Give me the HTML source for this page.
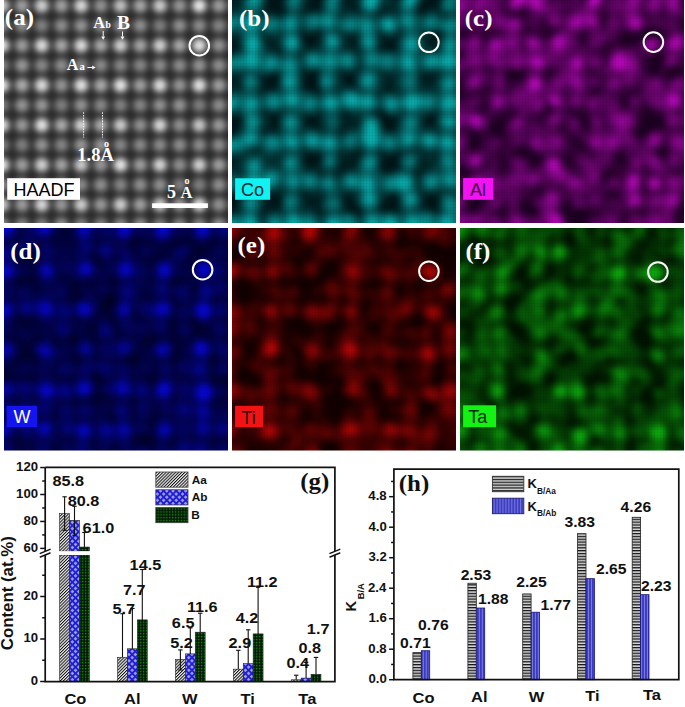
<!DOCTYPE html><html><head><meta charset="utf-8"><style>html,body{margin:0;padding:0;background:#fff;width:685px;height:707px;overflow:hidden}svg{display:block}</style></head><body><svg width="685" height="707" viewBox="0 0 685 707"><defs><clipPath id="c00"><rect x="4" y="0" width="224" height="223"/></clipPath><clipPath id="c01"><rect x="232" y="0" width="224" height="223"/></clipPath><clipPath id="c02"><rect x="460" y="0" width="224" height="223"/></clipPath><clipPath id="c10"><rect x="4" y="228" width="224" height="222.6"/></clipPath><clipPath id="c11"><rect x="232" y="228" width="224" height="222.6"/></clipPath><clipPath id="c12"><rect x="460" y="228" width="224" height="222.6"/></clipPath><filter id="fH" x="-5%" y="-5%" width="110%" height="110%" color-interpolation-filters="sRGB"><feGaussianBlur stdDeviation="3.3"/><feColorMatrix type="matrix" values="0.78 0 0 0 0.16 0.78 0 0 0 0.16 0.78 0 0 0 0.16 0 0 0 0 1"/></filter><pattern id="grid" width="3" height="3" patternUnits="userSpaceOnUse"><rect width="1" height="3" fill="#000" fill-opacity="0.05"/><rect width="3" height="1" fill="#000" fill-opacity="0.035"/></pattern><filter id="fCo" x="-5%" y="-5%" width="110%" height="110%" color-interpolation-filters="sRGB"><feGaussianBlur stdDeviation="2.0"/><feColorMatrix type="matrix" values="0.04 0 0 0 0 0.6 0 0 0 0.08 0.59 0 0 0 0.09 0 0 0 0 1"/></filter><filter id="fAl" x="-5%" y="-5%" width="110%" height="110%" color-interpolation-filters="sRGB"><feGaussianBlur stdDeviation="2.0"/><feColorMatrix type="matrix" values="0.6 0 0 0 0.11 0.03 0 0 0 0 0.59 0 0 0 0.13 0 0 0 0 1"/></filter><filter id="fW" x="-5%" y="-5%" width="110%" height="110%" color-interpolation-filters="sRGB"><feGaussianBlur stdDeviation="2.0"/><feColorMatrix type="matrix" values="0.02 0 0 0 0 0.02 0 0 0 0 0.72 0 0 0 0.09 0 0 0 0 1"/></filter><filter id="fTi" x="-5%" y="-5%" width="110%" height="110%" color-interpolation-filters="sRGB"><feGaussianBlur stdDeviation="2.0"/><feColorMatrix type="matrix" values="0.64 0 0 0 0.07 0.02 0 0 0 0 0.02 0 0 0 0 0 0 0 0 1"/></filter><filter id="fTa" x="-5%" y="-5%" width="110%" height="110%" color-interpolation-filters="sRGB"><feGaussianBlur stdDeviation="2.0"/><feColorMatrix type="matrix" values="0.05 0 0 0 0 0.59 0 0 0 0.07 0.05 0 0 0 0 0 0 0 0 1"/></filter><pattern id="pAa" width="2.2" height="2.2" patternUnits="userSpaceOnUse" patternTransform="rotate(45)"><rect width="2.2" height="2.2" fill="#f2f2f2"/><rect width="1.0" height="2.2" fill="#101010"/></pattern><pattern id="pAb" width="4.45" height="4.45" patternUnits="userSpaceOnUse" patternTransform="rotate(45)"><rect width="4.45" height="4.45" fill="#1e1ed8"/><rect x="0.95" y="0.95" width="2.55" height="2.55" fill="#a4a4e0"/></pattern><pattern id="pB" width="2.9" height="2.9" patternUnits="userSpaceOnUse"><rect width="2.9" height="2.9" fill="#021002"/><rect x="0.8" y="0.8" width="1.5" height="1.5" fill="#17901a"/></pattern><pattern id="pHa" width="3" height="2.85" patternUnits="userSpaceOnUse"><rect width="3" height="2.85" fill="#dcdcdc"/><rect width="3" height="1.3" fill="#121212"/></pattern><pattern id="pHb" width="2.95" height="3" patternUnits="userSpaceOnUse"><rect width="2.95" height="3" fill="#3838d4"/><rect x="0" width="0.7" height="3" fill="#16167c"/><rect x="0.7" width="1.0" height="3" fill="#9494ea"/></pattern></defs><rect width="685" height="707" fill="#fff"/><g clip-path="url(#c00)"><g filter="url(#fH)"><rect x="-6" y="-12" width="246" height="248" fill="#000"/><circle cx="2.3" cy="5.7" r="7.2" fill="rgb(211,211,211)"/><circle cx="22" cy="5.7" r="7.2" fill="rgb(154,154,154)"/><circle cx="41.7" cy="5.7" r="7.2" fill="rgb(217,217,217)"/><circle cx="61.4" cy="5.7" r="7.2" fill="rgb(156,156,156)"/><circle cx="81.1" cy="5.7" r="7.2" fill="rgb(230,230,230)"/><circle cx="100.8" cy="5.7" r="7.2" fill="rgb(137,137,137)"/><circle cx="120.5" cy="5.7" r="7.2" fill="rgb(199,199,199)"/><circle cx="140.2" cy="5.7" r="7.2" fill="rgb(165,165,165)"/><circle cx="159.9" cy="5.7" r="7.2" fill="rgb(212,212,212)"/><circle cx="179.6" cy="5.7" r="7.2" fill="rgb(143,143,143)"/><circle cx="199.3" cy="5.7" r="7.2" fill="rgb(249,249,249)"/><circle cx="219" cy="5.7" r="7.2" fill="rgb(151,151,151)"/><circle cx="238.7" cy="5.7" r="7.2" fill="rgb(241,241,241)"/><circle cx="2.3" cy="25.6" r="7.2" fill="rgb(126,126,126)"/><circle cx="22" cy="25.6" r="7.2" fill="rgb(132,132,132)"/><circle cx="41.7" cy="25.6" r="7.2" fill="rgb(115,115,115)"/><circle cx="61.4" cy="25.6" r="7.2" fill="rgb(132,132,132)"/><circle cx="81.1" cy="25.6" r="7.2" fill="rgb(140,140,140)"/><circle cx="100.8" cy="25.6" r="7.2" fill="rgb(128,128,128)"/><circle cx="120.5" cy="25.6" r="7.2" fill="rgb(136,136,136)"/><circle cx="140.2" cy="25.6" r="7.2" fill="rgb(133,133,133)"/><circle cx="159.9" cy="25.6" r="7.2" fill="rgb(111,111,111)"/><circle cx="179.6" cy="25.6" r="7.2" fill="rgb(136,136,136)"/><circle cx="199.3" cy="25.6" r="7.2" fill="rgb(130,130,130)"/><circle cx="219" cy="25.6" r="7.2" fill="rgb(120,120,120)"/><circle cx="238.7" cy="25.6" r="7.2" fill="rgb(110,110,110)"/><circle cx="2.3" cy="45.5" r="7.2" fill="rgb(243,243,243)"/><circle cx="22" cy="45.5" r="7.2" fill="rgb(152,152,152)"/><circle cx="41.7" cy="45.5" r="7.2" fill="rgb(235,235,235)"/><circle cx="61.4" cy="45.5" r="7.2" fill="rgb(166,166,166)"/><circle cx="81.1" cy="45.5" r="7.2" fill="rgb(235,235,235)"/><circle cx="100.8" cy="45.5" r="7.2" fill="rgb(168,168,168)"/><circle cx="120.5" cy="45.5" r="7.2" fill="rgb(219,219,219)"/><circle cx="140.2" cy="45.5" r="7.2" fill="rgb(163,163,163)"/><circle cx="159.9" cy="45.5" r="7.2" fill="rgb(221,221,221)"/><circle cx="179.6" cy="45.5" r="7.2" fill="rgb(168,168,168)"/><circle cx="199.3" cy="45.5" r="7.2" fill="rgb(243,243,243)"/><circle cx="219" cy="45.5" r="7.2" fill="rgb(138,138,138)"/><circle cx="238.7" cy="45.5" r="7.2" fill="rgb(205,205,205)"/><circle cx="2.3" cy="65.4" r="7.2" fill="rgb(117,117,117)"/><circle cx="22" cy="65.4" r="7.2" fill="rgb(144,144,144)"/><circle cx="41.7" cy="65.4" r="7.2" fill="rgb(125,125,125)"/><circle cx="61.4" cy="65.4" r="7.2" fill="rgb(132,132,132)"/><circle cx="81.1" cy="65.4" r="7.2" fill="rgb(120,120,120)"/><circle cx="100.8" cy="65.4" r="7.2" fill="rgb(127,127,127)"/><circle cx="120.5" cy="65.4" r="7.2" fill="rgb(123,123,123)"/><circle cx="140.2" cy="65.4" r="7.2" fill="rgb(122,122,122)"/><circle cx="159.9" cy="65.4" r="7.2" fill="rgb(130,130,130)"/><circle cx="179.6" cy="65.4" r="7.2" fill="rgb(130,130,130)"/><circle cx="199.3" cy="65.4" r="7.2" fill="rgb(141,141,141)"/><circle cx="219" cy="65.4" r="7.2" fill="rgb(133,133,133)"/><circle cx="238.7" cy="65.4" r="7.2" fill="rgb(142,142,142)"/><circle cx="2.3" cy="85.3" r="7.2" fill="rgb(242,242,242)"/><circle cx="22" cy="85.3" r="7.2" fill="rgb(170,170,170)"/><circle cx="41.7" cy="85.3" r="7.2" fill="rgb(233,233,233)"/><circle cx="61.4" cy="85.3" r="7.2" fill="rgb(140,140,140)"/><circle cx="81.1" cy="85.3" r="7.2" fill="rgb(242,242,242)"/><circle cx="100.8" cy="85.3" r="7.2" fill="rgb(169,169,169)"/><circle cx="120.5" cy="85.3" r="7.2" fill="rgb(245,245,245)"/><circle cx="140.2" cy="85.3" r="7.2" fill="rgb(155,155,155)"/><circle cx="159.9" cy="85.3" r="7.2" fill="rgb(235,235,235)"/><circle cx="179.6" cy="85.3" r="7.2" fill="rgb(142,142,142)"/><circle cx="199.3" cy="85.3" r="7.2" fill="rgb(241,241,241)"/><circle cx="219" cy="85.3" r="7.2" fill="rgb(155,155,155)"/><circle cx="238.7" cy="85.3" r="7.2" fill="rgb(213,213,213)"/><circle cx="2.3" cy="105.2" r="7.2" fill="rgb(111,111,111)"/><circle cx="22" cy="105.2" r="7.2" fill="rgb(140,140,140)"/><circle cx="41.7" cy="105.2" r="7.2" fill="rgb(144,144,144)"/><circle cx="61.4" cy="105.2" r="7.2" fill="rgb(112,112,112)"/><circle cx="81.1" cy="105.2" r="7.2" fill="rgb(138,138,138)"/><circle cx="100.8" cy="105.2" r="7.2" fill="rgb(124,124,124)"/><circle cx="120.5" cy="105.2" r="7.2" fill="rgb(115,115,115)"/><circle cx="140.2" cy="105.2" r="7.2" fill="rgb(120,120,120)"/><circle cx="159.9" cy="105.2" r="7.2" fill="rgb(137,137,137)"/><circle cx="179.6" cy="105.2" r="7.2" fill="rgb(140,140,140)"/><circle cx="199.3" cy="105.2" r="7.2" fill="rgb(111,111,111)"/><circle cx="219" cy="105.2" r="7.2" fill="rgb(131,131,131)"/><circle cx="238.7" cy="105.2" r="7.2" fill="rgb(111,111,111)"/><circle cx="2.3" cy="125.1" r="7.2" fill="rgb(235,235,235)"/><circle cx="22" cy="125.1" r="7.2" fill="rgb(146,146,146)"/><circle cx="41.7" cy="125.1" r="7.2" fill="rgb(243,243,243)"/><circle cx="61.4" cy="125.1" r="7.2" fill="rgb(170,170,170)"/><circle cx="81.1" cy="125.1" r="7.2" fill="rgb(224,224,224)"/><circle cx="100.8" cy="125.1" r="7.2" fill="rgb(170,170,170)"/><circle cx="120.5" cy="125.1" r="7.2" fill="rgb(214,214,214)"/><circle cx="140.2" cy="125.1" r="7.2" fill="rgb(137,137,137)"/><circle cx="159.9" cy="125.1" r="7.2" fill="rgb(229,229,229)"/><circle cx="179.6" cy="125.1" r="7.2" fill="rgb(136,136,136)"/><circle cx="199.3" cy="125.1" r="7.2" fill="rgb(208,208,208)"/><circle cx="219" cy="125.1" r="7.2" fill="rgb(149,149,149)"/><circle cx="238.7" cy="125.1" r="7.2" fill="rgb(230,230,230)"/><circle cx="2.3" cy="145" r="7.2" fill="rgb(115,115,115)"/><circle cx="22" cy="145" r="7.2" fill="rgb(111,111,111)"/><circle cx="41.7" cy="145" r="7.2" fill="rgb(140,140,140)"/><circle cx="61.4" cy="145" r="7.2" fill="rgb(120,120,120)"/><circle cx="81.1" cy="145" r="7.2" fill="rgb(143,143,143)"/><circle cx="100.8" cy="145" r="7.2" fill="rgb(141,141,141)"/><circle cx="120.5" cy="145" r="7.2" fill="rgb(123,123,123)"/><circle cx="140.2" cy="145" r="7.2" fill="rgb(126,126,126)"/><circle cx="159.9" cy="145" r="7.2" fill="rgb(128,128,128)"/><circle cx="179.6" cy="145" r="7.2" fill="rgb(132,132,132)"/><circle cx="199.3" cy="145" r="7.2" fill="rgb(130,130,130)"/><circle cx="219" cy="145" r="7.2" fill="rgb(129,129,129)"/><circle cx="238.7" cy="145" r="7.2" fill="rgb(131,131,131)"/><circle cx="2.3" cy="164.9" r="7.2" fill="rgb(246,246,246)"/><circle cx="22" cy="164.9" r="7.2" fill="rgb(153,153,153)"/><circle cx="41.7" cy="164.9" r="7.2" fill="rgb(220,220,220)"/><circle cx="61.4" cy="164.9" r="7.2" fill="rgb(160,160,160)"/><circle cx="81.1" cy="164.9" r="7.2" fill="rgb(211,211,211)"/><circle cx="100.8" cy="164.9" r="7.2" fill="rgb(145,145,145)"/><circle cx="120.5" cy="164.9" r="7.2" fill="rgb(248,248,248)"/><circle cx="140.2" cy="164.9" r="7.2" fill="rgb(153,153,153)"/><circle cx="159.9" cy="164.9" r="7.2" fill="rgb(226,226,226)"/><circle cx="179.6" cy="164.9" r="7.2" fill="rgb(135,135,135)"/><circle cx="199.3" cy="164.9" r="7.2" fill="rgb(220,220,220)"/><circle cx="219" cy="164.9" r="7.2" fill="rgb(155,155,155)"/><circle cx="238.7" cy="164.9" r="7.2" fill="rgb(199,199,199)"/><circle cx="2.3" cy="184.8" r="7.2" fill="rgb(131,131,131)"/><circle cx="22" cy="184.8" r="7.2" fill="rgb(132,132,132)"/><circle cx="41.7" cy="184.8" r="7.2" fill="rgb(111,111,111)"/><circle cx="61.4" cy="184.8" r="7.2" fill="rgb(132,132,132)"/><circle cx="81.1" cy="184.8" r="7.2" fill="rgb(126,126,126)"/><circle cx="100.8" cy="184.8" r="7.2" fill="rgb(133,133,133)"/><circle cx="120.5" cy="184.8" r="7.2" fill="rgb(122,122,122)"/><circle cx="140.2" cy="184.8" r="7.2" fill="rgb(134,134,134)"/><circle cx="159.9" cy="184.8" r="7.2" fill="rgb(135,135,135)"/><circle cx="179.6" cy="184.8" r="7.2" fill="rgb(110,110,110)"/><circle cx="199.3" cy="184.8" r="7.2" fill="rgb(111,111,111)"/><circle cx="219" cy="184.8" r="7.2" fill="rgb(133,133,133)"/><circle cx="238.7" cy="184.8" r="7.2" fill="rgb(144,144,144)"/><circle cx="2.3" cy="204.7" r="7.2" fill="rgb(211,211,211)"/><circle cx="22" cy="204.7" r="7.2" fill="rgb(151,151,151)"/><circle cx="41.7" cy="204.7" r="7.2" fill="rgb(229,229,229)"/><circle cx="61.4" cy="204.7" r="7.2" fill="rgb(146,146,146)"/><circle cx="81.1" cy="204.7" r="7.2" fill="rgb(217,217,217)"/><circle cx="100.8" cy="204.7" r="7.2" fill="rgb(146,146,146)"/><circle cx="120.5" cy="204.7" r="7.2" fill="rgb(217,217,217)"/><circle cx="140.2" cy="204.7" r="7.2" fill="rgb(156,156,156)"/><circle cx="159.9" cy="204.7" r="7.2" fill="rgb(214,214,214)"/><circle cx="179.6" cy="204.7" r="7.2" fill="rgb(148,148,148)"/><circle cx="199.3" cy="204.7" r="7.2" fill="rgb(238,238,238)"/><circle cx="219" cy="204.7" r="7.2" fill="rgb(136,136,136)"/><circle cx="238.7" cy="204.7" r="7.2" fill="rgb(227,227,227)"/><circle cx="2.3" cy="224.6" r="7.2" fill="rgb(135,135,135)"/><circle cx="22" cy="224.6" r="7.2" fill="rgb(120,120,120)"/><circle cx="41.7" cy="224.6" r="7.2" fill="rgb(117,117,117)"/><circle cx="61.4" cy="224.6" r="7.2" fill="rgb(138,138,138)"/><circle cx="81.1" cy="224.6" r="7.2" fill="rgb(118,118,118)"/><circle cx="100.8" cy="224.6" r="7.2" fill="rgb(116,116,116)"/><circle cx="120.5" cy="224.6" r="7.2" fill="rgb(125,125,125)"/><circle cx="140.2" cy="224.6" r="7.2" fill="rgb(134,134,134)"/><circle cx="159.9" cy="224.6" r="7.2" fill="rgb(113,113,113)"/><circle cx="179.6" cy="224.6" r="7.2" fill="rgb(121,121,121)"/><circle cx="199.3" cy="224.6" r="7.2" fill="rgb(121,121,121)"/><circle cx="219" cy="224.6" r="7.2" fill="rgb(139,139,139)"/><circle cx="238.7" cy="224.6" r="7.2" fill="rgb(125,125,125)"/></g></g><g clip-path="url(#c01)"><g filter="url(#fCo)"><rect x="222" y="-10" width="244" height="244" fill="#000"/><path fill="rgb(11,11,11)" d="M267 -5h5v5h-5zM347 -5h5v5h-5zM352 -5h5v5h-5zM437 -5h5v5h-5zM307 0h5v5h-5zM317 0h5v5h-5zM347 0h5v5h-5zM307 5h5v5h-5zM317 5h5v5h-5zM352 5h5v5h-5zM427 5h5v5h-5zM432 5h5v5h-5zM272 10h5v5h-5zM277 10h5v5h-5zM302 35h5v5h-5zM427 35h5v5h-5zM232 40h5v5h-5zM312 40h5v5h-5zM352 40h5v5h-5zM382 40h5v5h-5zM392 40h5v5h-5zM427 40h5v5h-5zM432 40h5v5h-5zM227 45h5v5h-5zM232 45h5v5h-5zM382 45h5v5h-5zM392 45h5v5h-5zM227 50h5v5h-5zM312 70h5v5h-5zM267 75h5v5h-5zM302 75h5v5h-5zM342 75h5v5h-5zM422 75h5v5h-5zM427 75h5v5h-5zM262 80h5v5h-5zM302 80h5v5h-5zM262 85h5v5h-5zM267 85h5v5h-5zM272 85h5v5h-5zM387 85h5v5h-5zM232 115h5v5h-5zM307 115h5v5h-5zM312 115h5v5h-5zM387 115h5v5h-5zM427 115h5v5h-5zM432 115h5v5h-5zM237 120h5v5h-5zM272 125h5v5h-5zM392 125h5v5h-5zM317 155h5v5h-5zM352 155h5v5h-5zM382 155h5v5h-5zM387 155h5v5h-5zM227 160h5v5h-5zM342 160h5v5h-5zM347 160h5v5h-5zM352 160h5v5h-5zM342 165h5v5h-5zM227 195h5v5h-5zM277 195h5v5h-5zM347 195h5v5h-5zM387 195h5v5h-5zM267 200h5v5h-5zM277 200h5v5h-5zM307 200h5v5h-5zM312 200h5v5h-5zM382 200h5v5h-5zM422 200h5v5h-5zM232 205h5v5h-5zM267 205h5v5h-5zM272 205h5v5h-5zM427 205h5v5h-5zM357 210h5v5h-5z"/><path fill="rgb(22,22,22)" d="M227 -5h5v5h-5zM232 -5h5v5h-5zM237 -5h5v5h-5zM282 -5h5v5h-5zM307 -5h5v5h-5zM392 -5h5v5h-5zM422 -5h5v5h-5zM227 0h5v5h-5zM232 0h5v5h-5zM342 0h5v5h-5zM352 0h5v5h-5zM347 5h5v5h-5zM417 5h5v5h-5zM417 10h5v5h-5zM422 10h5v5h-5zM232 35h5v5h-5zM317 35h5v5h-5zM347 35h5v5h-5zM352 35h5v5h-5zM382 35h5v5h-5zM392 35h5v5h-5zM437 35h5v5h-5zM227 40h5v5h-5zM267 40h5v5h-5zM272 40h5v5h-5zM302 40h5v5h-5zM347 40h5v5h-5zM272 45h5v5h-5zM307 45h5v5h-5zM352 45h5v5h-5zM432 45h5v5h-5zM302 70h5v5h-5zM307 70h5v5h-5zM232 75h5v5h-5zM262 75h5v5h-5zM352 75h5v5h-5zM387 75h5v5h-5zM432 75h5v5h-5zM227 80h5v5h-5zM232 80h5v5h-5zM342 80h5v5h-5zM352 80h5v5h-5zM387 80h5v5h-5zM422 80h5v5h-5zM427 80h5v5h-5zM227 85h5v5h-5zM302 85h5v5h-5zM382 85h5v5h-5zM377 110h5v5h-5zM227 115h5v5h-5zM237 115h5v5h-5zM267 115h5v5h-5zM317 115h5v5h-5zM342 115h5v5h-5zM347 115h5v5h-5zM392 115h5v5h-5zM267 120h5v5h-5zM302 120h5v5h-5zM317 120h5v5h-5zM342 120h5v5h-5zM347 120h5v5h-5zM352 120h5v5h-5zM422 120h5v5h-5zM432 120h5v5h-5zM237 125h5v5h-5zM267 125h5v5h-5zM312 125h5v5h-5zM317 125h5v5h-5zM342 125h5v5h-5zM382 125h5v5h-5zM232 130h5v5h-5zM352 150h5v5h-5zM357 150h5v5h-5zM302 155h5v5h-5zM342 155h5v5h-5zM347 155h5v5h-5zM232 160h5v5h-5zM302 160h5v5h-5zM317 160h5v5h-5zM422 160h5v5h-5zM227 165h5v5h-5zM307 165h5v5h-5zM312 165h5v5h-5zM337 165h5v5h-5zM347 165h5v5h-5zM422 165h5v5h-5zM337 170h5v5h-5zM417 170h5v5h-5zM237 195h5v5h-5zM267 195h5v5h-5zM302 195h5v5h-5zM307 195h5v5h-5zM312 195h5v5h-5zM317 195h5v5h-5zM342 195h5v5h-5zM422 195h5v5h-5zM317 200h5v5h-5zM342 200h5v5h-5zM352 200h5v5h-5zM262 205h5v5h-5zM277 205h5v5h-5zM312 205h5v5h-5zM317 205h5v5h-5zM422 205h5v5h-5zM227 210h5v5h-5zM262 210h5v5h-5zM317 210h5v5h-5zM352 210h5v5h-5z"/><path fill="rgb(33,33,33)" d="M342 -5h5v5h-5zM397 -5h5v5h-5zM237 0h5v5h-5zM392 0h5v5h-5zM437 0h5v5h-5zM227 5h5v5h-5zM232 5h5v5h-5zM282 5h5v5h-5zM302 5h5v5h-5zM342 5h5v5h-5zM382 5h5v5h-5zM387 5h5v5h-5zM392 5h5v5h-5zM262 10h5v5h-5zM267 10h5v5h-5zM282 10h5v5h-5zM302 10h5v5h-5zM377 10h5v5h-5zM382 10h5v5h-5zM302 30h5v5h-5zM312 30h5v5h-5zM317 30h5v5h-5zM432 30h5v5h-5zM437 30h5v5h-5zM227 35h5v5h-5zM267 35h5v5h-5zM387 35h5v5h-5zM422 35h5v5h-5zM317 40h5v5h-5zM237 45h5v5h-5zM267 45h5v5h-5zM277 45h5v5h-5zM312 45h5v5h-5zM347 45h5v5h-5zM377 45h5v5h-5zM427 45h5v5h-5zM277 50h5v5h-5zM342 70h5v5h-5zM347 70h5v5h-5zM352 70h5v5h-5zM227 75h5v5h-5zM237 75h5v5h-5zM382 75h5v5h-5zM392 75h5v5h-5zM237 80h5v5h-5zM382 80h5v5h-5zM392 80h5v5h-5zM432 80h5v5h-5zM232 85h5v5h-5zM237 85h5v5h-5zM392 85h5v5h-5zM422 85h5v5h-5zM427 85h5v5h-5zM312 90h5v5h-5zM317 90h5v5h-5zM262 110h5v5h-5zM342 110h5v5h-5zM382 110h5v5h-5zM277 115h5v5h-5zM302 115h5v5h-5zM352 115h5v5h-5zM377 115h5v5h-5zM422 115h5v5h-5zM262 125h5v5h-5zM307 125h5v5h-5zM347 125h5v5h-5zM352 125h5v5h-5zM422 125h5v5h-5zM427 125h5v5h-5zM432 125h5v5h-5zM262 130h5v5h-5zM302 150h5v5h-5zM307 150h5v5h-5zM312 150h5v5h-5zM347 150h5v5h-5zM397 150h5v5h-5zM232 155h5v5h-5zM357 155h5v5h-5zM397 155h5v5h-5zM422 155h5v5h-5zM432 155h5v5h-5zM427 160h5v5h-5zM232 165h5v5h-5zM317 165h5v5h-5zM352 165h5v5h-5zM397 165h5v5h-5zM417 165h5v5h-5zM427 165h5v5h-5zM317 170h5v5h-5zM382 170h5v5h-5zM387 170h5v5h-5zM272 190h5v5h-5zM277 190h5v5h-5zM302 190h5v5h-5zM262 195h5v5h-5zM352 195h5v5h-5zM382 195h5v5h-5zM437 195h5v5h-5zM262 200h5v5h-5zM302 200h5v5h-5zM302 205h5v5h-5zM307 205h5v5h-5zM342 205h5v5h-5zM357 205h5v5h-5zM377 205h5v5h-5zM397 205h5v5h-5z"/><path fill="rgb(44,44,44)" d="M322 -5h5v5h-5zM357 -5h5v5h-5zM387 -5h5v5h-5zM302 0h5v5h-5zM387 0h5v5h-5zM237 5h5v5h-5zM262 5h5v5h-5zM437 5h5v5h-5zM227 10h5v5h-5zM307 10h5v5h-5zM342 10h5v5h-5zM352 10h5v5h-5zM357 10h5v5h-5zM387 10h5v5h-5zM392 10h5v5h-5zM437 10h5v5h-5zM307 30h5v5h-5zM397 30h5v5h-5zM237 35h5v5h-5zM262 35h5v5h-5zM272 35h5v5h-5zM342 35h5v5h-5zM377 35h5v5h-5zM397 35h5v5h-5zM237 40h5v5h-5zM342 40h5v5h-5zM377 40h5v5h-5zM422 40h5v5h-5zM302 45h5v5h-5zM317 45h5v5h-5zM342 45h5v5h-5zM232 50h5v5h-5zM357 50h5v5h-5zM357 65h5v5h-5zM337 70h5v5h-5zM422 70h5v5h-5zM427 70h5v5h-5zM432 70h5v5h-5zM277 75h5v5h-5zM337 75h5v5h-5zM417 75h5v5h-5zM337 80h5v5h-5zM317 85h5v5h-5zM337 85h5v5h-5zM342 85h5v5h-5zM347 85h5v5h-5zM352 85h5v5h-5zM432 85h5v5h-5zM257 90h5v5h-5zM262 90h5v5h-5zM377 90h5v5h-5zM382 90h5v5h-5zM387 90h5v5h-5zM392 90h5v5h-5zM267 110h5v5h-5zM272 110h5v5h-5zM277 110h5v5h-5zM317 110h5v5h-5zM347 110h5v5h-5zM372 110h5v5h-5zM432 110h5v5h-5zM262 115h5v5h-5zM357 115h5v5h-5zM397 115h5v5h-5zM277 120h5v5h-5zM357 120h5v5h-5zM277 125h5v5h-5zM302 125h5v5h-5zM337 125h5v5h-5zM267 130h5v5h-5zM272 130h5v5h-5zM337 130h5v5h-5zM342 130h5v5h-5zM387 130h5v5h-5zM252 150h5v5h-5zM257 150h5v5h-5zM317 150h5v5h-5zM337 150h5v5h-5zM342 150h5v5h-5zM377 150h5v5h-5zM382 150h5v5h-5zM392 150h5v5h-5zM417 150h5v5h-5zM422 150h5v5h-5zM432 150h5v5h-5zM227 155h5v5h-5zM237 155h5v5h-5zM272 155h5v5h-5zM277 155h5v5h-5zM337 155h5v5h-5zM427 155h5v5h-5zM237 160h5v5h-5zM267 160h5v5h-5zM272 160h5v5h-5zM337 160h5v5h-5zM397 160h5v5h-5zM417 160h5v5h-5zM432 160h5v5h-5zM237 165h5v5h-5zM302 165h5v5h-5zM377 165h5v5h-5zM237 170h5v5h-5zM332 170h5v5h-5zM342 170h5v5h-5zM412 170h5v5h-5zM422 170h5v5h-5zM417 175h5v5h-5zM232 190h5v5h-5zM237 190h5v5h-5zM267 190h5v5h-5zM307 190h5v5h-5zM312 190h5v5h-5zM317 190h5v5h-5zM342 190h5v5h-5zM347 190h5v5h-5zM422 190h5v5h-5zM432 190h5v5h-5zM437 190h5v5h-5zM237 200h5v5h-5zM397 200h5v5h-5zM437 200h5v5h-5zM237 205h5v5h-5zM437 205h5v5h-5zM232 210h5v5h-5zM267 210h5v5h-5zM312 210h5v5h-5zM322 210h5v5h-5zM347 210h5v5h-5zM382 210h5v5h-5zM392 210h5v5h-5zM397 210h5v5h-5zM432 210h5v5h-5z"/><path fill="rgb(55,55,55)" d="M242 -5h5v5h-5zM262 0h5v5h-5zM282 0h5v5h-5zM382 0h5v5h-5zM417 0h5v5h-5zM357 5h5v5h-5zM312 10h5v5h-5zM317 10h5v5h-5zM347 10h5v5h-5zM427 10h5v5h-5zM432 10h5v5h-5zM277 15h5v5h-5zM297 30h5v5h-5zM377 30h5v5h-5zM422 30h5v5h-5zM427 30h5v5h-5zM277 35h5v5h-5zM262 40h5v5h-5zM277 40h5v5h-5zM437 40h5v5h-5zM357 45h5v5h-5zM422 45h5v5h-5zM437 45h5v5h-5zM272 50h5v5h-5zM297 50h5v5h-5zM302 50h5v5h-5zM352 50h5v5h-5zM392 50h5v5h-5zM272 70h5v5h-5zM317 70h5v5h-5zM357 70h5v5h-5zM377 70h5v5h-5zM382 70h5v5h-5zM387 70h5v5h-5zM392 70h5v5h-5zM417 70h5v5h-5zM437 70h5v5h-5zM257 75h5v5h-5zM437 75h5v5h-5zM277 80h5v5h-5zM417 80h5v5h-5zM257 85h5v5h-5zM277 85h5v5h-5zM377 85h5v5h-5zM397 85h5v5h-5zM417 85h5v5h-5zM227 90h5v5h-5zM307 90h5v5h-5zM397 90h5v5h-5zM427 110h5v5h-5zM337 115h5v5h-5zM262 120h5v5h-5zM397 120h5v5h-5zM322 125h5v5h-5zM237 130h5v5h-5zM277 130h5v5h-5zM392 130h5v5h-5zM227 135h5v5h-5zM247 150h5v5h-5zM387 150h5v5h-5zM427 150h5v5h-5zM242 155h5v5h-5zM262 155h5v5h-5zM267 155h5v5h-5zM377 155h5v5h-5zM417 155h5v5h-5zM277 160h5v5h-5zM377 160h5v5h-5zM432 165h5v5h-5zM227 170h5v5h-5zM232 170h5v5h-5zM322 170h5v5h-5zM392 170h5v5h-5zM337 175h5v5h-5zM417 180h5v5h-5zM417 185h5v5h-5zM262 190h5v5h-5zM282 190h5v5h-5zM297 190h5v5h-5zM352 190h5v5h-5zM417 190h5v5h-5zM427 190h5v5h-5zM322 195h5v5h-5zM397 195h5v5h-5zM417 205h5v5h-5zM237 210h5v5h-5zM257 210h5v5h-5zM272 210h5v5h-5zM277 210h5v5h-5zM342 210h5v5h-5zM387 210h5v5h-5zM437 210h5v5h-5zM262 215h5v5h-5zM317 215h5v5h-5zM357 215h5v5h-5z"/><path fill="rgb(67,67,67)" d="M302 -5h5v5h-5zM382 -5h5v5h-5zM357 0h5v5h-5zM397 5h5v5h-5zM232 10h5v5h-5zM237 10h5v5h-5zM257 10h5v5h-5zM297 10h5v5h-5zM337 10h5v5h-5zM397 10h5v5h-5zM442 10h5v5h-5zM377 15h5v5h-5zM232 30h5v5h-5zM262 30h5v5h-5zM277 30h5v5h-5zM337 30h5v5h-5zM342 30h5v5h-5zM352 30h5v5h-5zM357 35h5v5h-5zM397 40h5v5h-5zM262 45h5v5h-5zM397 45h5v5h-5zM237 50h5v5h-5zM267 50h5v5h-5zM377 50h5v5h-5zM382 50h5v5h-5zM387 50h5v5h-5zM297 55h5v5h-5zM357 55h5v5h-5zM357 60h5v5h-5zM302 65h5v5h-5zM232 70h5v5h-5zM237 70h5v5h-5zM277 70h5v5h-5zM397 70h5v5h-5zM317 75h5v5h-5zM377 75h5v5h-5zM397 75h5v5h-5zM257 80h5v5h-5zM377 80h5v5h-5zM237 90h5v5h-5zM267 90h5v5h-5zM302 90h5v5h-5zM337 90h5v5h-5zM432 90h5v5h-5zM377 95h5v5h-5zM377 105h5v5h-5zM232 110h5v5h-5zM237 110h5v5h-5zM282 110h5v5h-5zM302 110h5v5h-5zM312 110h5v5h-5zM337 110h5v5h-5zM352 110h5v5h-5zM357 110h5v5h-5zM397 110h5v5h-5zM422 110h5v5h-5zM437 110h5v5h-5zM322 115h5v5h-5zM322 120h5v5h-5zM337 120h5v5h-5zM357 125h5v5h-5zM397 125h5v5h-5zM437 125h5v5h-5zM317 130h5v5h-5zM322 130h5v5h-5zM382 130h5v5h-5zM437 130h5v5h-5zM457 130h5v5h-5zM257 145h5v5h-5zM357 145h5v5h-5zM417 145h5v5h-5zM242 150h5v5h-5zM262 150h5v5h-5zM277 150h5v5h-5zM282 150h5v5h-5zM297 150h5v5h-5zM362 150h5v5h-5zM402 150h5v5h-5zM412 150h5v5h-5zM437 150h5v5h-5zM437 155h5v5h-5zM262 160h5v5h-5zM357 160h5v5h-5zM272 165h5v5h-5zM277 165h5v5h-5zM312 170h5v5h-5zM377 170h5v5h-5zM277 185h5v5h-5zM322 190h5v5h-5zM337 190h5v5h-5zM382 190h5v5h-5zM387 190h5v5h-5zM392 190h5v5h-5zM442 190h5v5h-5zM452 190h5v5h-5zM457 190h5v5h-5zM297 195h5v5h-5zM337 195h5v5h-5zM457 195h5v5h-5zM377 200h5v5h-5zM297 205h5v5h-5zM302 210h5v5h-5zM307 210h5v5h-5zM362 210h5v5h-5zM377 210h5v5h-5zM257 215h5v5h-5zM262 225h5v5h-5z"/><path fill="rgb(78,78,78)" d="M442 -5h5v5h-5zM397 0h5v5h-5zM322 5h5v5h-5zM337 5h5v5h-5zM377 5h5v5h-5zM372 10h5v5h-5zM412 10h5v5h-5zM452 10h5v5h-5zM457 10h5v5h-5zM262 15h5v5h-5zM337 15h5v5h-5zM372 15h5v5h-5zM417 15h5v5h-5zM437 15h5v5h-5zM442 15h5v5h-5zM457 15h5v5h-5zM302 25h5v5h-5zM237 30h5v5h-5zM322 30h5v5h-5zM347 30h5v5h-5zM392 30h5v5h-5zM417 30h5v5h-5zM297 35h5v5h-5zM357 40h5v5h-5zM282 50h5v5h-5zM397 50h5v5h-5zM422 50h5v5h-5zM432 50h5v5h-5zM352 65h5v5h-5zM227 70h5v5h-5zM242 70h5v5h-5zM257 70h5v5h-5zM262 70h5v5h-5zM267 70h5v5h-5zM297 70h5v5h-5zM297 75h5v5h-5zM317 80h5v5h-5zM397 80h5v5h-5zM297 85h5v5h-5zM332 85h5v5h-5zM357 85h5v5h-5zM437 85h5v5h-5zM232 90h5v5h-5zM272 90h5v5h-5zM277 90h5v5h-5zM332 90h5v5h-5zM372 90h5v5h-5zM422 90h5v5h-5zM427 90h5v5h-5zM437 90h5v5h-5zM317 95h5v5h-5zM257 110h5v5h-5zM297 110h5v5h-5zM307 110h5v5h-5zM322 110h5v5h-5zM402 110h5v5h-5zM297 115h5v5h-5zM417 115h5v5h-5zM437 115h5v5h-5zM377 120h5v5h-5zM417 120h5v5h-5zM417 125h5v5h-5zM257 130h5v5h-5zM297 130h5v5h-5zM302 130h5v5h-5zM332 130h5v5h-5zM347 130h5v5h-5zM432 130h5v5h-5zM337 135h5v5h-5zM457 135h5v5h-5zM252 145h5v5h-5zM302 145h5v5h-5zM412 145h5v5h-5zM272 150h5v5h-5zM407 150h5v5h-5zM297 155h5v5h-5zM457 155h5v5h-5zM242 160h5v5h-5zM437 160h5v5h-5zM262 165h5v5h-5zM267 165h5v5h-5zM322 165h5v5h-5zM332 165h5v5h-5zM357 165h5v5h-5zM412 165h5v5h-5zM437 165h5v5h-5zM242 170h5v5h-5zM302 170h5v5h-5zM307 170h5v5h-5zM327 170h5v5h-5zM347 170h5v5h-5zM352 170h5v5h-5zM427 170h5v5h-5zM317 175h5v5h-5zM332 175h5v5h-5zM412 175h5v5h-5zM282 185h5v5h-5zM337 185h5v5h-5zM227 190h5v5h-5zM242 190h5v5h-5zM377 190h5v5h-5zM447 190h5v5h-5zM282 195h5v5h-5zM377 195h5v5h-5zM417 195h5v5h-5zM297 200h5v5h-5zM322 200h5v5h-5zM357 200h5v5h-5zM417 200h5v5h-5zM257 205h5v5h-5zM322 205h5v5h-5zM282 210h5v5h-5zM297 210h5v5h-5zM337 210h5v5h-5zM402 210h5v5h-5zM427 210h5v5h-5zM322 215h5v5h-5zM262 220h5v5h-5z"/><path fill="rgb(89,89,89)" d="M262 -5h5v5h-5zM322 0h5v5h-5zM337 0h5v5h-5zM242 5h5v5h-5zM297 5h5v5h-5zM287 10h5v5h-5zM362 10h5v5h-5zM447 10h5v5h-5zM257 15h5v5h-5zM272 15h5v5h-5zM297 15h5v5h-5zM302 15h5v5h-5zM342 15h5v5h-5zM422 15h5v5h-5zM297 25h5v5h-5zM397 25h5v5h-5zM417 25h5v5h-5zM227 30h5v5h-5zM257 30h5v5h-5zM267 30h5v5h-5zM272 30h5v5h-5zM357 30h5v5h-5zM382 30h5v5h-5zM402 30h5v5h-5zM442 30h5v5h-5zM417 35h5v5h-5zM442 35h5v5h-5zM457 35h5v5h-5zM337 45h5v5h-5zM262 50h5v5h-5zM307 50h5v5h-5zM317 50h5v5h-5zM337 50h5v5h-5zM342 50h5v5h-5zM347 50h5v5h-5zM417 50h5v5h-5zM427 50h5v5h-5zM437 50h5v5h-5zM227 55h5v5h-5zM277 55h5v5h-5zM297 65h5v5h-5zM337 65h5v5h-5zM362 65h5v5h-5zM417 65h5v5h-5zM332 70h5v5h-5zM457 70h5v5h-5zM242 75h5v5h-5zM357 75h5v5h-5zM457 75h5v5h-5zM297 80h5v5h-5zM437 80h5v5h-5zM242 85h5v5h-5zM242 90h5v5h-5zM322 90h5v5h-5zM357 90h5v5h-5zM402 90h5v5h-5zM417 90h5v5h-5zM457 90h5v5h-5zM257 95h5v5h-5zM262 105h5v5h-5zM362 110h5v5h-5zM367 110h5v5h-5zM387 110h5v5h-5zM392 110h5v5h-5zM417 110h5v5h-5zM242 115h5v5h-5zM242 120h5v5h-5zM437 120h5v5h-5zM242 125h5v5h-5zM257 125h5v5h-5zM297 125h5v5h-5zM352 130h5v5h-5zM397 130h5v5h-5zM417 130h5v5h-5zM422 130h5v5h-5zM452 130h5v5h-5zM337 145h5v5h-5zM342 145h5v5h-5zM352 145h5v5h-5zM397 145h5v5h-5zM237 150h5v5h-5zM267 150h5v5h-5zM322 150h5v5h-5zM372 150h5v5h-5zM457 150h5v5h-5zM247 155h5v5h-5zM257 155h5v5h-5zM282 155h5v5h-5zM322 155h5v5h-5zM297 160h5v5h-5zM242 165h5v5h-5zM297 165h5v5h-5zM357 170h5v5h-5zM397 170h5v5h-5zM432 170h5v5h-5zM437 170h5v5h-5zM227 175h5v5h-5zM237 175h5v5h-5zM337 180h5v5h-5zM317 185h5v5h-5zM437 185h5v5h-5zM257 190h5v5h-5zM357 190h5v5h-5zM242 195h5v5h-5zM257 195h5v5h-5zM357 195h5v5h-5zM282 205h5v5h-5zM337 205h5v5h-5zM327 210h5v5h-5zM417 210h5v5h-5zM422 210h5v5h-5zM317 220h5v5h-5zM357 220h5v5h-5zM322 225h5v5h-5z"/><path fill="rgb(100,100,100)" d="M242 0h5v5h-5zM242 10h5v5h-5zM292 10h5v5h-5zM322 10h5v5h-5zM227 15h5v5h-5zM282 15h5v5h-5zM357 15h5v5h-5zM392 15h5v5h-5zM397 15h5v5h-5zM447 15h5v5h-5zM452 15h5v5h-5zM417 20h5v5h-5zM317 25h5v5h-5zM337 25h5v5h-5zM282 30h5v5h-5zM332 30h5v5h-5zM322 35h5v5h-5zM337 35h5v5h-5zM297 45h5v5h-5zM322 45h5v5h-5zM312 50h5v5h-5zM322 50h5v5h-5zM362 50h5v5h-5zM282 55h5v5h-5zM302 55h5v5h-5zM417 55h5v5h-5zM297 60h5v5h-5zM377 65h5v5h-5zM392 65h5v5h-5zM252 70h5v5h-5zM372 70h5v5h-5zM442 70h5v5h-5zM452 70h5v5h-5zM332 75h5v5h-5zM357 80h5v5h-5zM252 90h5v5h-5zM297 90h5v5h-5zM362 90h5v5h-5zM262 95h5v5h-5zM397 95h5v5h-5zM377 100h5v5h-5zM282 105h5v5h-5zM317 105h5v5h-5zM432 105h5v5h-5zM227 110h5v5h-5zM287 110h5v5h-5zM292 110h5v5h-5zM257 115h5v5h-5zM282 115h5v5h-5zM362 115h5v5h-5zM372 115h5v5h-5zM402 115h5v5h-5zM457 115h5v5h-5zM297 120h5v5h-5zM327 125h5v5h-5zM332 125h5v5h-5zM282 130h5v5h-5zM312 130h5v5h-5zM327 130h5v5h-5zM357 130h5v5h-5zM427 130h5v5h-5zM232 135h5v5h-5zM262 135h5v5h-5zM342 135h5v5h-5zM262 145h5v5h-5zM297 145h5v5h-5zM377 145h5v5h-5zM422 145h5v5h-5zM232 150h5v5h-5zM287 150h5v5h-5zM292 150h5v5h-5zM332 150h5v5h-5zM452 150h5v5h-5zM252 155h5v5h-5zM402 155h5v5h-5zM457 160h5v5h-5zM402 165h5v5h-5zM277 170h5v5h-5zM282 170h5v5h-5zM297 170h5v5h-5zM407 170h5v5h-5zM457 170h5v5h-5zM322 175h5v5h-5zM377 175h5v5h-5zM382 175h5v5h-5zM412 180h5v5h-5zM237 185h5v5h-5zM272 185h5v5h-5zM297 185h5v5h-5zM302 185h5v5h-5zM342 185h5v5h-5zM377 185h5v5h-5zM412 185h5v5h-5zM422 185h5v5h-5zM442 185h5v5h-5zM287 190h5v5h-5zM292 190h5v5h-5zM332 190h5v5h-5zM397 190h5v5h-5zM257 200h5v5h-5zM282 200h5v5h-5zM337 200h5v5h-5zM362 205h5v5h-5zM372 205h5v5h-5zM402 205h5v5h-5zM412 205h5v5h-5zM242 210h5v5h-5zM332 210h5v5h-5zM372 210h5v5h-5zM412 210h5v5h-5zM227 215h5v5h-5zM312 215h5v5h-5zM352 215h5v5h-5zM257 220h5v5h-5zM357 225h5v5h-5zM362 225h5v5h-5z"/><path fill="rgb(111,111,111)" d="M287 -5h5v5h-5zM337 -5h5v5h-5zM417 -5h5v5h-5zM457 -5h5v5h-5zM297 0h5v5h-5zM377 0h5v5h-5zM457 0h5v5h-5zM257 5h5v5h-5zM287 5h5v5h-5zM412 5h5v5h-5zM457 5h5v5h-5zM367 10h5v5h-5zM267 15h5v5h-5zM347 15h5v5h-5zM352 15h5v5h-5zM367 15h5v5h-5zM382 15h5v5h-5zM297 20h5v5h-5zM302 20h5v5h-5zM332 25h5v5h-5zM377 25h5v5h-5zM422 25h5v5h-5zM437 25h5v5h-5zM372 30h5v5h-5zM387 30h5v5h-5zM412 30h5v5h-5zM452 30h5v5h-5zM457 30h5v5h-5zM257 35h5v5h-5zM282 35h5v5h-5zM402 35h5v5h-5zM297 40h5v5h-5zM322 40h5v5h-5zM282 45h5v5h-5zM372 45h5v5h-5zM292 50h5v5h-5zM292 55h5v5h-5zM352 55h5v5h-5zM302 60h5v5h-5zM417 60h5v5h-5zM307 65h5v5h-5zM312 65h5v5h-5zM317 65h5v5h-5zM342 65h5v5h-5zM372 65h5v5h-5zM397 65h5v5h-5zM422 65h5v5h-5zM247 70h5v5h-5zM362 70h5v5h-5zM402 70h5v5h-5zM242 80h5v5h-5zM332 80h5v5h-5zM252 85h5v5h-5zM372 85h5v5h-5zM402 85h5v5h-5zM412 85h5v5h-5zM457 85h5v5h-5zM247 90h5v5h-5zM282 90h5v5h-5zM327 90h5v5h-5zM342 90h5v5h-5zM452 90h5v5h-5zM312 95h5v5h-5zM382 95h5v5h-5zM437 95h5v5h-5zM457 95h5v5h-5zM257 105h5v5h-5zM277 105h5v5h-5zM337 105h5v5h-5zM342 105h5v5h-5zM372 105h5v5h-5zM382 105h5v5h-5zM437 105h5v5h-5zM242 110h5v5h-5zM332 110h5v5h-5zM412 110h5v5h-5zM452 110h5v5h-5zM457 110h5v5h-5zM327 115h5v5h-5zM332 115h5v5h-5zM282 125h5v5h-5zM377 125h5v5h-5zM242 130h5v5h-5zM307 130h5v5h-5zM442 130h5v5h-5zM257 135h5v5h-5zM277 135h5v5h-5zM392 135h5v5h-5zM257 140h5v5h-5zM337 140h5v5h-5zM357 140h5v5h-5zM247 145h5v5h-5zM282 145h5v5h-5zM347 145h5v5h-5zM362 145h5v5h-5zM392 145h5v5h-5zM402 145h5v5h-5zM407 145h5v5h-5zM432 145h5v5h-5zM437 145h5v5h-5zM367 150h5v5h-5zM332 155h5v5h-5zM362 155h5v5h-5zM412 155h5v5h-5zM452 155h5v5h-5zM322 160h5v5h-5zM282 165h5v5h-5zM327 165h5v5h-5zM457 165h5v5h-5zM372 170h5v5h-5zM402 170h5v5h-5zM232 175h5v5h-5zM342 175h5v5h-5zM422 175h5v5h-5zM277 180h5v5h-5zM377 180h5v5h-5zM242 185h5v5h-5zM262 185h5v5h-5zM312 185h5v5h-5zM452 185h5v5h-5zM327 190h5v5h-5zM327 195h5v5h-5zM332 195h5v5h-5zM442 195h5v5h-5zM452 195h5v5h-5zM242 205h5v5h-5zM367 210h5v5h-5zM407 210h5v5h-5zM267 215h5v5h-5zM362 215h5v5h-5zM397 215h5v5h-5zM267 225h5v5h-5zM317 225h5v5h-5z"/><path fill="rgb(122,122,122)" d="M442 5h5v5h-5zM452 5h5v5h-5zM252 10h5v5h-5zM332 10h5v5h-5zM402 10h5v5h-5zM237 15h5v5h-5zM362 15h5v5h-5zM412 15h5v5h-5zM432 15h5v5h-5zM337 20h5v5h-5zM372 20h5v5h-5zM377 20h5v5h-5zM397 20h5v5h-5zM237 25h5v5h-5zM277 25h5v5h-5zM307 25h5v5h-5zM312 25h5v5h-5zM402 25h5v5h-5zM412 25h5v5h-5zM432 25h5v5h-5zM242 30h5v5h-5zM292 30h5v5h-5zM327 30h5v5h-5zM242 35h5v5h-5zM372 35h5v5h-5zM452 35h5v5h-5zM337 40h5v5h-5zM417 40h5v5h-5zM457 40h5v5h-5zM242 45h5v5h-5zM417 45h5v5h-5zM242 50h5v5h-5zM287 50h5v5h-5zM332 50h5v5h-5zM372 50h5v5h-5zM457 50h5v5h-5zM262 55h5v5h-5zM362 55h5v5h-5zM392 55h5v5h-5zM397 55h5v5h-5zM352 60h5v5h-5zM362 60h5v5h-5zM347 65h5v5h-5zM367 65h5v5h-5zM382 65h5v5h-5zM322 70h5v5h-5zM412 70h5v5h-5zM447 70h5v5h-5zM252 75h5v5h-5zM402 75h5v5h-5zM412 75h5v5h-5zM442 75h5v5h-5zM452 75h5v5h-5zM457 80h5v5h-5zM322 85h5v5h-5zM352 90h5v5h-5zM367 90h5v5h-5zM412 90h5v5h-5zM227 95h5v5h-5zM237 95h5v5h-5zM302 95h5v5h-5zM337 95h5v5h-5zM372 95h5v5h-5zM392 95h5v5h-5zM432 95h5v5h-5zM262 100h5v5h-5zM317 100h5v5h-5zM237 105h5v5h-5zM297 105h5v5h-5zM397 105h5v5h-5zM327 110h5v5h-5zM407 110h5v5h-5zM257 120h5v5h-5zM327 120h5v5h-5zM332 120h5v5h-5zM452 125h5v5h-5zM457 125h5v5h-5zM447 130h5v5h-5zM237 135h5v5h-5zM297 135h5v5h-5zM357 135h5v5h-5zM397 135h5v5h-5zM417 135h5v5h-5zM437 135h5v5h-5zM452 135h5v5h-5zM417 140h5v5h-5zM277 145h5v5h-5zM307 145h5v5h-5zM317 145h5v5h-5zM382 145h5v5h-5zM327 150h5v5h-5zM282 160h5v5h-5zM332 160h5v5h-5zM412 160h5v5h-5zM407 165h5v5h-5zM452 165h5v5h-5zM262 170h5v5h-5zM442 170h5v5h-5zM242 175h5v5h-5zM282 175h5v5h-5zM237 180h5v5h-5zM282 180h5v5h-5zM317 180h5v5h-5zM232 185h5v5h-5zM307 185h5v5h-5zM332 185h5v5h-5zM382 185h5v5h-5zM432 185h5v5h-5zM447 185h5v5h-5zM457 185h5v5h-5zM247 190h5v5h-5zM252 190h5v5h-5zM412 190h5v5h-5zM457 200h5v5h-5zM292 205h5v5h-5zM327 205h5v5h-5zM252 210h5v5h-5zM287 210h5v5h-5zM292 210h5v5h-5zM442 210h5v5h-5zM457 210h5v5h-5zM237 215h5v5h-5zM277 215h5v5h-5zM282 215h5v5h-5zM402 215h5v5h-5zM432 215h5v5h-5zM457 215h5v5h-5zM322 220h5v5h-5z"/><path fill="rgb(133,133,133)" d="M402 -5h5v5h-5zM442 0h5v5h-5zM452 0h5v5h-5zM292 5h5v5h-5zM247 10h5v5h-5zM407 10h5v5h-5zM307 15h5v5h-5zM317 15h5v5h-5zM332 15h5v5h-5zM387 15h5v5h-5zM427 15h5v5h-5zM262 20h5v5h-5zM277 20h5v5h-5zM422 20h5v5h-5zM437 20h5v5h-5zM457 20h5v5h-5zM232 25h5v5h-5zM257 25h5v5h-5zM262 25h5v5h-5zM322 25h5v5h-5zM372 25h5v5h-5zM407 30h5v5h-5zM242 40h5v5h-5zM362 45h5v5h-5zM257 50h5v5h-5zM232 55h5v5h-5zM272 55h5v5h-5zM422 55h5v5h-5zM457 55h5v5h-5zM257 65h5v5h-5zM277 65h5v5h-5zM332 65h5v5h-5zM387 65h5v5h-5zM432 65h5v5h-5zM437 65h5v5h-5zM282 70h5v5h-5zM327 70h5v5h-5zM367 70h5v5h-5zM402 80h5v5h-5zM412 80h5v5h-5zM282 85h5v5h-5zM327 85h5v5h-5zM362 85h5v5h-5zM452 85h5v5h-5zM407 90h5v5h-5zM442 90h5v5h-5zM242 95h5v5h-5zM307 95h5v5h-5zM322 95h5v5h-5zM257 100h5v5h-5zM437 100h5v5h-5zM267 105h5v5h-5zM287 105h5v5h-5zM292 105h5v5h-5zM302 105h5v5h-5zM312 105h5v5h-5zM442 110h5v5h-5zM367 115h5v5h-5zM412 115h5v5h-5zM282 120h5v5h-5zM402 120h5v5h-5zM457 120h5v5h-5zM402 125h5v5h-5zM442 125h5v5h-5zM292 130h5v5h-5zM377 130h5v5h-5zM412 130h5v5h-5zM302 135h5v5h-5zM332 135h5v5h-5zM382 135h5v5h-5zM262 140h5v5h-5zM342 140h5v5h-5zM397 140h5v5h-5zM457 140h5v5h-5zM242 145h5v5h-5zM312 145h5v5h-5zM427 145h5v5h-5zM457 145h5v5h-5zM227 150h5v5h-5zM442 150h5v5h-5zM292 155h5v5h-5zM372 155h5v5h-5zM257 160h5v5h-5zM402 160h5v5h-5zM452 160h5v5h-5zM372 165h5v5h-5zM442 165h5v5h-5zM292 170h5v5h-5zM362 170h5v5h-5zM452 170h5v5h-5zM277 175h5v5h-5zM297 175h5v5h-5zM312 175h5v5h-5zM327 175h5v5h-5zM372 175h5v5h-5zM387 175h5v5h-5zM437 175h5v5h-5zM457 175h5v5h-5zM332 180h5v5h-5zM422 180h5v5h-5zM437 180h5v5h-5zM267 185h5v5h-5zM287 185h5v5h-5zM322 185h5v5h-5zM347 185h5v5h-5zM352 185h5v5h-5zM292 195h5v5h-5zM242 200h5v5h-5zM332 205h5v5h-5zM407 205h5v5h-5zM442 205h5v5h-5zM232 215h5v5h-5zM302 215h5v5h-5zM437 215h5v5h-5zM397 220h5v5h-5zM457 220h5v5h-5zM402 225h5v5h-5zM457 225h5v5h-5z"/><path fill="rgb(144,144,144)" d="M297 -5h5v5h-5zM362 -5h5v5h-5zM452 -5h5v5h-5zM287 0h5v5h-5zM362 5h5v5h-5zM327 10h5v5h-5zM232 15h5v5h-5zM292 15h5v5h-5zM257 20h5v5h-5zM412 20h5v5h-5zM442 20h5v5h-5zM282 25h5v5h-5zM342 25h5v5h-5zM357 25h5v5h-5zM427 25h5v5h-5zM287 30h5v5h-5zM447 30h5v5h-5zM282 40h5v5h-5zM372 40h5v5h-5zM442 40h5v5h-5zM457 45h5v5h-5zM327 50h5v5h-5zM367 50h5v5h-5zM402 50h5v5h-5zM412 50h5v5h-5zM452 50h5v5h-5zM237 55h5v5h-5zM287 55h5v5h-5zM337 55h5v5h-5zM377 55h5v5h-5zM412 55h5v5h-5zM277 60h5v5h-5zM392 60h5v5h-5zM397 60h5v5h-5zM232 65h5v5h-5zM237 65h5v5h-5zM242 65h5v5h-5zM262 65h5v5h-5zM322 65h5v5h-5zM427 65h5v5h-5zM452 65h5v5h-5zM372 75h5v5h-5zM372 80h5v5h-5zM247 85h5v5h-5zM407 85h5v5h-5zM347 90h5v5h-5zM252 95h5v5h-5zM277 95h5v5h-5zM297 95h5v5h-5zM387 95h5v5h-5zM402 95h5v5h-5zM382 100h5v5h-5zM432 100h5v5h-5zM272 105h5v5h-5zM322 105h5v5h-5zM357 105h5v5h-5zM402 105h5v5h-5zM422 105h5v5h-5zM427 105h5v5h-5zM252 110h5v5h-5zM292 115h5v5h-5zM452 115h5v5h-5zM362 120h5v5h-5zM412 125h5v5h-5zM287 130h5v5h-5zM267 135h5v5h-5zM272 135h5v5h-5zM282 135h5v5h-5zM317 135h5v5h-5zM322 135h5v5h-5zM352 135h5v5h-5zM387 135h5v5h-5zM297 140h5v5h-5zM302 140h5v5h-5zM352 140h5v5h-5zM412 140h5v5h-5zM387 145h5v5h-5zM452 145h5v5h-5zM447 150h5v5h-5zM287 155h5v5h-5zM407 155h5v5h-5zM257 170h5v5h-5zM267 170h5v5h-5zM272 170h5v5h-5zM287 170h5v5h-5zM367 170h5v5h-5zM302 175h5v5h-5zM357 175h5v5h-5zM242 180h5v5h-5zM297 180h5v5h-5zM342 180h5v5h-5zM382 180h5v5h-5zM257 185h5v5h-5zM292 185h5v5h-5zM357 185h5v5h-5zM427 185h5v5h-5zM372 190h5v5h-5zM247 195h5v5h-5zM252 195h5v5h-5zM287 195h5v5h-5zM447 195h5v5h-5zM327 200h5v5h-5zM402 200h5v5h-5zM442 200h5v5h-5zM287 205h5v5h-5zM367 205h5v5h-5zM457 205h5v5h-5zM247 210h5v5h-5zM452 210h5v5h-5zM272 215h5v5h-5zM307 215h5v5h-5zM327 215h5v5h-5zM337 215h5v5h-5zM342 215h5v5h-5zM377 215h5v5h-5zM352 220h5v5h-5zM362 220h5v5h-5zM432 220h5v5h-5zM282 225h5v5h-5zM397 225h5v5h-5zM432 225h5v5h-5zM437 225h5v5h-5z"/><path fill="rgb(155,155,155)" d="M247 -5h5v5h-5zM327 -5h5v5h-5zM377 -5h5v5h-5zM447 -5h5v5h-5zM257 0h5v5h-5zM247 5h5v5h-5zM332 5h5v5h-5zM402 5h5v5h-5zM242 15h5v5h-5zM287 15h5v5h-5zM312 15h5v5h-5zM282 20h5v5h-5zM332 20h5v5h-5zM342 20h5v5h-5zM357 20h5v5h-5zM272 25h5v5h-5zM327 25h5v5h-5zM352 25h5v5h-5zM392 25h5v5h-5zM442 25h5v5h-5zM457 25h5v5h-5zM412 35h5v5h-5zM447 35h5v5h-5zM257 40h5v5h-5zM257 45h5v5h-5zM332 45h5v5h-5zM402 45h5v5h-5zM442 45h5v5h-5zM442 50h5v5h-5zM257 55h5v5h-5zM267 55h5v5h-5zM317 55h5v5h-5zM382 55h5v5h-5zM387 55h5v5h-5zM337 60h5v5h-5zM377 60h5v5h-5zM272 65h5v5h-5zM412 65h5v5h-5zM457 65h5v5h-5zM292 70h5v5h-5zM407 70h5v5h-5zM247 75h5v5h-5zM282 75h5v5h-5zM322 75h5v5h-5zM407 75h5v5h-5zM252 80h5v5h-5zM452 80h5v5h-5zM292 85h5v5h-5zM367 85h5v5h-5zM292 90h5v5h-5zM447 90h5v5h-5zM232 95h5v5h-5zM267 95h5v5h-5zM332 95h5v5h-5zM422 95h5v5h-5zM427 95h5v5h-5zM237 100h5v5h-5zM297 100h5v5h-5zM302 100h5v5h-5zM337 100h5v5h-5zM397 100h5v5h-5zM232 105h5v5h-5zM242 105h5v5h-5zM347 105h5v5h-5zM352 105h5v5h-5zM417 105h5v5h-5zM447 110h5v5h-5zM407 115h5v5h-5zM292 125h5v5h-5zM252 130h5v5h-5zM402 130h5v5h-5zM347 135h5v5h-5zM277 140h5v5h-5zM392 140h5v5h-5zM437 140h5v5h-5zM267 145h5v5h-5zM272 145h5v5h-5zM287 145h5v5h-5zM322 145h5v5h-5zM332 145h5v5h-5zM372 145h5v5h-5zM327 155h5v5h-5zM442 155h5v5h-5zM247 160h5v5h-5zM257 165h5v5h-5zM292 165h5v5h-5zM362 165h5v5h-5zM247 170h5v5h-5zM392 175h5v5h-5zM232 180h5v5h-5zM302 180h5v5h-5zM372 185h5v5h-5zM402 190h5v5h-5zM402 195h5v5h-5zM292 200h5v5h-5zM332 200h5v5h-5zM452 200h5v5h-5zM252 205h5v5h-5zM452 205h5v5h-5zM242 215h5v5h-5zM252 215h5v5h-5zM297 215h5v5h-5zM347 215h5v5h-5zM382 215h5v5h-5zM392 215h5v5h-5zM452 215h5v5h-5zM267 220h5v5h-5zM282 220h5v5h-5zM312 220h5v5h-5zM257 225h5v5h-5z"/><path fill="rgb(166,166,166)" d="M332 0h5v5h-5zM412 0h5v5h-5zM252 5h5v5h-5zM327 5h5v5h-5zM447 5h5v5h-5zM322 15h5v5h-5zM402 15h5v5h-5zM237 20h5v5h-5zM272 20h5v5h-5zM307 20h5v5h-5zM317 20h5v5h-5zM352 20h5v5h-5zM392 20h5v5h-5zM432 20h5v5h-5zM452 20h5v5h-5zM242 25h5v5h-5zM267 25h5v5h-5zM292 25h5v5h-5zM407 25h5v5h-5zM452 25h5v5h-5zM252 30h5v5h-5zM362 30h5v5h-5zM362 35h5v5h-5zM402 40h5v5h-5zM452 40h5v5h-5zM327 45h5v5h-5zM452 45h5v5h-5zM322 55h5v5h-5zM332 55h5v5h-5zM437 55h5v5h-5zM262 60h5v5h-5zM282 60h5v5h-5zM292 60h5v5h-5zM422 60h5v5h-5zM227 65h5v5h-5zM282 65h5v5h-5zM327 65h5v5h-5zM442 65h5v5h-5zM327 75h5v5h-5zM447 75h5v5h-5zM442 85h5v5h-5zM287 90h5v5h-5zM247 95h5v5h-5zM282 95h5v5h-5zM452 95h5v5h-5zM242 100h5v5h-5zM277 100h5v5h-5zM282 100h5v5h-5zM312 100h5v5h-5zM372 100h5v5h-5zM307 105h5v5h-5zM362 105h5v5h-5zM247 110h5v5h-5zM287 115h5v5h-5zM442 115h5v5h-5zM412 120h5v5h-5zM447 125h5v5h-5zM377 135h5v5h-5zM412 135h5v5h-5zM432 135h5v5h-5zM227 140h5v5h-5zM282 140h5v5h-5zM377 140h5v5h-5zM382 140h5v5h-5zM452 140h5v5h-5zM237 145h5v5h-5zM292 145h5v5h-5zM367 155h5v5h-5zM362 160h5v5h-5zM372 160h5v5h-5zM442 160h5v5h-5zM447 165h5v5h-5zM447 170h5v5h-5zM307 175h5v5h-5zM352 175h5v5h-5zM407 175h5v5h-5zM427 175h5v5h-5zM432 175h5v5h-5zM442 175h5v5h-5zM227 180h5v5h-5zM312 180h5v5h-5zM322 180h5v5h-5zM372 180h5v5h-5zM442 180h5v5h-5zM457 180h5v5h-5zM227 185h5v5h-5zM327 185h5v5h-5zM387 185h5v5h-5zM392 185h5v5h-5zM362 190h5v5h-5zM407 190h5v5h-5zM372 200h5v5h-5zM412 200h5v5h-5zM447 210h5v5h-5zM332 215h5v5h-5zM417 215h5v5h-5zM427 215h5v5h-5zM277 220h5v5h-5zM402 220h5v5h-5zM452 220h5v5h-5zM342 225h5v5h-5zM352 225h5v5h-5z"/><path fill="rgb(177,177,177)" d="M292 -5h5v5h-5zM292 0h5v5h-5zM327 0h5v5h-5zM447 0h5v5h-5zM372 5h5v5h-5zM407 5h5v5h-5zM252 15h5v5h-5zM267 20h5v5h-5zM447 20h5v5h-5zM227 25h5v5h-5zM347 25h5v5h-5zM247 30h5v5h-5zM367 30h5v5h-5zM292 35h5v5h-5zM332 35h5v5h-5zM407 35h5v5h-5zM367 45h5v5h-5zM407 50h5v5h-5zM242 55h5v5h-5zM307 55h5v5h-5zM342 55h5v5h-5zM347 55h5v5h-5zM372 55h5v5h-5zM227 60h5v5h-5zM257 60h5v5h-5zM317 60h5v5h-5zM372 60h5v5h-5zM382 60h5v5h-5zM387 60h5v5h-5zM412 60h5v5h-5zM457 60h5v5h-5zM247 65h5v5h-5zM252 65h5v5h-5zM267 65h5v5h-5zM292 65h5v5h-5zM402 65h5v5h-5zM292 75h5v5h-5zM362 75h5v5h-5zM282 80h5v5h-5zM407 80h5v5h-5zM442 80h5v5h-5zM272 95h5v5h-5zM357 95h5v5h-5zM417 95h5v5h-5zM442 95h5v5h-5zM457 100h5v5h-5zM332 105h5v5h-5zM367 105h5v5h-5zM392 105h5v5h-5zM452 105h5v5h-5zM457 105h5v5h-5zM247 115h5v5h-5zM252 115h5v5h-5zM452 120h5v5h-5zM247 125h5v5h-5zM252 125h5v5h-5zM287 125h5v5h-5zM362 125h5v5h-5zM407 125h5v5h-5zM247 130h5v5h-5zM407 130h5v5h-5zM242 135h5v5h-5zM292 135h5v5h-5zM327 135h5v5h-5zM422 135h5v5h-5zM442 135h5v5h-5zM252 140h5v5h-5zM317 140h5v5h-5zM347 140h5v5h-5zM422 140h5v5h-5zM367 145h5v5h-5zM442 145h5v5h-5zM447 155h5v5h-5zM292 160h5v5h-5zM327 160h5v5h-5zM407 160h5v5h-5zM247 165h5v5h-5zM287 165h5v5h-5zM257 175h5v5h-5zM262 175h5v5h-5zM287 175h5v5h-5zM292 175h5v5h-5zM347 175h5v5h-5zM362 175h5v5h-5zM452 175h5v5h-5zM262 180h5v5h-5zM452 180h5v5h-5zM247 185h5v5h-5zM372 195h5v5h-5zM412 195h5v5h-5zM252 200h5v5h-5zM287 200h5v5h-5zM362 200h5v5h-5zM247 205h5v5h-5zM422 215h5v5h-5zM237 220h5v5h-5zM342 220h5v5h-5zM377 220h5v5h-5zM437 220h5v5h-5zM242 225h5v5h-5zM347 225h5v5h-5zM382 225h5v5h-5zM427 225h5v5h-5z"/><path fill="rgb(188,188,188)" d="M257 -5h5v5h-5zM332 -5h5v5h-5zM402 0h5v5h-5zM327 15h5v5h-5zM407 15h5v5h-5zM232 20h5v5h-5zM292 20h5v5h-5zM312 20h5v5h-5zM347 20h5v5h-5zM362 20h5v5h-5zM367 20h5v5h-5zM402 20h5v5h-5zM427 20h5v5h-5zM382 25h5v5h-5zM287 35h5v5h-5zM327 35h5v5h-5zM362 40h5v5h-5zM292 45h5v5h-5zM367 55h5v5h-5zM402 55h5v5h-5zM427 55h5v5h-5zM432 55h5v5h-5zM452 55h5v5h-5zM307 60h5v5h-5zM322 60h5v5h-5zM332 60h5v5h-5zM342 60h5v5h-5zM367 60h5v5h-5zM287 70h5v5h-5zM247 80h5v5h-5zM292 80h5v5h-5zM322 80h5v5h-5zM327 80h5v5h-5zM287 85h5v5h-5zM327 95h5v5h-5zM342 95h5v5h-5zM362 95h5v5h-5zM267 100h5v5h-5zM322 100h5v5h-5zM342 100h5v5h-5zM252 105h5v5h-5zM387 105h5v5h-5zM447 115h5v5h-5zM292 120h5v5h-5zM362 130h5v5h-5zM402 135h5v5h-5zM447 135h5v5h-5zM237 140h5v5h-5zM242 140h5v5h-5zM332 140h5v5h-5zM362 140h5v5h-5zM402 140h5v5h-5zM432 140h5v5h-5zM232 145h5v5h-5zM367 165h5v5h-5zM252 170h5v5h-5zM247 175h5v5h-5zM367 175h5v5h-5zM397 175h5v5h-5zM257 180h5v5h-5zM272 180h5v5h-5zM287 180h5v5h-5zM357 180h5v5h-5zM432 180h5v5h-5zM407 185h5v5h-5zM362 195h5v5h-5zM447 205h5v5h-5zM287 215h5v5h-5zM367 215h5v5h-5zM372 215h5v5h-5zM387 215h5v5h-5zM407 215h5v5h-5zM412 215h5v5h-5zM302 220h5v5h-5zM347 220h5v5h-5zM427 220h5v5h-5zM277 225h5v5h-5zM287 225h5v5h-5zM302 225h5v5h-5zM312 225h5v5h-5zM377 225h5v5h-5zM422 225h5v5h-5z"/><path fill="rgb(200,200,200)" d="M247 0h5v5h-5zM362 0h5v5h-5zM247 15h5v5h-5zM227 20h5v5h-5zM242 20h5v5h-5zM322 20h5v5h-5zM287 25h5v5h-5zM362 25h5v5h-5zM367 25h5v5h-5zM447 25h5v5h-5zM247 35h5v5h-5zM367 35h5v5h-5zM287 45h5v5h-5zM412 45h5v5h-5zM247 50h5v5h-5zM447 50h5v5h-5zM312 55h5v5h-5zM327 55h5v5h-5zM232 60h5v5h-5zM237 60h5v5h-5zM242 60h5v5h-5zM272 60h5v5h-5zM347 60h5v5h-5zM437 60h5v5h-5zM447 65h5v5h-5zM362 80h5v5h-5zM447 85h5v5h-5zM367 95h5v5h-5zM307 100h5v5h-5zM392 100h5v5h-5zM402 100h5v5h-5zM422 100h5v5h-5zM427 100h5v5h-5zM327 105h5v5h-5zM442 105h5v5h-5zM247 120h5v5h-5zM372 120h5v5h-5zM407 120h5v5h-5zM442 120h5v5h-5zM252 135h5v5h-5zM287 135h5v5h-5zM307 135h5v5h-5zM312 135h5v5h-5zM232 140h5v5h-5zM267 140h5v5h-5zM272 140h5v5h-5zM322 140h5v5h-5zM387 140h5v5h-5zM327 145h5v5h-5zM447 145h5v5h-5zM252 160h5v5h-5zM447 160h5v5h-5zM272 175h5v5h-5zM307 180h5v5h-5zM327 180h5v5h-5zM387 180h5v5h-5zM252 185h5v5h-5zM397 185h5v5h-5zM447 200h5v5h-5zM247 215h5v5h-5zM442 215h5v5h-5zM227 220h5v5h-5zM242 220h5v5h-5zM307 220h5v5h-5zM337 220h5v5h-5zM417 220h5v5h-5zM422 220h5v5h-5zM237 225h5v5h-5zM272 225h5v5h-5zM367 225h5v5h-5zM452 225h5v5h-5z"/><path fill="rgb(211,211,211)" d="M382 20h5v5h-5zM407 20h5v5h-5zM252 25h5v5h-5zM252 35h5v5h-5zM447 40h5v5h-5zM252 50h5v5h-5zM407 55h5v5h-5zM442 55h5v5h-5zM267 60h5v5h-5zM287 60h5v5h-5zM312 60h5v5h-5zM452 60h5v5h-5zM287 65h5v5h-5zM407 65h5v5h-5zM287 75h5v5h-5zM367 75h5v5h-5zM447 95h5v5h-5zM232 100h5v5h-5zM272 100h5v5h-5zM357 100h5v5h-5zM227 105h5v5h-5zM247 105h5v5h-5zM412 105h5v5h-5zM252 120h5v5h-5zM362 135h5v5h-5zM427 135h5v5h-5zM247 140h5v5h-5zM407 140h5v5h-5zM227 145h5v5h-5zM287 160h5v5h-5zM402 175h5v5h-5zM447 175h5v5h-5zM292 180h5v5h-5zM347 180h5v5h-5zM352 180h5v5h-5zM392 180h5v5h-5zM427 180h5v5h-5zM447 180h5v5h-5zM362 185h5v5h-5zM367 190h5v5h-5zM247 200h5v5h-5zM407 200h5v5h-5zM292 215h5v5h-5zM447 215h5v5h-5zM232 220h5v5h-5zM252 220h5v5h-5zM272 220h5v5h-5zM297 220h5v5h-5zM382 220h5v5h-5zM392 220h5v5h-5zM307 225h5v5h-5zM327 225h5v5h-5zM407 225h5v5h-5zM417 225h5v5h-5z"/><path fill="rgb(222,222,222)" d="M412 -5h5v5h-5zM252 0h5v5h-5zM367 5h5v5h-5zM287 20h5v5h-5zM327 20h5v5h-5zM327 40h5v5h-5zM332 40h5v5h-5zM412 40h5v5h-5zM407 45h5v5h-5zM447 45h5v5h-5zM327 60h5v5h-5zM402 60h5v5h-5zM432 60h5v5h-5zM367 80h5v5h-5zM447 80h5v5h-5zM292 95h5v5h-5zM407 95h5v5h-5zM412 95h5v5h-5zM227 100h5v5h-5zM252 100h5v5h-5zM287 100h5v5h-5zM292 100h5v5h-5zM332 100h5v5h-5zM387 100h5v5h-5zM417 100h5v5h-5zM442 100h5v5h-5zM452 100h5v5h-5zM407 105h5v5h-5zM447 105h5v5h-5zM287 120h5v5h-5zM292 140h5v5h-5zM307 140h5v5h-5zM312 140h5v5h-5zM367 160h5v5h-5zM252 165h5v5h-5zM252 175h5v5h-5zM247 180h5v5h-5zM267 180h5v5h-5zM407 180h5v5h-5zM407 195h5v5h-5zM367 200h5v5h-5zM227 225h5v5h-5zM232 225h5v5h-5zM442 225h5v5h-5z"/><path fill="rgb(233,233,233)" d="M252 -5h5v5h-5zM372 0h5v5h-5zM252 20h5v5h-5zM247 25h5v5h-5zM387 25h5v5h-5zM292 40h5v5h-5zM367 40h5v5h-5zM247 45h5v5h-5zM252 55h5v5h-5zM427 60h5v5h-5zM287 95h5v5h-5zM352 95h5v5h-5zM247 100h5v5h-5zM362 100h5v5h-5zM367 120h5v5h-5zM372 125h5v5h-5zM247 135h5v5h-5zM407 135h5v5h-5zM287 140h5v5h-5zM427 140h5v5h-5zM442 140h5v5h-5zM267 175h5v5h-5zM362 180h5v5h-5zM367 185h5v5h-5zM402 185h5v5h-5zM287 220h5v5h-5zM327 220h5v5h-5zM367 220h5v5h-5zM372 220h5v5h-5zM407 220h5v5h-5zM297 225h5v5h-5z"/><path fill="rgb(244,244,244)" d="M407 0h5v5h-5zM387 20h5v5h-5zM247 40h5v5h-5zM287 40h5v5h-5zM407 40h5v5h-5zM252 45h5v5h-5zM247 55h5v5h-5zM447 55h5v5h-5zM247 60h5v5h-5zM252 60h5v5h-5zM442 60h5v5h-5zM287 80h5v5h-5zM347 95h5v5h-5zM347 100h5v5h-5zM352 100h5v5h-5zM367 100h5v5h-5zM447 120h5v5h-5zM372 130h5v5h-5zM372 135h5v5h-5zM327 140h5v5h-5zM372 140h5v5h-5zM447 140h5v5h-5zM252 180h5v5h-5zM367 180h5v5h-5zM397 180h5v5h-5zM367 195h5v5h-5zM412 220h5v5h-5zM442 220h5v5h-5zM447 220h5v5h-5zM247 225h5v5h-5zM337 225h5v5h-5zM392 225h5v5h-5z"/><path fill="rgb(255,255,255)" d="M367 -5h5v5h-5zM372 -5h5v5h-5zM407 -5h5v5h-5zM367 0h5v5h-5zM247 20h5v5h-5zM252 40h5v5h-5zM407 60h5v5h-5zM447 60h5v5h-5zM327 100h5v5h-5zM407 100h5v5h-5zM412 100h5v5h-5zM447 100h5v5h-5zM367 125h5v5h-5zM367 130h5v5h-5zM367 135h5v5h-5zM367 140h5v5h-5zM402 180h5v5h-5zM247 220h5v5h-5zM292 220h5v5h-5zM332 220h5v5h-5zM387 220h5v5h-5zM252 225h5v5h-5zM292 225h5v5h-5zM332 225h5v5h-5zM372 225h5v5h-5zM387 225h5v5h-5zM412 225h5v5h-5zM447 225h5v5h-5z"/></g><rect x="232" y="0" width="224" height="224" fill="url(#grid)"/></g><g clip-path="url(#c02)"><g filter="url(#fAl)"><rect x="450" y="-10" width="244" height="244" fill="#000"/><path fill="rgb(11,11,11)" d="M685 25h5v5h-5zM460 30h5v5h-5zM545 30h5v5h-5zM640 30h5v5h-5zM650 30h5v5h-5zM620 35h5v5h-5zM640 35h5v5h-5zM620 40h5v5h-5zM625 40h5v5h-5zM630 40h5v5h-5zM650 55h5v5h-5zM515 70h5v5h-5zM650 70h5v5h-5zM655 70h5v5h-5zM665 70h5v5h-5zM455 90h5v5h-5zM455 95h5v5h-5zM650 110h5v5h-5zM500 115h5v5h-5zM580 115h5v5h-5zM640 115h5v5h-5zM500 120h5v5h-5zM585 120h5v5h-5zM660 120h5v5h-5zM500 125h5v5h-5zM655 125h5v5h-5zM490 130h5v5h-5zM500 130h5v5h-5zM635 130h5v5h-5zM470 135h5v5h-5zM470 145h5v5h-5zM515 150h5v5h-5zM565 155h5v5h-5zM615 155h5v5h-5zM620 155h5v5h-5zM530 160h5v5h-5zM535 160h5v5h-5zM565 160h5v5h-5zM620 160h5v5h-5zM465 170h5v5h-5zM605 170h5v5h-5zM480 195h5v5h-5zM525 200h5v5h-5zM475 205h5v5h-5zM520 205h5v5h-5zM530 205h5v5h-5zM680 205h5v5h-5zM685 205h5v5h-5zM500 210h5v5h-5zM525 210h5v5h-5zM585 210h5v5h-5zM680 210h5v5h-5zM685 210h5v5h-5zM565 215h5v5h-5zM585 215h5v5h-5zM680 220h5v5h-5zM685 225h5v5h-5z"/><path fill="rgb(22,22,22)" d="M685 -5h5v5h-5zM685 0h5v5h-5zM520 10h5v5h-5zM680 20h5v5h-5zM455 30h5v5h-5zM625 30h5v5h-5zM655 30h5v5h-5zM660 30h5v5h-5zM580 35h5v5h-5zM635 40h5v5h-5zM605 45h5v5h-5zM660 55h5v5h-5zM645 60h5v5h-5zM645 65h5v5h-5zM675 65h5v5h-5zM505 70h5v5h-5zM520 70h5v5h-5zM545 70h5v5h-5zM680 70h5v5h-5zM505 75h5v5h-5zM520 75h5v5h-5zM665 75h5v5h-5zM455 85h5v5h-5zM460 90h5v5h-5zM620 95h5v5h-5zM620 100h5v5h-5zM480 105h5v5h-5zM505 110h5v5h-5zM545 110h5v5h-5zM575 110h5v5h-5zM580 110h5v5h-5zM640 110h5v5h-5zM495 115h5v5h-5zM505 115h5v5h-5zM585 115h5v5h-5zM660 115h5v5h-5zM490 120h5v5h-5zM580 120h5v5h-5zM585 125h5v5h-5zM660 125h5v5h-5zM470 130h5v5h-5zM645 130h5v5h-5zM570 140h5v5h-5zM575 140h5v5h-5zM475 145h5v5h-5zM520 145h5v5h-5zM575 145h5v5h-5zM580 145h5v5h-5zM660 145h5v5h-5zM530 150h5v5h-5zM500 155h5v5h-5zM525 155h5v5h-5zM500 160h5v5h-5zM570 160h5v5h-5zM615 160h5v5h-5zM460 165h5v5h-5zM500 165h5v5h-5zM610 170h5v5h-5zM455 175h5v5h-5zM605 175h5v5h-5zM475 190h5v5h-5zM480 190h5v5h-5zM535 190h5v5h-5zM610 190h5v5h-5zM470 195h5v5h-5zM480 200h5v5h-5zM520 200h5v5h-5zM565 200h5v5h-5zM465 205h5v5h-5zM560 205h5v5h-5zM590 210h5v5h-5zM675 210h5v5h-5zM675 215h5v5h-5zM680 215h5v5h-5zM565 220h5v5h-5zM675 220h5v5h-5zM625 225h5v5h-5z"/><path fill="rgb(33,33,33)" d="M685 5h5v5h-5zM600 15h5v5h-5zM685 20h5v5h-5zM525 25h5v5h-5zM540 25h5v5h-5zM545 25h5v5h-5zM645 25h5v5h-5zM650 25h5v5h-5zM680 25h5v5h-5zM465 30h5v5h-5zM485 30h5v5h-5zM490 30h5v5h-5zM540 30h5v5h-5zM550 30h5v5h-5zM620 30h5v5h-5zM455 35h5v5h-5zM485 35h5v5h-5zM660 35h5v5h-5zM580 40h5v5h-5zM615 40h5v5h-5zM600 50h5v5h-5zM605 50h5v5h-5zM655 50h5v5h-5zM455 55h5v5h-5zM645 55h5v5h-5zM660 60h5v5h-5zM660 65h5v5h-5zM680 65h5v5h-5zM550 70h5v5h-5zM645 70h5v5h-5zM660 70h5v5h-5zM685 70h5v5h-5zM545 75h5v5h-5zM670 75h5v5h-5zM455 80h5v5h-5zM510 80h5v5h-5zM460 85h5v5h-5zM485 85h5v5h-5zM480 90h5v5h-5zM485 90h5v5h-5zM590 90h5v5h-5zM595 90h5v5h-5zM625 90h5v5h-5zM630 90h5v5h-5zM460 95h5v5h-5zM625 95h5v5h-5zM625 100h5v5h-5zM485 105h5v5h-5zM545 105h5v5h-5zM640 105h5v5h-5zM645 105h5v5h-5zM510 110h5v5h-5zM570 110h5v5h-5zM655 110h5v5h-5zM540 115h5v5h-5zM560 125h5v5h-5zM580 125h5v5h-5zM635 125h5v5h-5zM465 130h5v5h-5zM475 130h5v5h-5zM485 130h5v5h-5zM480 135h5v5h-5zM500 135h5v5h-5zM570 135h5v5h-5zM575 135h5v5h-5zM640 135h5v5h-5zM480 140h5v5h-5zM580 140h5v5h-5zM525 145h5v5h-5zM570 145h5v5h-5zM500 150h5v5h-5zM510 150h5v5h-5zM565 150h5v5h-5zM570 150h5v5h-5zM620 150h5v5h-5zM655 150h5v5h-5zM665 150h5v5h-5zM540 155h5v5h-5zM570 155h5v5h-5zM660 155h5v5h-5zM505 160h5v5h-5zM455 165h5v5h-5zM505 165h5v5h-5zM570 165h5v5h-5zM610 165h5v5h-5zM615 165h5v5h-5zM620 165h5v5h-5zM500 170h5v5h-5zM615 170h5v5h-5zM535 185h5v5h-5zM530 190h5v5h-5zM605 190h5v5h-5zM615 190h5v5h-5zM525 195h5v5h-5zM605 195h5v5h-5zM610 195h5v5h-5zM615 195h5v5h-5zM530 200h5v5h-5zM500 205h5v5h-5zM570 205h5v5h-5zM495 210h5v5h-5zM520 210h5v5h-5zM535 210h5v5h-5zM560 210h5v5h-5zM595 210h5v5h-5zM640 210h5v5h-5zM685 215h5v5h-5zM585 220h5v5h-5zM620 220h5v5h-5zM685 220h5v5h-5z"/><path fill="rgb(44,44,44)" d="M565 -5h5v5h-5zM680 0h5v5h-5zM505 10h5v5h-5zM515 10h5v5h-5zM525 10h5v5h-5zM600 10h5v5h-5zM520 15h5v5h-5zM525 15h5v5h-5zM605 15h5v5h-5zM540 20h5v5h-5zM600 20h5v5h-5zM655 25h5v5h-5zM480 30h5v5h-5zM495 30h5v5h-5zM525 30h5v5h-5zM535 30h5v5h-5zM580 30h5v5h-5zM630 30h5v5h-5zM635 30h5v5h-5zM665 30h5v5h-5zM685 30h5v5h-5zM460 35h5v5h-5zM480 35h5v5h-5zM540 35h5v5h-5zM545 35h5v5h-5zM585 35h5v5h-5zM615 35h5v5h-5zM610 40h5v5h-5zM600 45h5v5h-5zM610 45h5v5h-5zM625 45h5v5h-5zM455 50h5v5h-5zM460 50h5v5h-5zM660 50h5v5h-5zM670 65h5v5h-5zM590 70h5v5h-5zM455 75h5v5h-5zM460 75h5v5h-5zM460 80h5v5h-5zM505 80h5v5h-5zM515 80h5v5h-5zM595 85h5v5h-5zM600 85h5v5h-5zM635 85h5v5h-5zM465 90h5v5h-5zM475 90h5v5h-5zM620 90h5v5h-5zM635 90h5v5h-5zM465 95h5v5h-5zM480 95h5v5h-5zM480 100h5v5h-5zM485 100h5v5h-5zM620 105h5v5h-5zM625 105h5v5h-5zM480 110h5v5h-5zM500 110h5v5h-5zM540 110h5v5h-5zM565 110h5v5h-5zM585 110h5v5h-5zM490 115h5v5h-5zM535 115h5v5h-5zM575 115h5v5h-5zM505 120h5v5h-5zM540 120h5v5h-5zM565 125h5v5h-5zM480 130h5v5h-5zM560 130h5v5h-5zM565 130h5v5h-5zM485 135h5v5h-5zM495 135h5v5h-5zM505 135h5v5h-5zM565 135h5v5h-5zM635 135h5v5h-5zM505 140h5v5h-5zM465 145h5v5h-5zM480 145h5v5h-5zM500 145h5v5h-5zM505 145h5v5h-5zM515 145h5v5h-5zM585 145h5v5h-5zM665 145h5v5h-5zM495 150h5v5h-5zM505 150h5v5h-5zM575 150h5v5h-5zM580 150h5v5h-5zM585 150h5v5h-5zM615 150h5v5h-5zM495 155h5v5h-5zM505 155h5v5h-5zM520 155h5v5h-5zM560 155h5v5h-5zM625 155h5v5h-5zM485 160h5v5h-5zM625 160h5v5h-5zM530 165h5v5h-5zM565 165h5v5h-5zM680 165h5v5h-5zM470 170h5v5h-5zM620 170h5v5h-5zM645 170h5v5h-5zM675 170h5v5h-5zM460 175h5v5h-5zM465 175h5v5h-5zM600 175h5v5h-5zM540 185h5v5h-5zM455 190h5v5h-5zM525 190h5v5h-5zM540 190h5v5h-5zM530 195h5v5h-5zM685 195h5v5h-5zM465 200h5v5h-5zM680 200h5v5h-5zM685 200h5v5h-5zM480 205h5v5h-5zM505 205h5v5h-5zM585 205h5v5h-5zM470 210h5v5h-5zM505 210h5v5h-5zM620 210h5v5h-5zM625 210h5v5h-5zM635 210h5v5h-5zM500 215h5v5h-5zM590 215h5v5h-5zM620 215h5v5h-5zM625 215h5v5h-5zM625 220h5v5h-5zM620 225h5v5h-5zM675 225h5v5h-5z"/><path fill="rgb(55,55,55)" d="M505 -5h5v5h-5zM550 -5h5v5h-5zM560 -5h5v5h-5zM580 -5h5v5h-5zM510 10h5v5h-5zM565 10h5v5h-5zM605 10h5v5h-5zM660 10h5v5h-5zM685 10h5v5h-5zM645 15h5v5h-5zM660 15h5v5h-5zM680 15h5v5h-5zM525 20h5v5h-5zM675 20h5v5h-5zM530 25h5v5h-5zM535 25h5v5h-5zM550 25h5v5h-5zM660 25h5v5h-5zM470 30h5v5h-5zM475 30h5v5h-5zM520 30h5v5h-5zM530 30h5v5h-5zM585 30h5v5h-5zM465 35h5v5h-5zM575 35h5v5h-5zM645 35h5v5h-5zM655 35h5v5h-5zM585 40h5v5h-5zM605 40h5v5h-5zM620 45h5v5h-5zM630 45h5v5h-5zM635 45h5v5h-5zM595 50h5v5h-5zM600 55h5v5h-5zM605 55h5v5h-5zM640 55h5v5h-5zM685 55h5v5h-5zM640 60h5v5h-5zM680 60h5v5h-5zM485 65h5v5h-5zM550 65h5v5h-5zM640 65h5v5h-5zM665 65h5v5h-5zM685 65h5v5h-5zM460 70h5v5h-5zM465 70h5v5h-5zM485 70h5v5h-5zM490 70h5v5h-5zM525 70h5v5h-5zM585 70h5v5h-5zM595 70h5v5h-5zM600 75h5v5h-5zM660 75h5v5h-5zM685 75h5v5h-5zM600 80h5v5h-5zM665 80h5v5h-5zM480 85h5v5h-5zM505 85h5v5h-5zM510 85h5v5h-5zM590 85h5v5h-5zM630 85h5v5h-5zM470 90h5v5h-5zM585 90h5v5h-5zM600 90h5v5h-5zM485 95h5v5h-5zM615 95h5v5h-5zM685 95h5v5h-5zM455 100h5v5h-5zM475 105h5v5h-5zM505 105h5v5h-5zM565 105h5v5h-5zM580 105h5v5h-5zM485 110h5v5h-5zM495 110h5v5h-5zM635 110h5v5h-5zM660 110h5v5h-5zM510 115h5v5h-5zM530 115h5v5h-5zM635 115h5v5h-5zM535 120h5v5h-5zM635 120h5v5h-5zM465 125h5v5h-5zM485 125h5v5h-5zM665 125h5v5h-5zM505 130h5v5h-5zM570 130h5v5h-5zM580 130h5v5h-5zM585 130h5v5h-5zM685 130h5v5h-5zM465 135h5v5h-5zM490 135h5v5h-5zM465 140h5v5h-5zM500 140h5v5h-5zM565 140h5v5h-5zM510 145h5v5h-5zM565 145h5v5h-5zM535 150h5v5h-5zM560 150h5v5h-5zM590 150h5v5h-5zM490 155h5v5h-5zM510 155h5v5h-5zM665 155h5v5h-5zM495 160h5v5h-5zM525 160h5v5h-5zM540 160h5v5h-5zM610 160h5v5h-5zM465 165h5v5h-5zM485 165h5v5h-5zM495 165h5v5h-5zM535 165h5v5h-5zM575 165h5v5h-5zM605 165h5v5h-5zM625 165h5v5h-5zM685 165h5v5h-5zM495 170h5v5h-5zM505 170h5v5h-5zM575 170h5v5h-5zM600 170h5v5h-5zM680 170h5v5h-5zM685 170h5v5h-5zM610 175h5v5h-5zM615 175h5v5h-5zM620 175h5v5h-5zM600 180h5v5h-5zM605 180h5v5h-5zM460 185h5v5h-5zM640 185h5v5h-5zM460 190h5v5h-5zM465 190h5v5h-5zM470 190h5v5h-5zM520 190h5v5h-5zM600 190h5v5h-5zM645 190h5v5h-5zM465 195h5v5h-5zM485 195h5v5h-5zM520 195h5v5h-5zM535 195h5v5h-5zM565 195h5v5h-5zM600 195h5v5h-5zM560 200h5v5h-5zM605 200h5v5h-5zM535 205h5v5h-5zM580 205h5v5h-5zM590 205h5v5h-5zM595 205h5v5h-5zM600 205h5v5h-5zM605 205h5v5h-5zM640 205h5v5h-5zM465 210h5v5h-5zM475 210h5v5h-5zM490 210h5v5h-5zM600 210h5v5h-5zM630 210h5v5h-5zM645 210h5v5h-5zM530 215h5v5h-5zM595 215h5v5h-5z"/><path fill="rgb(67,67,67)" d="M500 -5h5v5h-5zM555 -5h5v5h-5zM570 -5h5v5h-5zM605 -5h5v5h-5zM680 -5h5v5h-5zM500 0h5v5h-5zM560 0h5v5h-5zM565 0h5v5h-5zM580 0h5v5h-5zM500 5h5v5h-5zM505 5h5v5h-5zM565 5h5v5h-5zM600 5h5v5h-5zM680 5h5v5h-5zM500 10h5v5h-5zM560 10h5v5h-5zM640 10h5v5h-5zM645 10h5v5h-5zM485 15h5v5h-5zM540 15h5v5h-5zM650 15h5v5h-5zM655 15h5v5h-5zM665 15h5v5h-5zM675 15h5v5h-5zM685 15h5v5h-5zM535 20h5v5h-5zM545 20h5v5h-5zM605 20h5v5h-5zM645 20h5v5h-5zM650 20h5v5h-5zM660 20h5v5h-5zM460 25h5v5h-5zM465 25h5v5h-5zM485 25h5v5h-5zM600 25h5v5h-5zM620 25h5v5h-5zM675 25h5v5h-5zM500 30h5v5h-5zM615 30h5v5h-5zM680 30h5v5h-5zM610 35h5v5h-5zM665 35h5v5h-5zM660 40h5v5h-5zM580 45h5v5h-5zM585 45h5v5h-5zM615 45h5v5h-5zM590 50h5v5h-5zM640 50h5v5h-5zM460 55h5v5h-5zM680 55h5v5h-5zM685 60h5v5h-5zM545 65h5v5h-5zM585 65h5v5h-5zM540 70h5v5h-5zM555 70h5v5h-5zM600 70h5v5h-5zM640 70h5v5h-5zM550 75h5v5h-5zM595 75h5v5h-5zM645 75h5v5h-5zM650 75h5v5h-5zM675 75h5v5h-5zM485 80h5v5h-5zM520 80h5v5h-5zM545 80h5v5h-5zM635 80h5v5h-5zM490 85h5v5h-5zM620 85h5v5h-5zM625 85h5v5h-5zM640 85h5v5h-5zM490 90h5v5h-5zM505 90h5v5h-5zM565 90h5v5h-5zM615 90h5v5h-5zM640 90h5v5h-5zM470 95h5v5h-5zM475 95h5v5h-5zM565 95h5v5h-5zM460 100h5v5h-5zM640 100h5v5h-5zM510 105h5v5h-5zM570 105h5v5h-5zM575 105h5v5h-5zM635 105h5v5h-5zM650 105h5v5h-5zM490 110h5v5h-5zM515 110h5v5h-5zM550 110h5v5h-5zM600 110h5v5h-5zM485 115h5v5h-5zM525 115h5v5h-5zM545 115h5v5h-5zM565 115h5v5h-5zM570 115h5v5h-5zM525 120h5v5h-5zM530 120h5v5h-5zM560 120h5v5h-5zM565 120h5v5h-5zM505 125h5v5h-5zM540 125h5v5h-5zM555 125h5v5h-5zM605 125h5v5h-5zM680 125h5v5h-5zM455 130h5v5h-5zM460 130h5v5h-5zM575 130h5v5h-5zM630 130h5v5h-5zM660 130h5v5h-5zM665 130h5v5h-5zM580 135h5v5h-5zM485 140h5v5h-5zM640 140h5v5h-5zM665 140h5v5h-5zM485 145h5v5h-5zM495 145h5v5h-5zM465 150h5v5h-5zM470 150h5v5h-5zM485 150h5v5h-5zM490 150h5v5h-5zM540 150h5v5h-5zM625 150h5v5h-5zM485 155h5v5h-5zM515 155h5v5h-5zM575 155h5v5h-5zM590 155h5v5h-5zM610 155h5v5h-5zM460 160h5v5h-5zM490 160h5v5h-5zM575 160h5v5h-5zM480 165h5v5h-5zM640 165h5v5h-5zM645 165h5v5h-5zM675 165h5v5h-5zM475 170h5v5h-5zM570 170h5v5h-5zM640 170h5v5h-5zM670 170h5v5h-5zM525 185h5v5h-5zM530 185h5v5h-5zM545 185h5v5h-5zM555 185h5v5h-5zM560 185h5v5h-5zM600 185h5v5h-5zM605 185h5v5h-5zM560 190h5v5h-5zM565 190h5v5h-5zM620 190h5v5h-5zM640 190h5v5h-5zM680 190h5v5h-5zM685 190h5v5h-5zM560 195h5v5h-5zM585 195h5v5h-5zM620 195h5v5h-5zM680 195h5v5h-5zM485 200h5v5h-5zM505 200h5v5h-5zM570 200h5v5h-5zM600 200h5v5h-5zM610 200h5v5h-5zM615 200h5v5h-5zM620 200h5v5h-5zM515 205h5v5h-5zM575 205h5v5h-5zM610 205h5v5h-5zM620 205h5v5h-5zM645 205h5v5h-5zM675 205h5v5h-5zM605 210h5v5h-5zM610 210h5v5h-5zM615 210h5v5h-5zM505 215h5v5h-5zM525 215h5v5h-5zM535 215h5v5h-5zM565 225h5v5h-5z"/><path fill="rgb(78,78,78)" d="M575 -5h5v5h-5zM585 -5h5v5h-5zM645 -5h5v5h-5zM550 0h5v5h-5zM570 0h5v5h-5zM575 0h5v5h-5zM605 0h5v5h-5zM560 5h5v5h-5zM570 5h5v5h-5zM605 5h5v5h-5zM640 5h5v5h-5zM665 10h5v5h-5zM680 10h5v5h-5zM515 15h5v5h-5zM530 15h5v5h-5zM670 15h5v5h-5zM530 20h5v5h-5zM655 20h5v5h-5zM665 20h5v5h-5zM470 25h5v5h-5zM480 25h5v5h-5zM490 25h5v5h-5zM520 25h5v5h-5zM555 25h5v5h-5zM560 25h5v5h-5zM605 25h5v5h-5zM665 25h5v5h-5zM555 30h5v5h-5zM575 30h5v5h-5zM490 35h5v5h-5zM520 35h5v5h-5zM650 35h5v5h-5zM480 40h5v5h-5zM485 40h5v5h-5zM575 40h5v5h-5zM640 40h5v5h-5zM460 45h5v5h-5zM480 45h5v5h-5zM520 45h5v5h-5zM575 45h5v5h-5zM595 45h5v5h-5zM660 45h5v5h-5zM585 50h5v5h-5zM635 50h5v5h-5zM650 50h5v5h-5zM680 50h5v5h-5zM685 50h5v5h-5zM600 60h5v5h-5zM605 60h5v5h-5zM675 60h5v5h-5zM480 65h5v5h-5zM490 65h5v5h-5zM505 65h5v5h-5zM555 65h5v5h-5zM600 65h5v5h-5zM455 70h5v5h-5zM500 70h5v5h-5zM465 75h5v5h-5zM485 75h5v5h-5zM490 75h5v5h-5zM540 75h5v5h-5zM585 75h5v5h-5zM590 75h5v5h-5zM605 75h5v5h-5zM640 75h5v5h-5zM655 75h5v5h-5zM680 75h5v5h-5zM490 80h5v5h-5zM640 80h5v5h-5zM585 85h5v5h-5zM560 90h5v5h-5zM605 90h5v5h-5zM610 90h5v5h-5zM685 90h5v5h-5zM585 95h5v5h-5zM610 95h5v5h-5zM630 95h5v5h-5zM635 95h5v5h-5zM640 95h5v5h-5zM465 100h5v5h-5zM565 100h5v5h-5zM615 100h5v5h-5zM645 100h5v5h-5zM685 100h5v5h-5zM465 105h5v5h-5zM550 105h5v5h-5zM585 105h5v5h-5zM630 105h5v5h-5zM685 105h5v5h-5zM475 110h5v5h-5zM530 110h5v5h-5zM535 110h5v5h-5zM560 110h5v5h-5zM590 110h5v5h-5zM595 110h5v5h-5zM675 110h5v5h-5zM680 110h5v5h-5zM685 110h5v5h-5zM600 115h5v5h-5zM485 120h5v5h-5zM600 120h5v5h-5zM605 120h5v5h-5zM460 125h5v5h-5zM525 125h5v5h-5zM545 125h5v5h-5zM590 125h5v5h-5zM600 125h5v5h-5zM675 125h5v5h-5zM685 125h5v5h-5zM525 130h5v5h-5zM555 130h5v5h-5zM650 130h5v5h-5zM670 130h5v5h-5zM680 130h5v5h-5zM510 135h5v5h-5zM525 135h5v5h-5zM645 135h5v5h-5zM665 135h5v5h-5zM510 140h5v5h-5zM520 140h5v5h-5zM525 140h5v5h-5zM635 140h5v5h-5zM660 140h5v5h-5zM620 145h5v5h-5zM655 145h5v5h-5zM460 150h5v5h-5zM475 150h5v5h-5zM480 150h5v5h-5zM545 150h5v5h-5zM555 150h5v5h-5zM630 150h5v5h-5zM455 155h5v5h-5zM585 155h5v5h-5zM455 160h5v5h-5zM560 160h5v5h-5zM665 160h5v5h-5zM680 160h5v5h-5zM490 165h5v5h-5zM510 165h5v5h-5zM525 165h5v5h-5zM600 165h5v5h-5zM665 165h5v5h-5zM670 165h5v5h-5zM480 170h5v5h-5zM580 170h5v5h-5zM625 170h5v5h-5zM650 170h5v5h-5zM665 170h5v5h-5zM500 175h5v5h-5zM640 175h5v5h-5zM645 175h5v5h-5zM540 180h5v5h-5zM545 180h5v5h-5zM620 180h5v5h-5zM640 180h5v5h-5zM455 185h5v5h-5zM465 185h5v5h-5zM520 185h5v5h-5zM550 185h5v5h-5zM595 185h5v5h-5zM610 185h5v5h-5zM615 185h5v5h-5zM620 185h5v5h-5zM645 185h5v5h-5zM485 190h5v5h-5zM585 190h5v5h-5zM590 190h5v5h-5zM595 190h5v5h-5zM660 190h5v5h-5zM570 195h5v5h-5zM580 195h5v5h-5zM645 195h5v5h-5zM500 200h5v5h-5zM515 200h5v5h-5zM585 200h5v5h-5zM485 205h5v5h-5zM495 205h5v5h-5zM615 205h5v5h-5zM625 205h5v5h-5zM480 210h5v5h-5zM485 210h5v5h-5zM515 210h5v5h-5zM495 215h5v5h-5zM600 215h5v5h-5zM615 215h5v5h-5zM640 215h5v5h-5zM500 220h5v5h-5zM505 225h5v5h-5zM590 225h5v5h-5zM630 225h5v5h-5z"/><path fill="rgb(89,89,89)" d="M610 -5h5v5h-5zM505 0h5v5h-5zM555 0h5v5h-5zM575 5h5v5h-5zM660 5h5v5h-5zM470 10h5v5h-5zM480 10h5v5h-5zM485 10h5v5h-5zM530 10h5v5h-5zM570 10h5v5h-5zM595 10h5v5h-5zM610 10h5v5h-5zM615 10h5v5h-5zM655 10h5v5h-5zM465 15h5v5h-5zM480 15h5v5h-5zM505 15h5v5h-5zM510 15h5v5h-5zM535 15h5v5h-5zM545 15h5v5h-5zM560 15h5v5h-5zM615 15h5v5h-5zM620 15h5v5h-5zM485 20h5v5h-5zM520 20h5v5h-5zM620 20h5v5h-5zM670 20h5v5h-5zM475 25h5v5h-5zM615 25h5v5h-5zM640 25h5v5h-5zM670 25h5v5h-5zM590 30h5v5h-5zM600 30h5v5h-5zM605 30h5v5h-5zM610 30h5v5h-5zM670 30h5v5h-5zM605 35h5v5h-5zM685 35h5v5h-5zM520 40h5v5h-5zM545 40h5v5h-5zM600 40h5v5h-5zM590 45h5v5h-5zM480 50h5v5h-5zM570 50h5v5h-5zM580 50h5v5h-5zM610 50h5v5h-5zM645 50h5v5h-5zM665 50h5v5h-5zM635 55h5v5h-5zM465 65h5v5h-5zM510 65h5v5h-5zM520 65h5v5h-5zM525 65h5v5h-5zM590 65h5v5h-5zM595 65h5v5h-5zM470 70h5v5h-5zM480 70h5v5h-5zM495 70h5v5h-5zM605 70h5v5h-5zM525 75h5v5h-5zM635 75h5v5h-5zM585 80h5v5h-5zM595 80h5v5h-5zM660 80h5v5h-5zM465 85h5v5h-5zM515 85h5v5h-5zM565 85h5v5h-5zM605 85h5v5h-5zM665 85h5v5h-5zM500 90h5v5h-5zM510 90h5v5h-5zM570 90h5v5h-5zM680 90h5v5h-5zM590 95h5v5h-5zM595 95h5v5h-5zM600 95h5v5h-5zM605 95h5v5h-5zM475 100h5v5h-5zM455 105h5v5h-5zM460 105h5v5h-5zM470 105h5v5h-5zM515 105h5v5h-5zM560 105h5v5h-5zM600 105h5v5h-5zM680 105h5v5h-5zM525 110h5v5h-5zM605 110h5v5h-5zM630 110h5v5h-5zM560 115h5v5h-5zM590 115h5v5h-5zM605 115h5v5h-5zM545 120h5v5h-5zM575 120h5v5h-5zM590 120h5v5h-5zM665 120h5v5h-5zM530 125h5v5h-5zM535 125h5v5h-5zM575 125h5v5h-5zM630 125h5v5h-5zM670 125h5v5h-5zM510 130h5v5h-5zM520 130h5v5h-5zM530 130h5v5h-5zM540 130h5v5h-5zM545 130h5v5h-5zM550 130h5v5h-5zM590 130h5v5h-5zM600 130h5v5h-5zM605 130h5v5h-5zM655 130h5v5h-5zM675 130h5v5h-5zM520 135h5v5h-5zM560 135h5v5h-5zM585 135h5v5h-5zM490 140h5v5h-5zM495 140h5v5h-5zM515 140h5v5h-5zM585 140h5v5h-5zM490 145h5v5h-5zM560 145h5v5h-5zM625 145h5v5h-5zM635 145h5v5h-5zM640 145h5v5h-5zM455 150h5v5h-5zM550 150h5v5h-5zM595 150h5v5h-5zM610 150h5v5h-5zM635 150h5v5h-5zM650 150h5v5h-5zM670 150h5v5h-5zM460 155h5v5h-5zM545 155h5v5h-5zM580 155h5v5h-5zM595 155h5v5h-5zM630 155h5v5h-5zM680 155h5v5h-5zM510 160h5v5h-5zM605 160h5v5h-5zM660 160h5v5h-5zM685 160h5v5h-5zM540 165h5v5h-5zM580 165h5v5h-5zM485 170h5v5h-5zM490 170h5v5h-5zM510 170h5v5h-5zM660 175h5v5h-5zM685 175h5v5h-5zM455 180h5v5h-5zM460 180h5v5h-5zM465 180h5v5h-5zM550 180h5v5h-5zM480 185h5v5h-5zM590 185h5v5h-5zM660 185h5v5h-5zM500 190h5v5h-5zM515 190h5v5h-5zM570 190h5v5h-5zM580 190h5v5h-5zM650 190h5v5h-5zM655 190h5v5h-5zM500 195h5v5h-5zM505 195h5v5h-5zM515 195h5v5h-5zM540 195h5v5h-5zM535 200h5v5h-5zM645 200h5v5h-5zM460 205h5v5h-5zM510 205h5v5h-5zM635 205h5v5h-5zM455 210h5v5h-5zM460 210h5v5h-5zM510 210h5v5h-5zM650 210h5v5h-5zM655 210h5v5h-5zM670 210h5v5h-5zM630 215h5v5h-5zM670 215h5v5h-5zM505 220h5v5h-5zM590 220h5v5h-5zM615 220h5v5h-5zM670 220h5v5h-5zM485 225h5v5h-5z"/><path fill="rgb(100,100,100)" d="M470 -5h5v5h-5zM545 -5h5v5h-5zM620 -5h5v5h-5zM495 0h5v5h-5zM545 0h5v5h-5zM600 0h5v5h-5zM640 0h5v5h-5zM520 5h5v5h-5zM525 5h5v5h-5zM555 5h5v5h-5zM580 5h5v5h-5zM465 10h5v5h-5zM555 10h5v5h-5zM620 10h5v5h-5zM650 10h5v5h-5zM470 15h5v5h-5zM565 15h5v5h-5zM610 15h5v5h-5zM640 15h5v5h-5zM465 20h5v5h-5zM560 20h5v5h-5zM455 25h5v5h-5zM495 25h5v5h-5zM625 25h5v5h-5zM505 30h5v5h-5zM595 30h5v5h-5zM675 30h5v5h-5zM495 35h5v5h-5zM500 35h5v5h-5zM525 35h5v5h-5zM535 35h5v5h-5zM550 35h5v5h-5zM570 35h5v5h-5zM590 35h5v5h-5zM455 40h5v5h-5zM460 40h5v5h-5zM540 40h5v5h-5zM545 45h5v5h-5zM570 45h5v5h-5zM640 45h5v5h-5zM465 50h5v5h-5zM520 50h5v5h-5zM525 50h5v5h-5zM565 50h5v5h-5zM575 50h5v5h-5zM630 50h5v5h-5zM560 55h5v5h-5zM565 55h5v5h-5zM585 55h5v5h-5zM595 55h5v5h-5zM665 55h5v5h-5zM675 55h5v5h-5zM560 60h5v5h-5zM585 60h5v5h-5zM460 65h5v5h-5zM470 65h5v5h-5zM500 65h5v5h-5zM560 65h5v5h-5zM605 65h5v5h-5zM530 70h5v5h-5zM580 70h5v5h-5zM500 75h5v5h-5zM480 80h5v5h-5zM590 80h5v5h-5zM605 80h5v5h-5zM645 80h5v5h-5zM475 85h5v5h-5zM500 85h5v5h-5zM520 85h5v5h-5zM545 85h5v5h-5zM495 90h5v5h-5zM580 90h5v5h-5zM505 95h5v5h-5zM560 95h5v5h-5zM580 95h5v5h-5zM645 95h5v5h-5zM680 95h5v5h-5zM470 100h5v5h-5zM505 100h5v5h-5zM545 100h5v5h-5zM580 100h5v5h-5zM600 100h5v5h-5zM605 100h5v5h-5zM630 100h5v5h-5zM635 100h5v5h-5zM490 105h5v5h-5zM500 105h5v5h-5zM540 105h5v5h-5zM595 105h5v5h-5zM605 105h5v5h-5zM615 105h5v5h-5zM655 105h5v5h-5zM465 110h5v5h-5zM470 110h5v5h-5zM520 110h5v5h-5zM555 110h5v5h-5zM625 110h5v5h-5zM665 110h5v5h-5zM515 115h5v5h-5zM520 115h5v5h-5zM595 115h5v5h-5zM665 115h5v5h-5zM680 115h5v5h-5zM680 120h5v5h-5zM470 125h5v5h-5zM520 125h5v5h-5zM550 125h5v5h-5zM570 125h5v5h-5zM610 125h5v5h-5zM515 130h5v5h-5zM535 130h5v5h-5zM455 135h5v5h-5zM515 135h5v5h-5zM540 135h5v5h-5zM630 135h5v5h-5zM660 135h5v5h-5zM460 145h5v5h-5zM530 145h5v5h-5zM630 145h5v5h-5zM600 150h5v5h-5zM640 150h5v5h-5zM465 155h5v5h-5zM600 155h5v5h-5zM605 155h5v5h-5zM655 155h5v5h-5zM685 155h5v5h-5zM480 160h5v5h-5zM600 160h5v5h-5zM470 165h5v5h-5zM475 165h5v5h-5zM630 165h5v5h-5zM525 170h5v5h-5zM530 170h5v5h-5zM535 170h5v5h-5zM540 170h5v5h-5zM565 170h5v5h-5zM655 170h5v5h-5zM660 170h5v5h-5zM495 175h5v5h-5zM505 175h5v5h-5zM540 175h5v5h-5zM580 175h5v5h-5zM665 175h5v5h-5zM680 175h5v5h-5zM595 180h5v5h-5zM615 180h5v5h-5zM515 185h5v5h-5zM565 185h5v5h-5zM585 185h5v5h-5zM665 185h5v5h-5zM680 185h5v5h-5zM495 190h5v5h-5zM505 190h5v5h-5zM510 190h5v5h-5zM545 190h5v5h-5zM555 190h5v5h-5zM575 190h5v5h-5zM665 190h5v5h-5zM455 195h5v5h-5zM490 195h5v5h-5zM495 195h5v5h-5zM510 195h5v5h-5zM575 195h5v5h-5zM590 195h5v5h-5zM595 195h5v5h-5zM640 195h5v5h-5zM510 200h5v5h-5zM580 200h5v5h-5zM590 200h5v5h-5zM490 205h5v5h-5zM555 205h5v5h-5zM650 205h5v5h-5zM655 205h5v5h-5zM540 210h5v5h-5zM660 210h5v5h-5zM485 215h5v5h-5zM490 215h5v5h-5zM520 215h5v5h-5zM605 215h5v5h-5zM635 215h5v5h-5zM645 215h5v5h-5zM485 220h5v5h-5zM595 220h5v5h-5zM600 220h5v5h-5zM500 225h5v5h-5zM600 225h5v5h-5zM645 225h5v5h-5zM670 225h5v5h-5z"/><path fill="rgb(111,111,111)" d="M495 -5h5v5h-5zM615 -5h5v5h-5zM640 -5h5v5h-5zM610 0h5v5h-5zM620 0h5v5h-5zM645 0h5v5h-5zM660 0h5v5h-5zM495 5h5v5h-5zM550 5h5v5h-5zM610 5h5v5h-5zM645 5h5v5h-5zM475 10h5v5h-5zM490 10h5v5h-5zM495 10h5v5h-5zM545 10h5v5h-5zM550 10h5v5h-5zM635 10h5v5h-5zM675 10h5v5h-5zM595 15h5v5h-5zM460 20h5v5h-5zM470 20h5v5h-5zM480 20h5v5h-5zM615 20h5v5h-5zM585 25h5v5h-5zM595 25h5v5h-5zM610 25h5v5h-5zM515 30h5v5h-5zM560 30h5v5h-5zM565 30h5v5h-5zM570 30h5v5h-5zM470 35h5v5h-5zM475 35h5v5h-5zM600 35h5v5h-5zM465 40h5v5h-5zM590 40h5v5h-5zM455 45h5v5h-5zM465 45h5v5h-5zM485 45h5v5h-5zM525 45h5v5h-5zM540 45h5v5h-5zM485 50h5v5h-5zM505 50h5v5h-5zM510 50h5v5h-5zM540 50h5v5h-5zM545 50h5v5h-5zM675 50h5v5h-5zM465 55h5v5h-5zM480 55h5v5h-5zM505 55h5v5h-5zM555 55h5v5h-5zM590 55h5v5h-5zM455 60h5v5h-5zM460 60h5v5h-5zM480 60h5v5h-5zM485 60h5v5h-5zM550 60h5v5h-5zM555 60h5v5h-5zM665 60h5v5h-5zM475 65h5v5h-5zM495 65h5v5h-5zM515 65h5v5h-5zM475 70h5v5h-5zM535 70h5v5h-5zM560 70h5v5h-5zM610 70h5v5h-5zM635 70h5v5h-5zM480 75h5v5h-5zM495 75h5v5h-5zM555 75h5v5h-5zM580 75h5v5h-5zM610 75h5v5h-5zM615 75h5v5h-5zM620 75h5v5h-5zM465 80h5v5h-5zM500 80h5v5h-5zM550 80h5v5h-5zM620 80h5v5h-5zM630 80h5v5h-5zM670 80h5v5h-5zM685 80h5v5h-5zM495 85h5v5h-5zM560 85h5v5h-5zM615 85h5v5h-5zM645 85h5v5h-5zM660 85h5v5h-5zM540 90h5v5h-5zM545 90h5v5h-5zM645 90h5v5h-5zM660 90h5v5h-5zM490 95h5v5h-5zM540 95h5v5h-5zM570 95h5v5h-5zM510 100h5v5h-5zM585 100h5v5h-5zM610 100h5v5h-5zM680 100h5v5h-5zM520 105h5v5h-5zM525 105h5v5h-5zM555 105h5v5h-5zM660 105h5v5h-5zM455 110h5v5h-5zM460 110h5v5h-5zM620 110h5v5h-5zM670 110h5v5h-5zM685 115h5v5h-5zM510 120h5v5h-5zM570 120h5v5h-5zM455 125h5v5h-5zM480 125h5v5h-5zM595 125h5v5h-5zM595 130h5v5h-5zM610 130h5v5h-5zM460 135h5v5h-5zM530 135h5v5h-5zM545 135h5v5h-5zM685 135h5v5h-5zM560 140h5v5h-5zM590 145h5v5h-5zM615 145h5v5h-5zM645 145h5v5h-5zM670 145h5v5h-5zM605 150h5v5h-5zM645 150h5v5h-5zM675 150h5v5h-5zM680 150h5v5h-5zM480 155h5v5h-5zM555 155h5v5h-5zM635 155h5v5h-5zM640 155h5v5h-5zM465 160h5v5h-5zM520 160h5v5h-5zM580 160h5v5h-5zM590 160h5v5h-5zM595 160h5v5h-5zM630 160h5v5h-5zM640 160h5v5h-5zM675 160h5v5h-5zM595 165h5v5h-5zM660 165h5v5h-5zM585 170h5v5h-5zM630 170h5v5h-5zM635 170h5v5h-5zM470 175h5v5h-5zM545 175h5v5h-5zM575 175h5v5h-5zM585 175h5v5h-5zM675 175h5v5h-5zM500 180h5v5h-5zM520 180h5v5h-5zM535 180h5v5h-5zM555 180h5v5h-5zM560 180h5v5h-5zM585 180h5v5h-5zM610 180h5v5h-5zM645 180h5v5h-5zM660 180h5v5h-5zM485 185h5v5h-5zM500 185h5v5h-5zM505 185h5v5h-5zM510 185h5v5h-5zM685 185h5v5h-5zM490 190h5v5h-5zM460 195h5v5h-5zM650 195h5v5h-5zM575 200h5v5h-5zM595 200h5v5h-5zM640 200h5v5h-5zM540 205h5v5h-5zM630 205h5v5h-5zM660 205h5v5h-5zM540 215h5v5h-5zM560 215h5v5h-5zM610 215h5v5h-5zM525 220h5v5h-5zM530 220h5v5h-5zM630 220h5v5h-5zM640 220h5v5h-5zM490 225h5v5h-5zM595 225h5v5h-5zM605 225h5v5h-5z"/><path fill="rgb(122,122,122)" d="M490 -5h5v5h-5zM625 -5h5v5h-5zM665 -5h5v5h-5zM470 0h5v5h-5zM615 0h5v5h-5zM470 5h5v5h-5zM615 5h5v5h-5zM620 5h5v5h-5zM665 5h5v5h-5zM535 10h5v5h-5zM540 10h5v5h-5zM575 10h5v5h-5zM670 10h5v5h-5zM460 15h5v5h-5zM475 15h5v5h-5zM490 15h5v5h-5zM500 15h5v5h-5zM490 20h5v5h-5zM610 20h5v5h-5zM500 25h5v5h-5zM565 25h5v5h-5zM580 25h5v5h-5zM505 35h5v5h-5zM515 35h5v5h-5zM595 35h5v5h-5zM570 40h5v5h-5zM595 40h5v5h-5zM655 40h5v5h-5zM665 40h5v5h-5zM515 45h5v5h-5zM565 45h5v5h-5zM655 45h5v5h-5zM665 45h5v5h-5zM680 45h5v5h-5zM685 45h5v5h-5zM475 50h5v5h-5zM500 50h5v5h-5zM515 50h5v5h-5zM625 50h5v5h-5zM670 50h5v5h-5zM500 55h5v5h-5zM545 55h5v5h-5zM550 55h5v5h-5zM465 60h5v5h-5zM505 60h5v5h-5zM545 60h5v5h-5zM565 60h5v5h-5zM635 60h5v5h-5zM565 65h5v5h-5zM625 80h5v5h-5zM470 85h5v5h-5zM550 85h5v5h-5zM570 85h5v5h-5zM680 85h5v5h-5zM685 85h5v5h-5zM515 90h5v5h-5zM555 90h5v5h-5zM575 90h5v5h-5zM650 90h5v5h-5zM655 90h5v5h-5zM665 90h5v5h-5zM510 95h5v5h-5zM545 95h5v5h-5zM650 95h5v5h-5zM660 95h5v5h-5zM520 100h5v5h-5zM525 100h5v5h-5zM540 100h5v5h-5zM560 100h5v5h-5zM570 100h5v5h-5zM595 100h5v5h-5zM650 100h5v5h-5zM530 105h5v5h-5zM590 105h5v5h-5zM610 105h5v5h-5zM610 110h5v5h-5zM615 110h5v5h-5zM480 115h5v5h-5zM630 115h5v5h-5zM675 115h5v5h-5zM520 120h5v5h-5zM555 120h5v5h-5zM675 120h5v5h-5zM685 120h5v5h-5zM510 125h5v5h-5zM625 130h5v5h-5zM670 135h5v5h-5zM545 140h5v5h-5zM620 140h5v5h-5zM625 140h5v5h-5zM630 140h5v5h-5zM645 140h5v5h-5zM545 145h5v5h-5zM650 145h5v5h-5zM645 155h5v5h-5zM670 155h5v5h-5zM675 155h5v5h-5zM515 160h5v5h-5zM585 160h5v5h-5zM645 160h5v5h-5zM670 160h5v5h-5zM515 165h5v5h-5zM520 165h5v5h-5zM560 165h5v5h-5zM585 165h5v5h-5zM635 165h5v5h-5zM650 165h5v5h-5zM515 170h5v5h-5zM520 170h5v5h-5zM595 170h5v5h-5zM485 175h5v5h-5zM490 175h5v5h-5zM595 175h5v5h-5zM625 175h5v5h-5zM670 175h5v5h-5zM505 180h5v5h-5zM525 180h5v5h-5zM590 180h5v5h-5zM665 180h5v5h-5zM680 180h5v5h-5zM685 180h5v5h-5zM470 185h5v5h-5zM475 185h5v5h-5zM580 185h5v5h-5zM625 190h5v5h-5zM675 190h5v5h-5zM625 195h5v5h-5zM490 200h5v5h-5zM495 200h5v5h-5zM540 200h5v5h-5zM625 200h5v5h-5zM555 210h5v5h-5zM665 210h5v5h-5zM480 215h5v5h-5zM660 215h5v5h-5zM665 215h5v5h-5zM480 220h5v5h-5zM535 220h5v5h-5zM540 220h5v5h-5zM605 220h5v5h-5zM645 220h5v5h-5zM665 220h5v5h-5zM480 225h5v5h-5zM530 225h5v5h-5zM540 225h5v5h-5zM545 225h5v5h-5zM615 225h5v5h-5zM640 225h5v5h-5zM665 225h5v5h-5z"/><path fill="rgb(133,133,133)" d="M465 -5h5v5h-5zM475 -5h5v5h-5zM485 -5h5v5h-5zM660 -5h5v5h-5zM465 0h5v5h-5zM490 0h5v5h-5zM465 5h5v5h-5zM485 5h5v5h-5zM490 5h5v5h-5zM545 5h5v5h-5zM595 5h5v5h-5zM460 10h5v5h-5zM580 10h5v5h-5zM625 10h5v5h-5zM455 15h5v5h-5zM555 15h5v5h-5zM475 20h5v5h-5zM565 20h5v5h-5zM595 20h5v5h-5zM640 20h5v5h-5zM590 25h5v5h-5zM510 30h5v5h-5zM530 35h5v5h-5zM680 35h5v5h-5zM515 40h5v5h-5zM685 40h5v5h-5zM505 45h5v5h-5zM470 50h5v5h-5zM530 50h5v5h-5zM535 50h5v5h-5zM550 50h5v5h-5zM560 50h5v5h-5zM485 55h5v5h-5zM510 55h5v5h-5zM520 55h5v5h-5zM525 55h5v5h-5zM570 55h5v5h-5zM580 55h5v5h-5zM500 60h5v5h-5zM590 60h5v5h-5zM595 60h5v5h-5zM670 60h5v5h-5zM455 65h5v5h-5zM540 65h5v5h-5zM580 65h5v5h-5zM635 65h5v5h-5zM565 70h5v5h-5zM615 70h5v5h-5zM620 70h5v5h-5zM560 75h5v5h-5zM625 75h5v5h-5zM630 75h5v5h-5zM495 80h5v5h-5zM525 80h5v5h-5zM540 80h5v5h-5zM565 80h5v5h-5zM650 80h5v5h-5zM680 80h5v5h-5zM540 85h5v5h-5zM580 85h5v5h-5zM610 85h5v5h-5zM650 85h5v5h-5zM670 85h5v5h-5zM520 90h5v5h-5zM550 90h5v5h-5zM500 95h5v5h-5zM525 95h5v5h-5zM530 95h5v5h-5zM535 95h5v5h-5zM575 95h5v5h-5zM655 95h5v5h-5zM490 100h5v5h-5zM515 100h5v5h-5zM495 105h5v5h-5zM675 105h5v5h-5zM550 115h5v5h-5zM460 120h5v5h-5zM465 120h5v5h-5zM595 120h5v5h-5zM610 120h5v5h-5zM630 120h5v5h-5zM615 130h5v5h-5zM535 135h5v5h-5zM550 135h5v5h-5zM555 135h5v5h-5zM590 135h5v5h-5zM600 135h5v5h-5zM605 135h5v5h-5zM620 135h5v5h-5zM625 135h5v5h-5zM680 135h5v5h-5zM460 140h5v5h-5zM540 140h5v5h-5zM540 145h5v5h-5zM550 145h5v5h-5zM555 145h5v5h-5zM600 145h5v5h-5zM685 150h5v5h-5zM550 155h5v5h-5zM590 165h5v5h-5zM545 170h5v5h-5zM510 175h5v5h-5zM570 175h5v5h-5zM650 175h5v5h-5zM655 175h5v5h-5zM485 180h5v5h-5zM510 180h5v5h-5zM515 180h5v5h-5zM565 180h5v5h-5zM580 180h5v5h-5zM495 185h5v5h-5zM675 185h5v5h-5zM550 190h5v5h-5zM635 190h5v5h-5zM670 190h5v5h-5zM655 195h5v5h-5zM660 195h5v5h-5zM460 200h5v5h-5zM555 200h5v5h-5zM455 205h5v5h-5zM670 205h5v5h-5zM455 215h5v5h-5zM465 215h5v5h-5zM470 215h5v5h-5zM510 215h5v5h-5zM650 215h5v5h-5zM490 220h5v5h-5zM495 220h5v5h-5zM635 220h5v5h-5zM660 220h5v5h-5zM470 225h5v5h-5zM510 225h5v5h-5zM525 225h5v5h-5zM535 225h5v5h-5zM650 225h5v5h-5z"/><path fill="rgb(144,144,144)" d="M510 -5h5v5h-5zM600 -5h5v5h-5zM650 -5h5v5h-5zM485 0h5v5h-5zM585 0h5v5h-5zM625 0h5v5h-5zM510 5h5v5h-5zM585 5h5v5h-5zM635 5h5v5h-5zM655 5h5v5h-5zM585 10h5v5h-5zM590 10h5v5h-5zM495 15h5v5h-5zM550 15h5v5h-5zM625 15h5v5h-5zM455 20h5v5h-5zM550 20h5v5h-5zM555 20h5v5h-5zM625 20h5v5h-5zM505 25h5v5h-5zM510 35h5v5h-5zM565 35h5v5h-5zM525 40h5v5h-5zM475 45h5v5h-5zM510 45h5v5h-5zM555 50h5v5h-5zM615 50h5v5h-5zM620 50h5v5h-5zM515 55h5v5h-5zM630 55h5v5h-5zM670 55h5v5h-5zM490 60h5v5h-5zM520 60h5v5h-5zM525 60h5v5h-5zM530 65h5v5h-5zM575 70h5v5h-5zM625 70h5v5h-5zM630 70h5v5h-5zM470 75h5v5h-5zM565 75h5v5h-5zM560 80h5v5h-5zM580 80h5v5h-5zM615 80h5v5h-5zM655 80h5v5h-5zM555 85h5v5h-5zM655 85h5v5h-5zM525 90h5v5h-5zM535 90h5v5h-5zM675 90h5v5h-5zM515 95h5v5h-5zM520 95h5v5h-5zM530 100h5v5h-5zM575 100h5v5h-5zM590 100h5v5h-5zM655 100h5v5h-5zM660 100h5v5h-5zM535 105h5v5h-5zM665 105h5v5h-5zM465 115h5v5h-5zM555 115h5v5h-5zM610 115h5v5h-5zM670 115h5v5h-5zM550 120h5v5h-5zM670 120h5v5h-5zM475 125h5v5h-5zM515 125h5v5h-5zM615 125h5v5h-5zM625 125h5v5h-5zM620 130h5v5h-5zM530 140h5v5h-5zM670 140h5v5h-5zM455 145h5v5h-5zM535 145h5v5h-5zM595 145h5v5h-5zM605 145h5v5h-5zM650 155h5v5h-5zM635 160h5v5h-5zM655 165h5v5h-5zM590 170h5v5h-5zM480 175h5v5h-5zM515 175h5v5h-5zM520 175h5v5h-5zM525 175h5v5h-5zM535 175h5v5h-5zM550 175h5v5h-5zM565 175h5v5h-5zM490 180h5v5h-5zM495 180h5v5h-5zM530 180h5v5h-5zM490 185h5v5h-5zM570 185h5v5h-5zM575 185h5v5h-5zM670 185h5v5h-5zM555 195h5v5h-5zM650 200h5v5h-5zM660 200h5v5h-5zM675 200h5v5h-5zM545 205h5v5h-5zM665 205h5v5h-5zM475 215h5v5h-5zM515 215h5v5h-5zM655 215h5v5h-5zM465 220h5v5h-5zM610 220h5v5h-5zM465 225h5v5h-5zM475 225h5v5h-5zM495 225h5v5h-5zM610 225h5v5h-5zM635 225h5v5h-5zM660 225h5v5h-5z"/><path fill="rgb(155,155,155)" d="M480 -5h5v5h-5zM635 0h5v5h-5zM665 0h5v5h-5zM675 0h5v5h-5zM480 5h5v5h-5zM515 5h5v5h-5zM625 5h5v5h-5zM675 5h5v5h-5zM455 10h5v5h-5zM630 10h5v5h-5zM570 15h5v5h-5zM495 20h5v5h-5zM500 20h5v5h-5zM505 20h5v5h-5zM670 35h5v5h-5zM505 40h5v5h-5zM565 40h5v5h-5zM470 45h5v5h-5zM500 45h5v5h-5zM550 45h5v5h-5zM495 50h5v5h-5zM470 55h5v5h-5zM475 55h5v5h-5zM495 55h5v5h-5zM540 55h5v5h-5zM610 55h5v5h-5zM470 60h5v5h-5zM475 60h5v5h-5zM495 60h5v5h-5zM510 60h5v5h-5zM570 70h5v5h-5zM475 75h5v5h-5zM555 80h5v5h-5zM610 80h5v5h-5zM675 80h5v5h-5zM525 85h5v5h-5zM675 85h5v5h-5zM500 100h5v5h-5zM455 115h5v5h-5zM460 115h5v5h-5zM595 135h5v5h-5zM610 135h5v5h-5zM615 135h5v5h-5zM675 135h5v5h-5zM550 140h5v5h-5zM600 140h5v5h-5zM685 140h5v5h-5zM610 145h5v5h-5zM675 145h5v5h-5zM680 145h5v5h-5zM545 160h5v5h-5zM655 160h5v5h-5zM475 175h5v5h-5zM590 175h5v5h-5zM480 180h5v5h-5zM675 180h5v5h-5zM625 185h5v5h-5zM635 185h5v5h-5zM545 195h5v5h-5zM665 195h5v5h-5zM675 195h5v5h-5zM655 200h5v5h-5zM550 205h5v5h-5zM545 210h5v5h-5zM460 215h5v5h-5zM470 220h5v5h-5zM475 220h5v5h-5zM520 220h5v5h-5zM545 220h5v5h-5z"/><path fill="rgb(166,166,166)" d="M455 -5h5v5h-5zM460 -5h5v5h-5zM455 0h5v5h-5zM475 0h5v5h-5zM480 0h5v5h-5zM540 0h5v5h-5zM655 0h5v5h-5zM475 5h5v5h-5zM650 5h5v5h-5zM635 15h5v5h-5zM515 20h5v5h-5zM515 25h5v5h-5zM570 25h5v5h-5zM575 25h5v5h-5zM630 25h5v5h-5zM475 40h5v5h-5zM500 40h5v5h-5zM550 40h5v5h-5zM680 40h5v5h-5zM535 45h5v5h-5zM490 50h5v5h-5zM490 55h5v5h-5zM575 55h5v5h-5zM580 60h5v5h-5zM530 75h5v5h-5zM535 75h5v5h-5zM575 85h5v5h-5zM530 90h5v5h-5zM670 90h5v5h-5zM495 95h5v5h-5zM535 100h5v5h-5zM670 105h5v5h-5zM625 115h5v5h-5zM480 120h5v5h-5zM515 120h5v5h-5zM620 125h5v5h-5zM650 135h5v5h-5zM655 135h5v5h-5zM455 140h5v5h-5zM555 140h5v5h-5zM590 140h5v5h-5zM605 140h5v5h-5zM615 140h5v5h-5zM655 140h5v5h-5zM685 145h5v5h-5zM470 155h5v5h-5zM650 160h5v5h-5zM545 165h5v5h-5zM560 170h5v5h-5zM530 175h5v5h-5zM555 175h5v5h-5zM560 175h5v5h-5zM625 180h5v5h-5zM655 185h5v5h-5zM630 190h5v5h-5zM455 200h5v5h-5zM545 200h5v5h-5zM510 220h5v5h-5zM560 220h5v5h-5zM650 220h5v5h-5zM655 220h5v5h-5zM655 225h5v5h-5z"/><path fill="rgb(177,177,177)" d="M540 -5h5v5h-5zM630 -5h5v5h-5zM635 -5h5v5h-5zM655 -5h5v5h-5zM675 -5h5v5h-5zM460 0h5v5h-5zM525 0h5v5h-5zM650 0h5v5h-5zM460 5h5v5h-5zM530 5h5v5h-5zM540 5h5v5h-5zM630 5h5v5h-5zM580 15h5v5h-5zM635 25h5v5h-5zM470 40h5v5h-5zM490 40h5v5h-5zM510 40h5v5h-5zM535 40h5v5h-5zM645 40h5v5h-5zM530 45h5v5h-5zM560 45h5v5h-5zM645 45h5v5h-5zM530 55h5v5h-5zM625 55h5v5h-5zM515 60h5v5h-5zM570 65h5v5h-5zM610 65h5v5h-5zM570 75h5v5h-5zM575 75h5v5h-5zM475 80h5v5h-5zM570 80h5v5h-5zM665 95h5v5h-5zM615 115h5v5h-5zM620 115h5v5h-5zM455 120h5v5h-5zM615 120h5v5h-5zM625 120h5v5h-5zM535 140h5v5h-5zM680 140h5v5h-5zM635 175h5v5h-5zM470 180h5v5h-5zM570 180h5v5h-5zM575 180h5v5h-5zM670 180h5v5h-5zM650 185h5v5h-5zM665 200h5v5h-5zM550 210h5v5h-5zM545 215h5v5h-5zM460 220h5v5h-5zM455 225h5v5h-5zM460 225h5v5h-5zM520 225h5v5h-5z"/><path fill="rgb(188,188,188)" d="M670 -5h5v5h-5zM590 5h5v5h-5zM670 5h5v5h-5zM585 15h5v5h-5zM590 15h5v5h-5zM630 15h5v5h-5zM510 20h5v5h-5zM580 20h5v5h-5zM585 20h5v5h-5zM510 25h5v5h-5zM555 35h5v5h-5zM560 35h5v5h-5zM675 35h5v5h-5zM570 60h5v5h-5zM630 60h5v5h-5zM535 65h5v5h-5zM625 65h5v5h-5zM630 65h5v5h-5zM470 80h5v5h-5zM555 95h5v5h-5zM550 100h5v5h-5zM665 100h5v5h-5zM650 140h5v5h-5zM675 140h5v5h-5zM475 155h5v5h-5zM470 160h5v5h-5zM550 170h5v5h-5zM635 195h5v5h-5zM550 200h5v5h-5zM635 200h5v5h-5z"/><path fill="rgb(200,200,200)" d="M525 -5h5v5h-5zM510 0h5v5h-5zM520 0h5v5h-5zM630 0h5v5h-5zM455 5h5v5h-5zM575 15h5v5h-5zM490 45h5v5h-5zM650 45h5v5h-5zM670 45h5v5h-5zM675 45h5v5h-5zM535 55h5v5h-5zM540 60h5v5h-5zM575 80h5v5h-5zM550 95h5v5h-5zM470 115h5v5h-5zM475 115h5v5h-5zM620 120h5v5h-5zM595 140h5v5h-5zM610 140h5v5h-5zM475 160h5v5h-5zM555 160h5v5h-5zM555 170h5v5h-5zM635 180h5v5h-5zM550 195h5v5h-5zM630 195h5v5h-5zM670 195h5v5h-5zM455 220h5v5h-5zM515 220h5v5h-5zM515 225h5v5h-5z"/><path fill="rgb(211,211,211)" d="M670 0h5v5h-5zM570 20h5v5h-5zM590 20h5v5h-5zM495 40h5v5h-5zM650 40h5v5h-5zM495 45h5v5h-5zM555 45h5v5h-5zM530 60h5v5h-5zM610 60h5v5h-5zM625 60h5v5h-5zM575 65h5v5h-5zM675 95h5v5h-5zM495 100h5v5h-5zM555 100h5v5h-5zM470 120h5v5h-5zM630 175h5v5h-5zM475 180h5v5h-5zM655 180h5v5h-5zM630 185h5v5h-5zM630 200h5v5h-5zM670 200h5v5h-5zM550 225h5v5h-5z"/><path fill="rgb(222,222,222)" d="M530 -5h5v5h-5zM595 0h5v5h-5zM535 5h5v5h-5zM530 40h5v5h-5zM560 40h5v5h-5zM620 55h5v5h-5zM620 65h5v5h-5zM535 85h5v5h-5zM675 100h5v5h-5zM555 165h5v5h-5zM650 180h5v5h-5zM555 215h5v5h-5z"/><path fill="rgb(233,233,233)" d="M590 -5h5v5h-5zM530 0h5v5h-5zM575 20h5v5h-5zM630 20h5v5h-5zM635 20h5v5h-5zM670 40h5v5h-5zM615 65h5v5h-5zM530 85h5v5h-5zM550 215h5v5h-5zM560 225h5v5h-5z"/><path fill="rgb(244,244,244)" d="M520 -5h5v5h-5zM535 -5h5v5h-5zM535 0h5v5h-5zM555 40h5v5h-5zM675 40h5v5h-5zM615 55h5v5h-5zM575 60h5v5h-5zM530 80h5v5h-5zM535 80h5v5h-5zM670 95h5v5h-5zM475 120h5v5h-5zM550 160h5v5h-5zM550 165h5v5h-5zM550 220h5v5h-5z"/><path fill="rgb(255,255,255)" d="M515 -5h5v5h-5zM595 -5h5v5h-5zM515 0h5v5h-5zM590 0h5v5h-5zM535 60h5v5h-5zM615 60h5v5h-5zM620 60h5v5h-5zM670 100h5v5h-5zM630 180h5v5h-5zM555 220h5v5h-5zM555 225h5v5h-5z"/></g><rect x="460" y="0" width="224" height="224" fill="url(#grid)"/></g><g clip-path="url(#c10)"><g filter="url(#fW)"><rect x="-6" y="218" width="244" height="244" fill="#000"/><path fill="rgb(11,11,11)" d="M109 298h5v5h-5z"/><path fill="rgb(22,22,22)" d="M104 298h5v5h-5zM104 303h5v5h-5zM109 303h5v5h-5zM129 358h5v5h-5zM139 438h5v5h-5zM144 438h5v5h-5z"/><path fill="rgb(33,33,33)" d="M134 238h5v5h-5zM194 248h5v5h-5zM199 248h5v5h-5zM194 253h5v5h-5zM94 258h5v5h-5zM19 278h5v5h-5zM24 278h5v5h-5zM29 278h5v5h-5zM109 278h5v5h-5zM174 278h5v5h-5zM74 283h5v5h-5zM74 288h5v5h-5zM74 293h5v5h-5zM109 293h5v5h-5zM104 308h5v5h-5zM24 318h5v5h-5zM89 323h5v5h-5zM194 323h5v5h-5zM89 328h5v5h-5zM194 328h5v5h-5zM199 328h5v5h-5zM69 338h5v5h-5zM74 338h5v5h-5zM144 338h5v5h-5zM149 338h5v5h-5zM24 348h5v5h-5zM19 353h5v5h-5zM24 353h5v5h-5zM29 353h5v5h-5zM134 353h5v5h-5zM174 353h5v5h-5zM74 358h5v5h-5zM134 358h5v5h-5zM-1 373h5v5h-5zM4 373h5v5h-5zM94 373h5v5h-5zM94 378h5v5h-5zM149 378h5v5h-5zM214 378h5v5h-5zM219 378h5v5h-5zM224 378h5v5h-5zM229 378h5v5h-5zM94 398h5v5h-5zM134 438h5v5h-5zM149 438h5v5h-5zM19 453h5v5h-5zM54 453h5v5h-5z"/><path fill="rgb(44,44,44)" d="M64 223h5v5h-5zM69 223h5v5h-5zM59 228h5v5h-5zM64 228h5v5h-5zM59 233h5v5h-5zM64 233h5v5h-5zM54 238h5v5h-5zM129 238h5v5h-5zM139 238h5v5h-5zM174 238h5v5h-5zM179 238h5v5h-5zM184 238h5v5h-5zM189 238h5v5h-5zM209 238h5v5h-5zM214 238h5v5h-5zM129 243h5v5h-5zM134 243h5v5h-5zM169 243h5v5h-5zM174 243h5v5h-5zM194 243h5v5h-5zM199 243h5v5h-5zM204 243h5v5h-5zM209 243h5v5h-5zM164 248h5v5h-5zM204 248h5v5h-5zM154 253h5v5h-5zM159 253h5v5h-5zM189 253h5v5h-5zM199 253h5v5h-5zM19 258h5v5h-5zM24 258h5v5h-5zM29 258h5v5h-5zM149 258h5v5h-5zM189 258h5v5h-5zM99 263h5v5h-5zM29 273h5v5h-5zM14 278h5v5h-5zM34 278h5v5h-5zM114 278h5v5h-5zM179 278h5v5h-5zM34 283h5v5h-5zM69 283h5v5h-5zM89 283h5v5h-5zM109 283h5v5h-5zM69 288h5v5h-5zM69 293h5v5h-5zM79 293h5v5h-5zM104 293h5v5h-5zM114 293h5v5h-5zM144 293h5v5h-5zM69 298h5v5h-5zM114 298h5v5h-5zM99 303h5v5h-5zM99 308h5v5h-5zM109 308h5v5h-5zM104 313h5v5h-5zM109 313h5v5h-5zM14 318h5v5h-5zM19 318h5v5h-5zM29 318h5v5h-5zM109 318h5v5h-5zM169 318h5v5h-5zM189 318h5v5h-5zM19 323h5v5h-5zM24 323h5v5h-5zM29 323h5v5h-5zM169 323h5v5h-5zM174 323h5v5h-5zM199 323h5v5h-5zM169 328h5v5h-5zM204 328h5v5h-5zM34 333h5v5h-5zM69 333h5v5h-5zM74 333h5v5h-5zM89 333h5v5h-5zM149 333h5v5h-5zM154 333h5v5h-5zM169 333h5v5h-5zM174 333h5v5h-5zM194 333h5v5h-5zM199 333h5v5h-5zM204 333h5v5h-5zM14 338h5v5h-5zM34 338h5v5h-5zM54 338h5v5h-5zM94 338h5v5h-5zM154 338h5v5h-5zM174 338h5v5h-5zM179 338h5v5h-5zM19 343h5v5h-5zM24 343h5v5h-5zM29 343h5v5h-5zM69 343h5v5h-5zM144 343h5v5h-5zM174 343h5v5h-5zM179 343h5v5h-5zM19 348h5v5h-5zM29 348h5v5h-5zM174 348h5v5h-5zM74 353h5v5h-5zM129 353h5v5h-5zM14 358h5v5h-5zM19 358h5v5h-5zM24 358h5v5h-5zM29 358h5v5h-5zM34 358h5v5h-5zM124 358h5v5h-5zM174 358h5v5h-5zM209 358h5v5h-5zM214 358h5v5h-5zM4 368h5v5h-5zM9 373h5v5h-5zM29 373h5v5h-5zM149 373h5v5h-5zM154 373h5v5h-5zM-1 378h5v5h-5zM99 378h5v5h-5zM229 383h5v5h-5zM94 393h5v5h-5zM99 393h5v5h-5zM89 398h5v5h-5zM99 398h5v5h-5zM104 398h5v5h-5zM214 398h5v5h-5zM109 413h5v5h-5zM149 418h5v5h-5zM149 423h5v5h-5zM144 433h5v5h-5zM149 433h5v5h-5zM14 438h5v5h-5zM149 443h5v5h-5zM19 448h5v5h-5zM54 448h5v5h-5zM114 448h5v5h-5zM59 453h5v5h-5zM114 453h5v5h-5z"/><path fill="rgb(55,55,55)" d="M59 223h5v5h-5zM69 228h5v5h-5zM54 233h5v5h-5zM69 233h5v5h-5zM134 233h5v5h-5zM49 238h5v5h-5zM59 238h5v5h-5zM64 238h5v5h-5zM69 238h5v5h-5zM94 238h5v5h-5zM144 238h5v5h-5zM149 238h5v5h-5zM169 238h5v5h-5zM54 243h5v5h-5zM59 243h5v5h-5zM69 243h5v5h-5zM149 243h5v5h-5zM154 243h5v5h-5zM159 243h5v5h-5zM164 243h5v5h-5zM189 243h5v5h-5zM214 243h5v5h-5zM229 243h5v5h-5zM134 248h5v5h-5zM154 248h5v5h-5zM159 248h5v5h-5zM169 248h5v5h-5zM189 248h5v5h-5zM29 253h5v5h-5zM34 253h5v5h-5zM89 253h5v5h-5zM94 253h5v5h-5zM114 253h5v5h-5zM134 253h5v5h-5zM149 253h5v5h-5zM164 253h5v5h-5zM204 253h5v5h-5zM34 258h5v5h-5zM99 258h5v5h-5zM144 258h5v5h-5zM154 258h5v5h-5zM184 258h5v5h-5zM24 263h5v5h-5zM29 263h5v5h-5zM149 263h5v5h-5zM184 263h5v5h-5zM189 263h5v5h-5zM29 268h5v5h-5zM24 273h5v5h-5zM34 273h5v5h-5zM59 273h5v5h-5zM64 273h5v5h-5zM109 273h5v5h-5zM174 273h5v5h-5zM189 273h5v5h-5zM59 278h5v5h-5zM64 278h5v5h-5zM69 278h5v5h-5zM74 278h5v5h-5zM89 278h5v5h-5zM94 278h5v5h-5zM104 278h5v5h-5zM149 278h5v5h-5zM169 278h5v5h-5zM184 278h5v5h-5zM189 278h5v5h-5zM229 278h5v5h-5zM14 283h5v5h-5zM19 283h5v5h-5zM29 283h5v5h-5zM79 283h5v5h-5zM84 283h5v5h-5zM94 283h5v5h-5zM114 283h5v5h-5zM169 283h5v5h-5zM174 283h5v5h-5zM189 283h5v5h-5zM194 283h5v5h-5zM34 288h5v5h-5zM79 288h5v5h-5zM109 288h5v5h-5zM144 288h5v5h-5zM189 288h5v5h-5zM194 288h5v5h-5zM139 293h5v5h-5zM149 293h5v5h-5zM74 298h5v5h-5zM99 298h5v5h-5zM174 298h5v5h-5zM214 298h5v5h-5zM229 298h5v5h-5zM174 303h5v5h-5zM94 313h5v5h-5zM99 313h5v5h-5zM134 313h5v5h-5zM34 318h5v5h-5zM74 318h5v5h-5zM89 318h5v5h-5zM94 318h5v5h-5zM114 318h5v5h-5zM134 318h5v5h-5zM174 318h5v5h-5zM194 318h5v5h-5zM224 318h5v5h-5zM229 318h5v5h-5zM14 323h5v5h-5zM34 323h5v5h-5zM39 323h5v5h-5zM74 323h5v5h-5zM84 323h5v5h-5zM94 323h5v5h-5zM114 323h5v5h-5zM189 323h5v5h-5zM204 323h5v5h-5zM229 323h5v5h-5zM14 328h5v5h-5zM29 328h5v5h-5zM34 328h5v5h-5zM84 328h5v5h-5zM94 328h5v5h-5zM114 328h5v5h-5zM174 328h5v5h-5zM209 328h5v5h-5zM9 333h5v5h-5zM14 333h5v5h-5zM39 333h5v5h-5zM79 333h5v5h-5zM84 333h5v5h-5zM94 333h5v5h-5zM114 333h5v5h-5zM119 333h5v5h-5zM144 333h5v5h-5zM164 333h5v5h-5zM189 333h5v5h-5zM209 333h5v5h-5zM19 338h5v5h-5zM24 338h5v5h-5zM29 338h5v5h-5zM59 338h5v5h-5zM64 338h5v5h-5zM89 338h5v5h-5zM139 338h5v5h-5zM169 338h5v5h-5zM184 338h5v5h-5zM189 338h5v5h-5zM229 338h5v5h-5zM54 343h5v5h-5zM139 343h5v5h-5zM149 343h5v5h-5zM134 348h5v5h-5zM139 348h5v5h-5zM144 348h5v5h-5zM179 348h5v5h-5zM69 353h5v5h-5zM94 353h5v5h-5zM139 353h5v5h-5zM179 353h5v5h-5zM214 353h5v5h-5zM69 358h5v5h-5zM79 358h5v5h-5zM139 358h5v5h-5zM154 358h5v5h-5zM169 358h5v5h-5zM9 363h5v5h-5zM14 363h5v5h-5zM34 363h5v5h-5zM129 363h5v5h-5zM134 363h5v5h-5zM154 363h5v5h-5zM209 363h5v5h-5zM214 363h5v5h-5zM-1 368h5v5h-5zM9 368h5v5h-5zM149 368h5v5h-5zM154 368h5v5h-5zM14 373h5v5h-5zM19 373h5v5h-5zM24 373h5v5h-5zM34 373h5v5h-5zM89 373h5v5h-5zM139 373h5v5h-5zM144 373h5v5h-5zM174 373h5v5h-5zM209 373h5v5h-5zM214 373h5v5h-5zM224 373h5v5h-5zM29 378h5v5h-5zM69 378h5v5h-5zM144 378h5v5h-5zM154 378h5v5h-5zM209 378h5v5h-5zM94 383h5v5h-5zM99 383h5v5h-5zM149 383h5v5h-5zM214 383h5v5h-5zM224 383h5v5h-5zM94 388h5v5h-5zM229 388h5v5h-5zM104 393h5v5h-5zM229 393h5v5h-5zM14 398h5v5h-5zM74 398h5v5h-5zM109 398h5v5h-5zM129 398h5v5h-5zM134 398h5v5h-5zM219 398h5v5h-5zM224 398h5v5h-5zM229 398h5v5h-5zM74 403h5v5h-5zM94 403h5v5h-5zM129 403h5v5h-5zM214 403h5v5h-5zM109 408h5v5h-5zM154 408h5v5h-5zM29 413h5v5h-5zM54 413h5v5h-5zM104 413h5v5h-5zM149 413h5v5h-5zM154 413h5v5h-5zM29 418h5v5h-5zM109 418h5v5h-5zM154 418h5v5h-5zM149 428h5v5h-5zM134 433h5v5h-5zM139 433h5v5h-5zM19 438h5v5h-5zM69 438h5v5h-5zM94 438h5v5h-5zM154 438h5v5h-5zM169 438h5v5h-5zM174 438h5v5h-5zM209 438h5v5h-5zM214 438h5v5h-5zM219 438h5v5h-5zM229 438h5v5h-5zM14 443h5v5h-5zM19 443h5v5h-5zM29 443h5v5h-5zM54 443h5v5h-5zM114 443h5v5h-5zM134 443h5v5h-5zM144 443h5v5h-5zM169 443h5v5h-5zM14 448h5v5h-5zM49 448h5v5h-5zM94 448h5v5h-5zM109 448h5v5h-5zM24 453h5v5h-5zM94 453h5v5h-5zM109 453h5v5h-5zM154 453h5v5h-5z"/><path fill="rgb(67,67,67)" d="M19 223h5v5h-5zM19 228h5v5h-5zM54 228h5v5h-5zM14 233h5v5h-5zM19 233h5v5h-5zM179 233h5v5h-5zM184 233h5v5h-5zM189 233h5v5h-5zM14 238h5v5h-5zM74 238h5v5h-5zM99 238h5v5h-5zM194 238h5v5h-5zM219 238h5v5h-5zM224 238h5v5h-5zM64 243h5v5h-5zM74 243h5v5h-5zM94 243h5v5h-5zM124 243h5v5h-5zM139 243h5v5h-5zM144 243h5v5h-5zM179 243h5v5h-5zM184 243h5v5h-5zM224 243h5v5h-5zM34 248h5v5h-5zM59 248h5v5h-5zM64 248h5v5h-5zM69 248h5v5h-5zM129 248h5v5h-5zM209 248h5v5h-5zM229 248h5v5h-5zM14 253h5v5h-5zM19 253h5v5h-5zM24 253h5v5h-5zM54 253h5v5h-5zM59 253h5v5h-5zM69 253h5v5h-5zM139 253h5v5h-5zM169 253h5v5h-5zM209 253h5v5h-5zM14 258h5v5h-5zM54 258h5v5h-5zM69 258h5v5h-5zM109 258h5v5h-5zM114 258h5v5h-5zM134 258h5v5h-5zM139 258h5v5h-5zM194 258h5v5h-5zM214 258h5v5h-5zM224 258h5v5h-5zM229 258h5v5h-5zM19 263h5v5h-5zM94 263h5v5h-5zM104 263h5v5h-5zM144 263h5v5h-5zM179 263h5v5h-5zM229 263h5v5h-5zM99 268h5v5h-5zM149 268h5v5h-5zM184 268h5v5h-5zM189 268h5v5h-5zM19 273h5v5h-5zM69 273h5v5h-5zM94 273h5v5h-5zM99 273h5v5h-5zM149 273h5v5h-5zM179 273h5v5h-5zM184 273h5v5h-5zM224 273h5v5h-5zM229 273h5v5h-5zM54 278h5v5h-5zM79 278h5v5h-5zM84 278h5v5h-5zM99 278h5v5h-5zM144 278h5v5h-5zM194 278h5v5h-5zM224 278h5v5h-5zM24 283h5v5h-5zM39 283h5v5h-5zM64 283h5v5h-5zM104 283h5v5h-5zM144 283h5v5h-5zM149 283h5v5h-5zM229 283h5v5h-5zM14 288h5v5h-5zM29 288h5v5h-5zM39 288h5v5h-5zM89 288h5v5h-5zM94 288h5v5h-5zM114 288h5v5h-5zM139 288h5v5h-5zM149 288h5v5h-5zM14 293h5v5h-5zM34 293h5v5h-5zM64 293h5v5h-5zM94 293h5v5h-5zM99 293h5v5h-5zM169 293h5v5h-5zM189 293h5v5h-5zM194 293h5v5h-5zM229 293h5v5h-5zM14 298h5v5h-5zM64 298h5v5h-5zM94 298h5v5h-5zM139 298h5v5h-5zM144 298h5v5h-5zM149 298h5v5h-5zM169 298h5v5h-5zM189 298h5v5h-5zM224 298h5v5h-5zM179 303h5v5h-5zM229 303h5v5h-5zM134 308h5v5h-5zM174 308h5v5h-5zM14 313h5v5h-5zM19 313h5v5h-5zM139 313h5v5h-5zM174 313h5v5h-5zM189 313h5v5h-5zM69 318h5v5h-5zM79 318h5v5h-5zM84 318h5v5h-5zM104 318h5v5h-5zM139 318h5v5h-5zM144 318h5v5h-5zM179 318h5v5h-5zM184 318h5v5h-5zM214 318h5v5h-5zM9 323h5v5h-5zM44 323h5v5h-5zM49 323h5v5h-5zM79 323h5v5h-5zM109 323h5v5h-5zM209 323h5v5h-5zM19 328h5v5h-5zM24 328h5v5h-5zM39 328h5v5h-5zM44 328h5v5h-5zM49 328h5v5h-5zM74 328h5v5h-5zM79 328h5v5h-5zM119 328h5v5h-5zM149 328h5v5h-5zM189 328h5v5h-5zM4 333h5v5h-5zM19 333h5v5h-5zM29 333h5v5h-5zM44 333h5v5h-5zM49 333h5v5h-5zM54 333h5v5h-5zM124 333h5v5h-5zM129 333h5v5h-5zM134 333h5v5h-5zM139 333h5v5h-5zM159 333h5v5h-5zM179 333h5v5h-5zM224 333h5v5h-5zM229 333h5v5h-5zM-1 338h5v5h-5zM9 338h5v5h-5zM39 338h5v5h-5zM49 338h5v5h-5zM99 338h5v5h-5zM114 338h5v5h-5zM134 338h5v5h-5zM209 338h5v5h-5zM224 338h5v5h-5zM14 343h5v5h-5zM59 343h5v5h-5zM64 343h5v5h-5zM74 343h5v5h-5zM94 343h5v5h-5zM134 343h5v5h-5zM184 343h5v5h-5zM69 348h5v5h-5zM94 348h5v5h-5zM184 348h5v5h-5zM14 353h5v5h-5zM34 353h5v5h-5zM64 353h5v5h-5zM144 353h5v5h-5zM149 353h5v5h-5zM169 353h5v5h-5zM184 353h5v5h-5zM209 353h5v5h-5zM9 358h5v5h-5zM54 358h5v5h-5zM59 358h5v5h-5zM64 358h5v5h-5zM94 358h5v5h-5zM109 358h5v5h-5zM114 358h5v5h-5zM119 358h5v5h-5zM144 358h5v5h-5zM149 358h5v5h-5zM179 358h5v5h-5zM4 363h5v5h-5zM19 363h5v5h-5zM29 363h5v5h-5zM54 363h5v5h-5zM74 363h5v5h-5zM149 363h5v5h-5zM169 363h5v5h-5zM174 363h5v5h-5zM14 368h5v5h-5zM29 368h5v5h-5zM34 368h5v5h-5zM49 368h5v5h-5zM54 368h5v5h-5zM134 368h5v5h-5zM174 368h5v5h-5zM209 368h5v5h-5zM214 368h5v5h-5zM49 373h5v5h-5zM54 373h5v5h-5zM59 373h5v5h-5zM69 373h5v5h-5zM74 373h5v5h-5zM99 373h5v5h-5zM129 373h5v5h-5zM134 373h5v5h-5zM169 373h5v5h-5zM179 373h5v5h-5zM184 373h5v5h-5zM219 373h5v5h-5zM229 373h5v5h-5zM9 378h5v5h-5zM14 378h5v5h-5zM19 378h5v5h-5zM24 378h5v5h-5zM34 378h5v5h-5zM54 378h5v5h-5zM59 378h5v5h-5zM64 378h5v5h-5zM104 378h5v5h-5zM134 378h5v5h-5zM174 378h5v5h-5zM179 378h5v5h-5zM184 378h5v5h-5zM189 378h5v5h-5zM219 383h5v5h-5zM99 388h5v5h-5zM224 388h5v5h-5zM174 393h5v5h-5zM224 393h5v5h-5zM34 398h5v5h-5zM69 398h5v5h-5zM79 398h5v5h-5zM84 398h5v5h-5zM114 398h5v5h-5zM149 398h5v5h-5zM169 398h5v5h-5zM174 398h5v5h-5zM54 403h5v5h-5zM69 403h5v5h-5zM89 403h5v5h-5zM99 403h5v5h-5zM104 403h5v5h-5zM109 403h5v5h-5zM134 403h5v5h-5zM149 403h5v5h-5zM154 403h5v5h-5zM219 403h5v5h-5zM224 403h5v5h-5zM229 403h5v5h-5zM54 408h5v5h-5zM94 408h5v5h-5zM104 408h5v5h-5zM129 408h5v5h-5zM134 408h5v5h-5zM149 408h5v5h-5zM214 408h5v5h-5zM34 413h5v5h-5zM49 413h5v5h-5zM74 413h5v5h-5zM94 413h5v5h-5zM99 413h5v5h-5zM129 413h5v5h-5zM134 413h5v5h-5zM159 413h5v5h-5zM169 413h5v5h-5zM19 418h5v5h-5zM24 418h5v5h-5zM34 418h5v5h-5zM54 418h5v5h-5zM74 418h5v5h-5zM89 418h5v5h-5zM94 418h5v5h-5zM114 418h5v5h-5zM129 418h5v5h-5zM134 418h5v5h-5zM144 418h5v5h-5zM14 433h5v5h-5zM54 433h5v5h-5zM174 433h5v5h-5zM189 433h5v5h-5zM9 438h5v5h-5zM24 438h5v5h-5zM29 438h5v5h-5zM54 438h5v5h-5zM59 438h5v5h-5zM64 438h5v5h-5zM89 438h5v5h-5zM129 438h5v5h-5zM224 438h5v5h-5zM24 443h5v5h-5zM49 443h5v5h-5zM59 443h5v5h-5zM89 443h5v5h-5zM94 443h5v5h-5zM109 443h5v5h-5zM129 443h5v5h-5zM139 443h5v5h-5zM154 443h5v5h-5zM209 443h5v5h-5zM214 443h5v5h-5zM24 448h5v5h-5zM29 448h5v5h-5zM59 448h5v5h-5zM89 448h5v5h-5zM149 448h5v5h-5zM14 453h5v5h-5zM29 453h5v5h-5zM34 453h5v5h-5zM49 453h5v5h-5zM99 453h5v5h-5zM119 453h5v5h-5zM214 453h5v5h-5z"/><path fill="rgb(78,78,78)" d="M24 223h5v5h-5zM149 223h5v5h-5zM184 223h5v5h-5zM189 223h5v5h-5zM184 228h5v5h-5zM94 233h5v5h-5zM139 233h5v5h-5zM144 233h5v5h-5zM174 233h5v5h-5zM214 233h5v5h-5zM9 238h5v5h-5zM19 238h5v5h-5zM34 238h5v5h-5zM39 238h5v5h-5zM44 238h5v5h-5zM104 238h5v5h-5zM109 238h5v5h-5zM114 238h5v5h-5zM154 238h5v5h-5zM164 238h5v5h-5zM204 238h5v5h-5zM229 238h5v5h-5zM14 243h5v5h-5zM34 243h5v5h-5zM49 243h5v5h-5zM114 243h5v5h-5zM119 243h5v5h-5zM219 243h5v5h-5zM14 248h5v5h-5zM54 248h5v5h-5zM74 248h5v5h-5zM94 248h5v5h-5zM114 248h5v5h-5zM139 248h5v5h-5zM149 248h5v5h-5zM214 248h5v5h-5zM224 248h5v5h-5zM39 253h5v5h-5zM64 253h5v5h-5zM74 253h5v5h-5zM129 253h5v5h-5zM144 253h5v5h-5zM184 253h5v5h-5zM214 253h5v5h-5zM219 253h5v5h-5zM224 253h5v5h-5zM229 253h5v5h-5zM39 258h5v5h-5zM59 258h5v5h-5zM64 258h5v5h-5zM74 258h5v5h-5zM89 258h5v5h-5zM104 258h5v5h-5zM159 258h5v5h-5zM174 258h5v5h-5zM179 258h5v5h-5zM219 258h5v5h-5zM34 263h5v5h-5zM54 263h5v5h-5zM109 263h5v5h-5zM139 263h5v5h-5zM174 263h5v5h-5zM224 263h5v5h-5zM19 268h5v5h-5zM24 268h5v5h-5zM34 268h5v5h-5zM59 268h5v5h-5zM104 268h5v5h-5zM109 268h5v5h-5zM144 268h5v5h-5zM174 268h5v5h-5zM179 268h5v5h-5zM229 268h5v5h-5zM54 273h5v5h-5zM104 273h5v5h-5zM114 273h5v5h-5zM144 273h5v5h-5zM9 278h5v5h-5zM39 278h5v5h-5zM134 278h5v5h-5zM139 278h5v5h-5zM154 278h5v5h-5zM209 278h5v5h-5zM214 278h5v5h-5zM9 283h5v5h-5zM44 283h5v5h-5zM49 283h5v5h-5zM54 283h5v5h-5zM59 283h5v5h-5zM99 283h5v5h-5zM134 283h5v5h-5zM139 283h5v5h-5zM179 283h5v5h-5zM184 283h5v5h-5zM44 288h5v5h-5zM49 288h5v5h-5zM64 288h5v5h-5zM84 288h5v5h-5zM99 288h5v5h-5zM104 288h5v5h-5zM169 288h5v5h-5zM229 288h5v5h-5zM9 293h5v5h-5zM29 293h5v5h-5zM39 293h5v5h-5zM84 293h5v5h-5zM89 293h5v5h-5zM134 293h5v5h-5zM154 293h5v5h-5zM174 293h5v5h-5zM214 293h5v5h-5zM219 293h5v5h-5zM224 293h5v5h-5zM9 298h5v5h-5zM54 298h5v5h-5zM59 298h5v5h-5zM134 298h5v5h-5zM154 298h5v5h-5zM179 298h5v5h-5zM184 298h5v5h-5zM194 298h5v5h-5zM209 298h5v5h-5zM219 298h5v5h-5zM69 303h5v5h-5zM94 303h5v5h-5zM114 303h5v5h-5zM134 303h5v5h-5zM184 303h5v5h-5zM189 303h5v5h-5zM94 308h5v5h-5zM29 313h5v5h-5zM114 313h5v5h-5zM129 313h5v5h-5zM169 313h5v5h-5zM224 313h5v5h-5zM229 313h5v5h-5zM9 318h5v5h-5zM39 318h5v5h-5zM54 318h5v5h-5zM99 318h5v5h-5zM129 318h5v5h-5zM149 318h5v5h-5zM164 318h5v5h-5zM209 318h5v5h-5zM219 318h5v5h-5zM69 323h5v5h-5zM119 323h5v5h-5zM134 323h5v5h-5zM139 323h5v5h-5zM144 323h5v5h-5zM149 323h5v5h-5zM164 323h5v5h-5zM179 323h5v5h-5zM184 323h5v5h-5zM224 323h5v5h-5zM9 328h5v5h-5zM69 328h5v5h-5zM134 328h5v5h-5zM144 328h5v5h-5zM164 328h5v5h-5zM224 328h5v5h-5zM229 328h5v5h-5zM-1 333h5v5h-5zM24 333h5v5h-5zM184 333h5v5h-5zM214 333h5v5h-5zM219 333h5v5h-5zM79 338h5v5h-5zM104 338h5v5h-5zM109 338h5v5h-5zM129 338h5v5h-5zM159 338h5v5h-5zM164 338h5v5h-5zM214 338h5v5h-5zM219 338h5v5h-5zM99 343h5v5h-5zM229 343h5v5h-5zM14 348h5v5h-5zM59 348h5v5h-5zM64 348h5v5h-5zM74 348h5v5h-5zM149 348h5v5h-5zM59 353h5v5h-5zM99 353h5v5h-5zM124 353h5v5h-5zM189 353h5v5h-5zM39 358h5v5h-5zM84 358h5v5h-5zM89 358h5v5h-5zM99 358h5v5h-5zM104 358h5v5h-5zM159 358h5v5h-5zM164 358h5v5h-5zM184 358h5v5h-5zM189 358h5v5h-5zM219 358h5v5h-5zM224 358h5v5h-5zM229 358h5v5h-5zM-1 363h5v5h-5zM24 363h5v5h-5zM39 363h5v5h-5zM49 363h5v5h-5zM69 363h5v5h-5zM114 363h5v5h-5zM124 363h5v5h-5zM139 363h5v5h-5zM144 363h5v5h-5zM229 363h5v5h-5zM19 368h5v5h-5zM24 368h5v5h-5zM74 368h5v5h-5zM94 368h5v5h-5zM114 368h5v5h-5zM129 368h5v5h-5zM139 368h5v5h-5zM144 368h5v5h-5zM169 368h5v5h-5zM39 373h5v5h-5zM44 373h5v5h-5zM64 373h5v5h-5zM109 373h5v5h-5zM114 373h5v5h-5zM159 373h5v5h-5zM189 373h5v5h-5zM4 378h5v5h-5zM49 378h5v5h-5zM74 378h5v5h-5zM89 378h5v5h-5zM109 378h5v5h-5zM129 378h5v5h-5zM139 378h5v5h-5zM194 378h5v5h-5zM174 383h5v5h-5zM149 388h5v5h-5zM174 388h5v5h-5zM14 393h5v5h-5zM29 393h5v5h-5zM89 393h5v5h-5zM109 393h5v5h-5zM149 393h5v5h-5zM214 393h5v5h-5zM219 393h5v5h-5zM9 398h5v5h-5zM19 398h5v5h-5zM29 398h5v5h-5zM54 398h5v5h-5zM59 398h5v5h-5zM119 398h5v5h-5zM124 398h5v5h-5zM154 398h5v5h-5zM14 403h5v5h-5zM59 403h5v5h-5zM159 403h5v5h-5zM169 403h5v5h-5zM209 403h5v5h-5zM74 408h5v5h-5zM99 408h5v5h-5zM159 408h5v5h-5zM219 408h5v5h-5zM224 408h5v5h-5zM229 408h5v5h-5zM9 413h5v5h-5zM14 413h5v5h-5zM19 413h5v5h-5zM24 413h5v5h-5zM89 413h5v5h-5zM114 413h5v5h-5zM144 413h5v5h-5zM164 413h5v5h-5zM174 413h5v5h-5zM214 413h5v5h-5zM229 413h5v5h-5zM14 418h5v5h-5zM49 418h5v5h-5zM104 418h5v5h-5zM139 418h5v5h-5zM169 418h5v5h-5zM174 418h5v5h-5zM189 418h5v5h-5zM214 418h5v5h-5zM54 423h5v5h-5zM134 423h5v5h-5zM144 423h5v5h-5zM54 428h5v5h-5zM134 428h5v5h-5zM144 428h5v5h-5zM19 433h5v5h-5zM59 433h5v5h-5zM69 433h5v5h-5zM94 433h5v5h-5zM184 433h5v5h-5zM209 433h5v5h-5zM214 433h5v5h-5zM34 438h5v5h-5zM49 438h5v5h-5zM74 438h5v5h-5zM114 438h5v5h-5zM164 438h5v5h-5zM189 438h5v5h-5zM194 438h5v5h-5zM204 438h5v5h-5zM34 443h5v5h-5zM69 443h5v5h-5zM164 443h5v5h-5zM174 443h5v5h-5zM229 443h5v5h-5zM34 448h5v5h-5zM99 448h5v5h-5zM104 448h5v5h-5zM119 448h5v5h-5zM129 448h5v5h-5zM134 448h5v5h-5zM154 448h5v5h-5zM169 448h5v5h-5zM209 448h5v5h-5zM214 448h5v5h-5zM64 453h5v5h-5zM74 453h5v5h-5zM89 453h5v5h-5zM104 453h5v5h-5zM129 453h5v5h-5zM134 453h5v5h-5zM149 453h5v5h-5zM174 453h5v5h-5z"/><path fill="rgb(89,89,89)" d="M54 223h5v5h-5zM74 223h5v5h-5zM94 223h5v5h-5zM99 223h5v5h-5zM134 223h5v5h-5zM139 223h5v5h-5zM179 223h5v5h-5zM214 223h5v5h-5zM94 228h5v5h-5zM134 228h5v5h-5zM149 228h5v5h-5zM174 228h5v5h-5zM179 228h5v5h-5zM189 228h5v5h-5zM24 233h5v5h-5zM49 233h5v5h-5zM99 233h5v5h-5zM109 233h5v5h-5zM149 233h5v5h-5zM209 233h5v5h-5zM4 238h5v5h-5zM29 238h5v5h-5zM89 238h5v5h-5zM124 238h5v5h-5zM199 238h5v5h-5zM-1 243h5v5h-5zM9 243h5v5h-5zM39 243h5v5h-5zM29 248h5v5h-5zM39 248h5v5h-5zM89 248h5v5h-5zM144 248h5v5h-5zM174 248h5v5h-5zM219 248h5v5h-5zM49 253h5v5h-5zM79 253h5v5h-5zM84 253h5v5h-5zM109 253h5v5h-5zM49 258h5v5h-5zM169 258h5v5h-5zM209 258h5v5h-5zM14 263h5v5h-5zM59 263h5v5h-5zM69 263h5v5h-5zM219 263h5v5h-5zM54 268h5v5h-5zM64 268h5v5h-5zM69 268h5v5h-5zM94 268h5v5h-5zM224 268h5v5h-5zM14 273h5v5h-5zM74 273h5v5h-5zM139 273h5v5h-5zM219 273h5v5h-5zM49 278h5v5h-5zM119 278h5v5h-5zM129 278h5v5h-5zM219 278h5v5h-5zM-1 283h5v5h-5zM4 283h5v5h-5zM119 283h5v5h-5zM154 283h5v5h-5zM224 283h5v5h-5zM9 288h5v5h-5zM19 288h5v5h-5zM24 288h5v5h-5zM54 288h5v5h-5zM134 288h5v5h-5zM174 288h5v5h-5zM224 288h5v5h-5zM19 293h5v5h-5zM24 293h5v5h-5zM44 293h5v5h-5zM49 293h5v5h-5zM54 293h5v5h-5zM59 293h5v5h-5zM164 293h5v5h-5zM-1 298h5v5h-5zM19 298h5v5h-5zM29 298h5v5h-5zM79 298h5v5h-5zM89 298h5v5h-5zM14 303h5v5h-5zM214 303h5v5h-5zM224 303h5v5h-5zM14 308h5v5h-5zM179 308h5v5h-5zM189 308h5v5h-5zM229 308h5v5h-5zM24 313h5v5h-5zM34 313h5v5h-5zM69 313h5v5h-5zM74 313h5v5h-5zM144 313h5v5h-5zM179 313h5v5h-5zM184 313h5v5h-5zM214 313h5v5h-5zM219 313h5v5h-5zM44 318h5v5h-5zM49 318h5v5h-5zM59 318h5v5h-5zM64 318h5v5h-5zM119 318h5v5h-5zM154 318h5v5h-5zM54 323h5v5h-5zM129 323h5v5h-5zM214 323h5v5h-5zM4 328h5v5h-5zM54 328h5v5h-5zM124 328h5v5h-5zM129 328h5v5h-5zM139 328h5v5h-5zM154 328h5v5h-5zM179 328h5v5h-5zM214 328h5v5h-5zM59 333h5v5h-5zM64 333h5v5h-5zM109 333h5v5h-5zM4 338h5v5h-5zM44 338h5v5h-5zM84 338h5v5h-5zM119 338h5v5h-5zM204 338h5v5h-5zM34 343h5v5h-5zM109 343h5v5h-5zM169 343h5v5h-5zM189 343h5v5h-5zM209 343h5v5h-5zM214 343h5v5h-5zM54 348h5v5h-5zM99 348h5v5h-5zM169 348h5v5h-5zM214 348h5v5h-5zM54 353h5v5h-5zM79 353h5v5h-5zM89 353h5v5h-5zM104 353h5v5h-5zM109 353h5v5h-5zM114 353h5v5h-5zM219 353h5v5h-5zM4 358h5v5h-5zM49 358h5v5h-5zM204 358h5v5h-5zM44 363h5v5h-5zM59 363h5v5h-5zM79 363h5v5h-5zM109 363h5v5h-5zM119 363h5v5h-5zM159 363h5v5h-5zM39 368h5v5h-5zM44 368h5v5h-5zM69 368h5v5h-5zM89 368h5v5h-5zM109 368h5v5h-5zM179 368h5v5h-5zM229 368h5v5h-5zM79 373h5v5h-5zM84 373h5v5h-5zM104 373h5v5h-5zM164 373h5v5h-5zM204 373h5v5h-5zM39 378h5v5h-5zM169 378h5v5h-5zM204 378h5v5h-5zM69 383h5v5h-5zM104 383h5v5h-5zM144 383h5v5h-5zM189 383h5v5h-5zM214 388h5v5h-5zM219 388h5v5h-5zM19 393h5v5h-5zM34 393h5v5h-5zM74 393h5v5h-5zM129 393h5v5h-5zM134 393h5v5h-5zM179 393h5v5h-5zM189 393h5v5h-5zM-1 398h5v5h-5zM4 398h5v5h-5zM24 398h5v5h-5zM64 398h5v5h-5zM139 398h5v5h-5zM144 398h5v5h-5zM179 398h5v5h-5zM184 398h5v5h-5zM189 398h5v5h-5zM209 398h5v5h-5zM9 403h5v5h-5zM34 403h5v5h-5zM64 403h5v5h-5zM79 403h5v5h-5zM84 403h5v5h-5zM114 403h5v5h-5zM124 403h5v5h-5zM174 403h5v5h-5zM14 408h5v5h-5zM34 408h5v5h-5zM49 408h5v5h-5zM89 408h5v5h-5zM169 408h5v5h-5zM39 413h5v5h-5zM44 413h5v5h-5zM59 413h5v5h-5zM69 413h5v5h-5zM79 413h5v5h-5zM139 413h5v5h-5zM189 413h5v5h-5zM219 413h5v5h-5zM224 413h5v5h-5zM-1 418h5v5h-5zM9 418h5v5h-5zM59 418h5v5h-5zM69 418h5v5h-5zM79 418h5v5h-5zM84 418h5v5h-5zM99 418h5v5h-5zM159 418h5v5h-5zM179 418h5v5h-5zM184 418h5v5h-5zM209 418h5v5h-5zM229 418h5v5h-5zM14 423h5v5h-5zM94 423h5v5h-5zM139 423h5v5h-5zM154 423h5v5h-5zM174 423h5v5h-5zM189 423h5v5h-5zM14 428h5v5h-5zM139 428h5v5h-5zM174 428h5v5h-5zM189 428h5v5h-5zM29 433h5v5h-5zM64 433h5v5h-5zM154 433h5v5h-5zM169 433h5v5h-5zM179 433h5v5h-5zM194 433h5v5h-5zM224 433h5v5h-5zM4 438h5v5h-5zM44 438h5v5h-5zM99 438h5v5h-5zM109 438h5v5h-5zM159 438h5v5h-5zM179 438h5v5h-5zM184 438h5v5h-5zM199 438h5v5h-5zM9 443h5v5h-5zM64 443h5v5h-5zM74 443h5v5h-5zM99 443h5v5h-5zM104 443h5v5h-5zM119 443h5v5h-5zM159 443h5v5h-5zM219 443h5v5h-5zM64 448h5v5h-5zM69 448h5v5h-5zM124 448h5v5h-5zM69 453h5v5h-5zM124 453h5v5h-5zM169 453h5v5h-5zM209 453h5v5h-5z"/><path fill="rgb(100,100,100)" d="M29 223h5v5h-5zM109 223h5v5h-5zM144 223h5v5h-5zM174 223h5v5h-5zM14 228h5v5h-5zM24 228h5v5h-5zM99 228h5v5h-5zM109 228h5v5h-5zM139 228h5v5h-5zM144 228h5v5h-5zM214 228h5v5h-5zM29 233h5v5h-5zM34 233h5v5h-5zM74 233h5v5h-5zM89 233h5v5h-5zM104 233h5v5h-5zM129 233h5v5h-5zM-1 238h5v5h-5zM24 238h5v5h-5zM119 238h5v5h-5zM159 238h5v5h-5zM4 243h5v5h-5zM19 243h5v5h-5zM29 243h5v5h-5zM44 243h5v5h-5zM89 243h5v5h-5zM99 243h5v5h-5zM109 243h5v5h-5zM19 248h5v5h-5zM49 248h5v5h-5zM119 248h5v5h-5zM124 248h5v5h-5zM184 248h5v5h-5zM44 253h5v5h-5zM99 253h5v5h-5zM119 253h5v5h-5zM174 253h5v5h-5zM9 258h5v5h-5zM44 258h5v5h-5zM119 258h5v5h-5zM129 258h5v5h-5zM164 258h5v5h-5zM199 258h5v5h-5zM64 263h5v5h-5zM74 263h5v5h-5zM114 263h5v5h-5zM134 263h5v5h-5zM154 263h5v5h-5zM214 263h5v5h-5zM139 268h5v5h-5zM134 273h5v5h-5zM154 273h5v5h-5zM214 273h5v5h-5zM124 278h5v5h-5zM164 278h5v5h-5zM199 278h5v5h-5zM204 278h5v5h-5zM129 283h5v5h-5zM164 283h5v5h-5zM199 283h5v5h-5zM209 283h5v5h-5zM214 283h5v5h-5zM59 288h5v5h-5zM154 288h5v5h-5zM184 288h5v5h-5zM214 288h5v5h-5zM4 293h5v5h-5zM119 293h5v5h-5zM159 293h5v5h-5zM184 293h5v5h-5zM4 298h5v5h-5zM34 298h5v5h-5zM49 298h5v5h-5zM84 298h5v5h-5zM119 298h5v5h-5zM129 298h5v5h-5zM54 303h5v5h-5zM64 303h5v5h-5zM139 303h5v5h-5zM169 303h5v5h-5zM114 308h5v5h-5zM139 308h5v5h-5zM184 308h5v5h-5zM224 308h5v5h-5zM54 313h5v5h-5zM89 313h5v5h-5zM149 313h5v5h-5zM124 318h5v5h-5zM159 318h5v5h-5zM199 318h5v5h-5zM204 318h5v5h-5zM-1 323h5v5h-5zM4 323h5v5h-5zM99 323h5v5h-5zM124 323h5v5h-5zM154 323h5v5h-5zM219 323h5v5h-5zM-1 328h5v5h-5zM109 328h5v5h-5zM159 328h5v5h-5zM184 328h5v5h-5zM99 333h5v5h-5zM124 338h5v5h-5zM194 338h5v5h-5zM49 343h5v5h-5zM89 343h5v5h-5zM104 343h5v5h-5zM224 343h5v5h-5zM109 348h5v5h-5zM129 348h5v5h-5zM189 348h5v5h-5zM209 348h5v5h-5zM119 353h5v5h-5zM154 353h5v5h-5zM224 353h5v5h-5zM-1 358h5v5h-5zM44 358h5v5h-5zM194 358h5v5h-5zM64 363h5v5h-5zM89 363h5v5h-5zM94 363h5v5h-5zM164 363h5v5h-5zM179 363h5v5h-5zM184 363h5v5h-5zM189 363h5v5h-5zM204 363h5v5h-5zM219 363h5v5h-5zM224 363h5v5h-5zM59 368h5v5h-5zM124 368h5v5h-5zM159 368h5v5h-5zM184 368h5v5h-5zM219 368h5v5h-5zM224 368h5v5h-5zM119 373h5v5h-5zM124 373h5v5h-5zM114 378h5v5h-5zM199 378h5v5h-5zM34 383h5v5h-5zM54 383h5v5h-5zM134 383h5v5h-5zM179 383h5v5h-5zM209 383h5v5h-5zM104 388h5v5h-5zM189 388h5v5h-5zM9 393h5v5h-5zM24 393h5v5h-5zM69 393h5v5h-5zM114 393h5v5h-5zM169 393h5v5h-5zM184 393h5v5h-5zM39 398h5v5h-5zM49 398h5v5h-5zM159 398h5v5h-5zM164 398h5v5h-5zM29 403h5v5h-5zM49 403h5v5h-5zM139 403h5v5h-5zM144 403h5v5h-5zM164 403h5v5h-5zM189 403h5v5h-5zM9 408h5v5h-5zM29 408h5v5h-5zM59 408h5v5h-5zM69 408h5v5h-5zM144 408h5v5h-5zM164 408h5v5h-5zM174 408h5v5h-5zM209 408h5v5h-5zM4 413h5v5h-5zM84 413h5v5h-5zM124 413h5v5h-5zM209 413h5v5h-5zM39 418h5v5h-5zM64 418h5v5h-5zM124 418h5v5h-5zM164 418h5v5h-5zM194 418h5v5h-5zM219 418h5v5h-5zM224 418h5v5h-5zM19 423h5v5h-5zM29 423h5v5h-5zM59 423h5v5h-5zM89 423h5v5h-5zM129 423h5v5h-5zM179 423h5v5h-5zM184 423h5v5h-5zM209 423h5v5h-5zM59 428h5v5h-5zM94 428h5v5h-5zM154 428h5v5h-5zM184 428h5v5h-5zM9 433h5v5h-5zM24 433h5v5h-5zM34 433h5v5h-5zM49 433h5v5h-5zM89 433h5v5h-5zM129 433h5v5h-5zM219 433h5v5h-5zM229 433h5v5h-5zM-1 438h5v5h-5zM39 438h5v5h-5zM104 438h5v5h-5zM119 438h5v5h-5zM124 438h5v5h-5zM-1 443h5v5h-5zM39 443h5v5h-5zM44 443h5v5h-5zM124 443h5v5h-5zM204 443h5v5h-5zM224 443h5v5h-5zM9 448h5v5h-5zM44 448h5v5h-5zM74 448h5v5h-5zM144 448h5v5h-5zM174 448h5v5h-5zM39 453h5v5h-5zM44 453h5v5h-5zM159 453h5v5h-5zM219 453h5v5h-5z"/><path fill="rgb(111,111,111)" d="M104 223h5v5h-5zM114 223h5v5h-5zM29 228h5v5h-5zM209 228h5v5h-5zM114 233h5v5h-5zM169 233h5v5h-5zM219 233h5v5h-5zM224 233h5v5h-5zM79 238h5v5h-5zM79 243h5v5h-5zM9 248h5v5h-5zM24 248h5v5h-5zM79 248h5v5h-5zM109 248h5v5h-5zM179 248h5v5h-5zM9 253h5v5h-5zM179 253h5v5h-5zM79 258h5v5h-5zM204 258h5v5h-5zM14 268h5v5h-5zM74 268h5v5h-5zM114 268h5v5h-5zM134 268h5v5h-5zM219 268h5v5h-5zM89 273h5v5h-5zM169 273h5v5h-5zM194 273h5v5h-5zM4 278h5v5h-5zM44 278h5v5h-5zM159 278h5v5h-5zM124 283h5v5h-5zM219 283h5v5h-5zM-1 288h5v5h-5zM4 288h5v5h-5zM119 288h5v5h-5zM219 288h5v5h-5zM-1 293h5v5h-5zM179 293h5v5h-5zM209 293h5v5h-5zM24 298h5v5h-5zM159 298h5v5h-5zM164 298h5v5h-5zM59 303h5v5h-5zM74 303h5v5h-5zM129 303h5v5h-5zM144 303h5v5h-5zM149 303h5v5h-5zM209 303h5v5h-5zM219 303h5v5h-5zM54 308h5v5h-5zM69 308h5v5h-5zM129 308h5v5h-5zM169 308h5v5h-5zM214 308h5v5h-5zM9 313h5v5h-5zM59 313h5v5h-5zM4 318h5v5h-5zM64 323h5v5h-5zM104 323h5v5h-5zM159 323h5v5h-5zM219 328h5v5h-5zM104 333h5v5h-5zM114 343h5v5h-5zM129 343h5v5h-5zM154 343h5v5h-5zM219 343h5v5h-5zM34 348h5v5h-5zM104 348h5v5h-5zM114 348h5v5h-5zM229 348h5v5h-5zM84 353h5v5h-5zM229 353h5v5h-5zM199 358h5v5h-5zM84 363h5v5h-5zM99 363h5v5h-5zM104 363h5v5h-5zM64 368h5v5h-5zM79 368h5v5h-5zM99 368h5v5h-5zM119 368h5v5h-5zM164 368h5v5h-5zM189 368h5v5h-5zM204 368h5v5h-5zM194 373h5v5h-5zM44 378h5v5h-5zM159 378h5v5h-5zM14 383h5v5h-5zM29 383h5v5h-5zM59 383h5v5h-5zM109 383h5v5h-5zM129 383h5v5h-5zM154 383h5v5h-5zM184 383h5v5h-5zM14 388h5v5h-5zM29 388h5v5h-5zM134 388h5v5h-5zM179 388h5v5h-5zM54 393h5v5h-5zM144 393h5v5h-5zM154 393h5v5h-5zM-1 403h5v5h-5zM19 403h5v5h-5zM119 403h5v5h-5zM194 403h5v5h-5zM79 408h5v5h-5zM114 408h5v5h-5zM124 408h5v5h-5zM139 408h5v5h-5zM189 408h5v5h-5zM64 413h5v5h-5zM179 413h5v5h-5zM184 413h5v5h-5zM194 413h5v5h-5zM4 418h5v5h-5zM44 418h5v5h-5zM119 418h5v5h-5zM24 423h5v5h-5zM109 423h5v5h-5zM114 423h5v5h-5zM214 423h5v5h-5zM229 423h5v5h-5zM19 428h5v5h-5zM179 428h5v5h-5zM209 428h5v5h-5zM214 428h5v5h-5zM74 433h5v5h-5zM204 433h5v5h-5zM84 438h5v5h-5zM4 443h5v5h-5zM84 443h5v5h-5zM189 443h5v5h-5zM194 443h5v5h-5zM39 448h5v5h-5zM84 448h5v5h-5zM139 448h5v5h-5zM159 448h5v5h-5zM164 448h5v5h-5zM189 448h5v5h-5zM-1 453h5v5h-5zM4 453h5v5h-5zM9 453h5v5h-5zM79 453h5v5h-5zM139 453h5v5h-5zM189 453h5v5h-5z"/><path fill="rgb(122,122,122)" d="M34 223h5v5h-5zM154 223h5v5h-5zM219 223h5v5h-5zM74 228h5v5h-5zM104 228h5v5h-5zM84 238h5v5h-5zM104 243h5v5h-5zM44 248h5v5h-5zM124 253h5v5h-5zM84 258h5v5h-5zM169 263h5v5h-5zM194 263h5v5h-5zM154 268h5v5h-5zM214 268h5v5h-5zM129 273h5v5h-5zM204 283h5v5h-5zM129 288h5v5h-5zM164 288h5v5h-5zM179 288h5v5h-5zM129 293h5v5h-5zM199 293h5v5h-5zM39 298h5v5h-5zM124 298h5v5h-5zM199 298h5v5h-5zM204 298h5v5h-5zM19 303h5v5h-5zM19 308h5v5h-5zM144 308h5v5h-5zM219 308h5v5h-5zM49 313h5v5h-5zM64 313h5v5h-5zM209 313h5v5h-5zM59 323h5v5h-5zM64 328h5v5h-5zM99 328h5v5h-5zM199 338h5v5h-5zM89 348h5v5h-5zM219 348h5v5h-5zM224 348h5v5h-5zM9 353h5v5h-5zM84 368h5v5h-5zM104 368h5v5h-5zM199 373h5v5h-5zM79 378h5v5h-5zM124 378h5v5h-5zM164 378h5v5h-5zM19 383h5v5h-5zM24 383h5v5h-5zM64 383h5v5h-5zM74 383h5v5h-5zM139 383h5v5h-5zM194 383h5v5h-5zM19 388h5v5h-5zM34 388h5v5h-5zM69 388h5v5h-5zM109 388h5v5h-5zM129 388h5v5h-5zM144 388h5v5h-5zM184 388h5v5h-5zM59 393h5v5h-5zM124 393h5v5h-5zM139 393h5v5h-5zM44 398h5v5h-5zM194 398h5v5h-5zM39 403h5v5h-5zM44 403h5v5h-5zM179 403h5v5h-5zM184 403h5v5h-5zM19 408h5v5h-5zM39 408h5v5h-5zM44 408h5v5h-5zM64 408h5v5h-5zM84 408h5v5h-5zM-1 413h5v5h-5zM119 413h5v5h-5zM34 423h5v5h-5zM69 423h5v5h-5zM74 423h5v5h-5zM99 423h5v5h-5zM169 423h5v5h-5zM194 423h5v5h-5zM29 428h5v5h-5zM129 428h5v5h-5zM194 428h5v5h-5zM99 433h5v5h-5zM109 433h5v5h-5zM114 433h5v5h-5zM199 433h5v5h-5zM79 438h5v5h-5zM79 443h5v5h-5zM199 443h5v5h-5zM-1 448h5v5h-5zM4 448h5v5h-5zM204 448h5v5h-5zM219 448h5v5h-5zM84 453h5v5h-5zM144 453h5v5h-5zM164 453h5v5h-5zM194 453h5v5h-5z"/><path fill="rgb(133,133,133)" d="M194 223h5v5h-5zM49 228h5v5h-5zM89 228h5v5h-5zM169 228h5v5h-5zM9 233h5v5h-5zM39 233h5v5h-5zM44 233h5v5h-5zM194 233h5v5h-5zM229 233h5v5h-5zM24 243h5v5h-5zM84 243h5v5h-5zM84 248h5v5h-5zM99 248h5v5h-5zM104 253h5v5h-5zM4 258h5v5h-5zM124 258h5v5h-5zM49 263h5v5h-5zM39 273h5v5h-5zM79 273h5v5h-5zM209 273h5v5h-5zM159 283h5v5h-5zM199 288h5v5h-5zM209 288h5v5h-5zM124 293h5v5h-5zM44 298h5v5h-5zM9 303h5v5h-5zM29 303h5v5h-5zM34 303h5v5h-5zM89 303h5v5h-5zM29 308h5v5h-5zM34 308h5v5h-5zM59 308h5v5h-5zM74 308h5v5h-5zM149 308h5v5h-5zM39 313h5v5h-5zM154 313h5v5h-5zM164 313h5v5h-5zM194 313h5v5h-5zM-1 318h5v5h-5zM59 328h5v5h-5zM-1 343h5v5h-5zM9 343h5v5h-5zM79 343h5v5h-5zM39 353h5v5h-5zM49 353h5v5h-5zM164 353h5v5h-5zM194 353h5v5h-5zM204 353h5v5h-5zM194 363h5v5h-5zM84 378h5v5h-5zM-1 383h5v5h-5zM9 383h5v5h-5zM89 383h5v5h-5zM169 383h5v5h-5zM24 388h5v5h-5zM54 388h5v5h-5zM89 388h5v5h-5zM4 393h5v5h-5zM64 393h5v5h-5zM79 393h5v5h-5zM84 393h5v5h-5zM119 393h5v5h-5zM4 403h5v5h-5zM24 403h5v5h-5zM204 403h5v5h-5zM24 408h5v5h-5zM184 408h5v5h-5zM194 408h5v5h-5zM204 418h5v5h-5zM9 423h5v5h-5zM49 423h5v5h-5zM64 423h5v5h-5zM224 423h5v5h-5zM34 428h5v5h-5zM49 428h5v5h-5zM69 428h5v5h-5zM89 428h5v5h-5zM169 428h5v5h-5zM229 428h5v5h-5zM39 433h5v5h-5zM179 443h5v5h-5zM184 443h5v5h-5zM79 448h5v5h-5zM224 448h5v5h-5zM229 448h5v5h-5zM179 453h5v5h-5zM224 453h5v5h-5zM229 453h5v5h-5z"/><path fill="rgb(144,144,144)" d="M14 223h5v5h-5zM209 223h5v5h-5zM229 223h5v5h-5zM34 228h5v5h-5zM114 228h5v5h-5zM129 228h5v5h-5zM219 228h5v5h-5zM229 228h5v5h-5zM154 233h5v5h-5zM-1 248h5v5h-5zM-1 258h5v5h-5zM9 263h5v5h-5zM39 263h5v5h-5zM89 263h5v5h-5zM209 263h5v5h-5zM169 268h5v5h-5zM49 273h5v5h-5zM84 273h5v5h-5zM-1 278h5v5h-5zM124 288h5v5h-5zM159 288h5v5h-5zM204 293h5v5h-5zM194 303h5v5h-5zM64 308h5v5h-5zM79 313h5v5h-5zM119 313h5v5h-5zM124 313h5v5h-5zM104 328h5v5h-5zM79 348h5v5h-5zM154 348h5v5h-5zM199 363h5v5h-5zM119 378h5v5h-5zM74 388h5v5h-5zM169 388h5v5h-5zM199 403h5v5h-5zM4 408h5v5h-5zM119 408h5v5h-5zM179 408h5v5h-5zM199 418h5v5h-5zM-1 423h5v5h-5zM104 423h5v5h-5zM219 423h5v5h-5zM9 428h5v5h-5zM24 428h5v5h-5zM64 428h5v5h-5zM74 428h5v5h-5zM114 428h5v5h-5zM224 428h5v5h-5zM4 433h5v5h-5zM44 433h5v5h-5zM104 433h5v5h-5zM184 448h5v5h-5zM194 448h5v5h-5z"/><path fill="rgb(155,155,155)" d="M89 223h5v5h-5zM224 228h5v5h-5zM4 233h5v5h-5zM-1 263h5v5h-5zM129 263h5v5h-5zM194 268h5v5h-5zM9 273h5v5h-5zM119 273h5v5h-5zM-1 303h5v5h-5zM24 303h5v5h-5zM49 303h5v5h-5zM154 303h5v5h-5zM9 308h5v5h-5zM24 308h5v5h-5zM89 308h5v5h-5zM209 308h5v5h-5zM44 313h5v5h-5zM84 313h5v5h-5zM39 343h5v5h-5zM44 343h5v5h-5zM119 343h5v5h-5zM49 348h5v5h-5zM4 353h5v5h-5zM159 353h5v5h-5zM194 368h5v5h-5zM49 383h5v5h-5zM114 383h5v5h-5zM9 388h5v5h-5zM59 388h5v5h-5zM114 388h5v5h-5zM139 388h5v5h-5zM154 388h5v5h-5zM39 393h5v5h-5zM209 393h5v5h-5zM-1 408h5v5h-5zM99 428h5v5h-5zM109 428h5v5h-5zM219 428h5v5h-5zM119 433h5v5h-5zM124 433h5v5h-5zM159 433h5v5h-5zM164 433h5v5h-5zM179 448h5v5h-5zM184 453h5v5h-5zM204 453h5v5h-5z"/><path fill="rgb(166,166,166)" d="M224 223h5v5h-5zM84 233h5v5h-5zM204 233h5v5h-5zM4 248h5v5h-5zM104 248h5v5h-5zM4 253h5v5h-5zM89 268h5v5h-5zM119 303h5v5h-5zM159 313h5v5h-5zM84 343h5v5h-5zM124 343h5v5h-5zM164 343h5v5h-5zM9 348h5v5h-5zM119 348h5v5h-5zM124 348h5v5h-5zM44 353h5v5h-5zM199 353h5v5h-5zM199 368h5v5h-5zM4 383h5v5h-5zM39 383h5v5h-5zM64 388h5v5h-5zM-1 393h5v5h-5zM49 393h5v5h-5zM204 398h5v5h-5zM199 413h5v5h-5zM204 413h5v5h-5zM79 423h5v5h-5zM84 423h5v5h-5zM119 423h5v5h-5zM124 423h5v5h-5zM159 423h5v5h-5zM204 423h5v5h-5zM204 428h5v5h-5zM199 448h5v5h-5zM199 453h5v5h-5z"/><path fill="rgb(177,177,177)" d="M169 223h5v5h-5zM154 228h5v5h-5zM194 228h5v5h-5zM79 233h5v5h-5zM164 233h5v5h-5zM-1 253h5v5h-5zM44 263h5v5h-5zM79 263h5v5h-5zM119 263h5v5h-5zM39 268h5v5h-5zM49 268h5v5h-5zM129 268h5v5h-5zM124 273h5v5h-5zM204 288h5v5h-5zM124 303h5v5h-5zM49 308h5v5h-5zM4 313h5v5h-5zM4 343h5v5h-5zM159 343h5v5h-5zM204 343h5v5h-5zM-1 353h5v5h-5zM209 388h5v5h-5zM164 393h5v5h-5zM194 393h5v5h-5zM199 398h5v5h-5zM204 408h5v5h-5zM164 423h5v5h-5zM199 423h5v5h-5zM199 428h5v5h-5zM84 433h5v5h-5z"/><path fill="rgb(188,188,188)" d="M49 223h5v5h-5zM79 223h5v5h-5zM129 223h5v5h-5zM-1 233h5v5h-5zM119 233h5v5h-5zM124 233h5v5h-5zM159 263h5v5h-5zM209 268h5v5h-5zM44 273h5v5h-5zM159 273h5v5h-5zM164 273h5v5h-5zM199 273h5v5h-5zM204 273h5v5h-5zM154 308h5v5h-5zM194 308h5v5h-5zM194 343h5v5h-5zM84 348h5v5h-5zM124 383h5v5h-5zM194 388h5v5h-5zM199 408h5v5h-5zM4 423h5v5h-5zM39 423h5v5h-5zM104 428h5v5h-5zM-1 433h5v5h-5zM79 433h5v5h-5z"/><path fill="rgb(200,200,200)" d="M39 223h5v5h-5zM9 228h5v5h-5zM199 233h5v5h-5zM4 263h5v5h-5zM164 263h5v5h-5zM9 268h5v5h-5zM79 268h5v5h-5zM4 303h5v5h-5zM39 303h5v5h-5zM79 303h5v5h-5zM164 303h5v5h-5zM39 308h5v5h-5zM119 308h5v5h-5zM124 308h5v5h-5zM39 348h5v5h-5zM164 348h5v5h-5zM194 348h5v5h-5zM204 348h5v5h-5zM199 383h5v5h-5zM204 383h5v5h-5zM4 388h5v5h-5zM124 388h5v5h-5zM159 393h5v5h-5zM44 423h5v5h-5zM119 428h5v5h-5zM124 428h5v5h-5z"/><path fill="rgb(211,211,211)" d="M119 223h5v5h-5zM159 233h5v5h-5zM119 268h5v5h-5zM4 273h5v5h-5zM84 303h5v5h-5zM204 303h5v5h-5zM204 313h5v5h-5zM-1 348h5v5h-5zM44 383h5v5h-5zM79 383h5v5h-5zM119 383h5v5h-5zM-1 388h5v5h-5zM39 388h5v5h-5zM44 393h5v5h-5zM39 428h5v5h-5zM159 428h5v5h-5z"/><path fill="rgb(222,222,222)" d="M39 228h5v5h-5zM79 228h5v5h-5zM84 228h5v5h-5zM204 228h5v5h-5zM84 263h5v5h-5zM124 263h5v5h-5zM199 263h5v5h-5zM44 303h5v5h-5zM159 303h5v5h-5zM199 303h5v5h-5zM164 308h5v5h-5zM199 313h5v5h-5zM4 348h5v5h-5zM44 348h5v5h-5zM159 348h5v5h-5zM159 383h5v5h-5zM49 388h5v5h-5zM119 388h5v5h-5zM4 428h5v5h-5zM44 428h5v5h-5zM164 428h5v5h-5z"/><path fill="rgb(233,233,233)" d="M84 223h5v5h-5zM44 228h5v5h-5zM164 228h5v5h-5zM204 263h5v5h-5zM79 308h5v5h-5zM-1 313h5v5h-5zM84 383h5v5h-5zM164 383h5v5h-5zM79 388h5v5h-5zM-1 428h5v5h-5zM79 428h5v5h-5zM84 428h5v5h-5z"/><path fill="rgb(244,244,244)" d="M199 223h5v5h-5zM4 228h5v5h-5zM119 228h5v5h-5zM124 228h5v5h-5zM44 268h5v5h-5zM84 268h5v5h-5zM159 268h5v5h-5zM4 308h5v5h-5zM44 308h5v5h-5zM84 308h5v5h-5zM159 308h5v5h-5zM199 343h5v5h-5zM84 388h5v5h-5zM164 388h5v5h-5z"/><path fill="rgb(255,255,255)" d="M-1 223h5v5h-5zM4 223h5v5h-5zM9 223h5v5h-5zM44 223h5v5h-5zM124 223h5v5h-5zM159 223h5v5h-5zM164 223h5v5h-5zM204 223h5v5h-5zM-1 228h5v5h-5zM159 228h5v5h-5zM199 228h5v5h-5zM-1 268h5v5h-5zM4 268h5v5h-5zM124 268h5v5h-5zM164 268h5v5h-5zM199 268h5v5h-5zM204 268h5v5h-5zM-1 273h5v5h-5zM-1 308h5v5h-5zM199 308h5v5h-5zM204 308h5v5h-5zM199 348h5v5h-5zM44 388h5v5h-5zM159 388h5v5h-5zM199 388h5v5h-5zM204 388h5v5h-5zM199 393h5v5h-5zM204 393h5v5h-5z"/></g><rect x="4" y="228" width="224" height="224" fill="url(#grid)"/></g><g clip-path="url(#c11)"><g filter="url(#fTi)"><rect x="222" y="218" width="244" height="244" fill="#000"/><path fill="rgb(11,11,11)" d="M337 223h5v5h-5zM362 228h5v5h-5zM367 233h5v5h-5zM402 233h5v5h-5zM237 243h5v5h-5zM397 243h5v5h-5zM402 243h5v5h-5zM422 243h5v5h-5zM232 248h5v5h-5zM237 248h5v5h-5zM307 248h5v5h-5zM422 248h5v5h-5zM237 253h5v5h-5zM302 253h5v5h-5zM307 253h5v5h-5zM292 258h5v5h-5zM432 258h5v5h-5zM452 258h5v5h-5zM297 263h5v5h-5zM322 263h5v5h-5zM452 263h5v5h-5zM442 268h5v5h-5zM452 268h5v5h-5zM317 273h5v5h-5zM327 273h5v5h-5zM442 273h5v5h-5zM237 278h5v5h-5zM242 278h5v5h-5zM282 278h5v5h-5zM292 278h5v5h-5zM307 278h5v5h-5zM312 278h5v5h-5zM322 278h5v5h-5zM372 278h5v5h-5zM417 278h5v5h-5zM297 283h5v5h-5zM312 283h5v5h-5zM367 283h5v5h-5zM372 283h5v5h-5zM397 283h5v5h-5zM252 288h5v5h-5zM307 288h5v5h-5zM252 293h5v5h-5zM302 293h5v5h-5zM307 293h5v5h-5zM397 293h5v5h-5zM237 298h5v5h-5zM247 298h5v5h-5zM297 298h5v5h-5zM302 298h5v5h-5zM362 303h5v5h-5zM447 303h5v5h-5zM452 303h5v5h-5zM457 303h5v5h-5zM362 308h5v5h-5zM447 308h5v5h-5zM417 313h5v5h-5zM287 318h5v5h-5zM337 318h5v5h-5zM457 318h5v5h-5zM307 323h5v5h-5zM337 323h5v5h-5zM367 323h5v5h-5zM412 323h5v5h-5zM417 323h5v5h-5zM287 328h5v5h-5zM292 328h5v5h-5zM322 328h5v5h-5zM302 333h5v5h-5zM307 333h5v5h-5zM327 333h5v5h-5zM252 338h5v5h-5zM327 338h5v5h-5zM252 343h5v5h-5zM327 343h5v5h-5zM252 348h5v5h-5zM292 348h5v5h-5zM297 348h5v5h-5zM247 353h5v5h-5zM277 358h5v5h-5zM297 358h5v5h-5zM297 363h5v5h-5zM317 363h5v5h-5zM327 363h5v5h-5zM402 363h5v5h-5zM237 368h5v5h-5zM252 373h5v5h-5zM327 373h5v5h-5zM432 373h5v5h-5zM237 378h5v5h-5zM257 378h5v5h-5zM312 378h5v5h-5zM332 378h5v5h-5zM322 383h5v5h-5zM332 383h5v5h-5zM367 383h5v5h-5zM377 383h5v5h-5zM332 388h5v5h-5zM337 388h5v5h-5zM377 388h5v5h-5zM372 393h5v5h-5zM377 393h5v5h-5zM282 398h5v5h-5zM322 398h5v5h-5zM347 398h5v5h-5zM377 398h5v5h-5zM322 403h5v5h-5zM347 403h5v5h-5zM382 403h5v5h-5zM322 408h5v5h-5zM302 413h5v5h-5zM307 413h5v5h-5zM322 413h5v5h-5zM387 413h5v5h-5zM422 413h5v5h-5zM302 418h5v5h-5zM247 448h5v5h-5zM252 448h5v5h-5zM437 448h5v5h-5zM257 453h5v5h-5zM322 453h5v5h-5zM437 453h5v5h-5zM442 453h5v5h-5z"/><path fill="rgb(22,22,22)" d="M327 223h5v5h-5zM332 223h5v5h-5zM362 223h5v5h-5zM327 228h5v5h-5zM332 228h5v5h-5zM372 228h5v5h-5zM332 233h5v5h-5zM397 233h5v5h-5zM237 238h5v5h-5zM242 238h5v5h-5zM292 238h5v5h-5zM372 238h5v5h-5zM407 238h5v5h-5zM412 238h5v5h-5zM417 238h5v5h-5zM242 243h5v5h-5zM407 243h5v5h-5zM412 243h5v5h-5zM417 243h5v5h-5zM437 243h5v5h-5zM452 243h5v5h-5zM227 248h5v5h-5zM302 248h5v5h-5zM292 253h5v5h-5zM297 253h5v5h-5zM422 253h5v5h-5zM302 258h5v5h-5zM327 258h5v5h-5zM332 258h5v5h-5zM377 258h5v5h-5zM407 258h5v5h-5zM427 258h5v5h-5zM457 263h5v5h-5zM457 268h5v5h-5zM297 273h5v5h-5zM332 273h5v5h-5zM452 273h5v5h-5zM457 273h5v5h-5zM287 278h5v5h-5zM367 278h5v5h-5zM377 278h5v5h-5zM232 283h5v5h-5zM252 283h5v5h-5zM282 283h5v5h-5zM287 283h5v5h-5zM317 283h5v5h-5zM362 283h5v5h-5zM377 283h5v5h-5zM402 283h5v5h-5zM412 283h5v5h-5zM422 283h5v5h-5zM432 283h5v5h-5zM257 288h5v5h-5zM402 288h5v5h-5zM412 288h5v5h-5zM417 288h5v5h-5zM257 293h5v5h-5zM312 293h5v5h-5zM317 293h5v5h-5zM262 298h5v5h-5zM307 298h5v5h-5zM312 298h5v5h-5zM317 298h5v5h-5zM322 298h5v5h-5zM342 298h5v5h-5zM362 298h5v5h-5zM367 298h5v5h-5zM452 298h5v5h-5zM457 298h5v5h-5zM367 303h5v5h-5zM362 313h5v5h-5zM412 313h5v5h-5zM447 313h5v5h-5zM257 318h5v5h-5zM282 318h5v5h-5zM302 318h5v5h-5zM407 318h5v5h-5zM422 318h5v5h-5zM282 323h5v5h-5zM322 323h5v5h-5zM342 323h5v5h-5zM377 323h5v5h-5zM397 323h5v5h-5zM402 323h5v5h-5zM407 323h5v5h-5zM282 328h5v5h-5zM312 328h5v5h-5zM317 328h5v5h-5zM337 328h5v5h-5zM367 328h5v5h-5zM377 328h5v5h-5zM282 333h5v5h-5zM287 333h5v5h-5zM292 333h5v5h-5zM297 333h5v5h-5zM332 333h5v5h-5zM432 333h5v5h-5zM247 338h5v5h-5zM282 338h5v5h-5zM287 338h5v5h-5zM332 338h5v5h-5zM397 338h5v5h-5zM402 338h5v5h-5zM242 343h5v5h-5zM287 343h5v5h-5zM292 343h5v5h-5zM402 343h5v5h-5zM242 348h5v5h-5zM242 353h5v5h-5zM252 353h5v5h-5zM292 353h5v5h-5zM242 358h5v5h-5zM282 358h5v5h-5zM397 358h5v5h-5zM437 358h5v5h-5zM242 363h5v5h-5zM302 363h5v5h-5zM332 363h5v5h-5zM407 363h5v5h-5zM442 363h5v5h-5zM247 368h5v5h-5zM307 368h5v5h-5zM312 368h5v5h-5zM327 368h5v5h-5zM397 368h5v5h-5zM402 368h5v5h-5zM432 368h5v5h-5zM442 368h5v5h-5zM292 373h5v5h-5zM332 373h5v5h-5zM442 373h5v5h-5zM372 378h5v5h-5zM252 383h5v5h-5zM317 383h5v5h-5zM327 383h5v5h-5zM367 388h5v5h-5zM282 393h5v5h-5zM322 393h5v5h-5zM372 398h5v5h-5zM382 398h5v5h-5zM397 398h5v5h-5zM237 403h5v5h-5zM352 403h5v5h-5zM377 403h5v5h-5zM387 403h5v5h-5zM392 403h5v5h-5zM432 403h5v5h-5zM237 408h5v5h-5zM302 408h5v5h-5zM307 408h5v5h-5zM342 408h5v5h-5zM377 408h5v5h-5zM387 408h5v5h-5zM432 408h5v5h-5zM377 413h5v5h-5zM392 413h5v5h-5zM307 418h5v5h-5zM327 418h5v5h-5zM337 418h5v5h-5zM282 438h5v5h-5zM247 443h5v5h-5zM252 443h5v5h-5zM257 443h5v5h-5zM262 443h5v5h-5zM437 443h5v5h-5zM257 448h5v5h-5zM262 448h5v5h-5zM267 448h5v5h-5zM442 448h5v5h-5zM247 453h5v5h-5zM262 453h5v5h-5zM267 453h5v5h-5zM447 453h5v5h-5z"/><path fill="rgb(33,33,33)" d="M322 223h5v5h-5zM402 223h5v5h-5zM457 223h5v5h-5zM322 228h5v5h-5zM337 228h5v5h-5zM397 228h5v5h-5zM402 228h5v5h-5zM457 228h5v5h-5zM292 233h5v5h-5zM327 233h5v5h-5zM337 233h5v5h-5zM362 233h5v5h-5zM372 233h5v5h-5zM297 238h5v5h-5zM332 238h5v5h-5zM367 238h5v5h-5zM232 243h5v5h-5zM287 243h5v5h-5zM292 243h5v5h-5zM297 243h5v5h-5zM372 243h5v5h-5zM377 243h5v5h-5zM392 243h5v5h-5zM447 243h5v5h-5zM457 243h5v5h-5zM297 248h5v5h-5zM377 248h5v5h-5zM287 253h5v5h-5zM377 253h5v5h-5zM237 258h5v5h-5zM242 258h5v5h-5zM257 258h5v5h-5zM262 258h5v5h-5zM287 258h5v5h-5zM307 258h5v5h-5zM322 258h5v5h-5zM337 258h5v5h-5zM372 258h5v5h-5zM382 258h5v5h-5zM387 258h5v5h-5zM402 258h5v5h-5zM292 263h5v5h-5zM337 263h5v5h-5zM372 263h5v5h-5zM297 268h5v5h-5zM317 268h5v5h-5zM302 273h5v5h-5zM247 278h5v5h-5zM262 278h5v5h-5zM277 278h5v5h-5zM437 278h5v5h-5zM442 278h5v5h-5zM457 278h5v5h-5zM227 283h5v5h-5zM257 283h5v5h-5zM262 283h5v5h-5zM277 283h5v5h-5zM292 283h5v5h-5zM407 283h5v5h-5zM427 283h5v5h-5zM437 283h5v5h-5zM232 288h5v5h-5zM297 288h5v5h-5zM312 288h5v5h-5zM362 288h5v5h-5zM372 288h5v5h-5zM407 288h5v5h-5zM232 293h5v5h-5zM262 293h5v5h-5zM297 293h5v5h-5zM322 293h5v5h-5zM402 293h5v5h-5zM252 298h5v5h-5zM257 298h5v5h-5zM267 298h5v5h-5zM292 298h5v5h-5zM242 303h5v5h-5zM297 303h5v5h-5zM367 308h5v5h-5zM297 313h5v5h-5zM337 313h5v5h-5zM262 318h5v5h-5zM332 318h5v5h-5zM342 318h5v5h-5zM367 318h5v5h-5zM372 318h5v5h-5zM377 318h5v5h-5zM402 318h5v5h-5zM452 318h5v5h-5zM257 323h5v5h-5zM262 323h5v5h-5zM312 323h5v5h-5zM317 323h5v5h-5zM397 328h5v5h-5zM432 328h5v5h-5zM437 328h5v5h-5zM257 333h5v5h-5zM322 333h5v5h-5zM372 333h5v5h-5zM397 333h5v5h-5zM437 333h5v5h-5zM242 338h5v5h-5zM257 338h5v5h-5zM292 338h5v5h-5zM322 338h5v5h-5zM392 338h5v5h-5zM407 338h5v5h-5zM432 338h5v5h-5zM437 338h5v5h-5zM282 343h5v5h-5zM322 343h5v5h-5zM397 343h5v5h-5zM407 343h5v5h-5zM412 343h5v5h-5zM287 348h5v5h-5zM282 353h5v5h-5zM247 358h5v5h-5zM292 358h5v5h-5zM302 358h5v5h-5zM327 358h5v5h-5zM332 358h5v5h-5zM377 358h5v5h-5zM402 358h5v5h-5zM442 358h5v5h-5zM237 363h5v5h-5zM277 363h5v5h-5zM292 363h5v5h-5zM392 363h5v5h-5zM412 363h5v5h-5zM432 363h5v5h-5zM292 368h5v5h-5zM332 368h5v5h-5zM407 368h5v5h-5zM257 373h5v5h-5zM337 373h5v5h-5zM402 373h5v5h-5zM407 373h5v5h-5zM297 378h5v5h-5zM302 378h5v5h-5zM307 378h5v5h-5zM367 378h5v5h-5zM402 378h5v5h-5zM407 378h5v5h-5zM247 383h5v5h-5zM257 383h5v5h-5zM407 383h5v5h-5zM412 383h5v5h-5zM322 388h5v5h-5zM327 388h5v5h-5zM277 393h5v5h-5zM342 393h5v5h-5zM277 398h5v5h-5zM287 398h5v5h-5zM292 398h5v5h-5zM352 398h5v5h-5zM387 398h5v5h-5zM392 398h5v5h-5zM422 398h5v5h-5zM232 403h5v5h-5zM242 403h5v5h-5zM302 403h5v5h-5zM307 403h5v5h-5zM357 403h5v5h-5zM372 403h5v5h-5zM397 403h5v5h-5zM417 403h5v5h-5zM352 408h5v5h-5zM357 408h5v5h-5zM417 408h5v5h-5zM312 413h5v5h-5zM317 413h5v5h-5zM397 413h5v5h-5zM427 413h5v5h-5zM297 418h5v5h-5zM312 418h5v5h-5zM317 418h5v5h-5zM382 418h5v5h-5zM392 418h5v5h-5zM397 418h5v5h-5zM332 423h5v5h-5zM242 433h5v5h-5zM242 438h5v5h-5zM247 438h5v5h-5zM252 438h5v5h-5zM442 438h5v5h-5zM267 443h5v5h-5zM272 443h5v5h-5zM277 443h5v5h-5zM337 443h5v5h-5zM442 443h5v5h-5zM272 448h5v5h-5zM337 448h5v5h-5zM432 448h5v5h-5zM447 448h5v5h-5zM272 453h5v5h-5zM452 453h5v5h-5z"/><path fill="rgb(44,44,44)" d="M247 223h5v5h-5zM257 223h5v5h-5zM287 223h5v5h-5zM292 223h5v5h-5zM377 223h5v5h-5zM452 223h5v5h-5zM292 228h5v5h-5zM452 228h5v5h-5zM242 233h5v5h-5zM322 233h5v5h-5zM407 233h5v5h-5zM412 233h5v5h-5zM417 233h5v5h-5zM287 238h5v5h-5zM327 238h5v5h-5zM377 238h5v5h-5zM422 238h5v5h-5zM452 238h5v5h-5zM227 243h5v5h-5zM302 243h5v5h-5zM382 243h5v5h-5zM442 243h5v5h-5zM242 248h5v5h-5zM287 248h5v5h-5zM292 248h5v5h-5zM312 248h5v5h-5zM382 248h5v5h-5zM397 248h5v5h-5zM402 248h5v5h-5zM407 248h5v5h-5zM412 248h5v5h-5zM417 248h5v5h-5zM242 253h5v5h-5zM262 253h5v5h-5zM312 253h5v5h-5zM337 253h5v5h-5zM382 253h5v5h-5zM407 253h5v5h-5zM412 253h5v5h-5zM232 258h5v5h-5zM247 258h5v5h-5zM252 258h5v5h-5zM367 258h5v5h-5zM412 258h5v5h-5zM422 258h5v5h-5zM257 263h5v5h-5zM302 263h5v5h-5zM317 263h5v5h-5zM367 263h5v5h-5zM377 263h5v5h-5zM402 263h5v5h-5zM407 263h5v5h-5zM437 263h5v5h-5zM337 268h5v5h-5zM282 273h5v5h-5zM292 273h5v5h-5zM337 273h5v5h-5zM372 273h5v5h-5zM337 278h5v5h-5zM362 278h5v5h-5zM397 278h5v5h-5zM402 278h5v5h-5zM412 278h5v5h-5zM422 278h5v5h-5zM447 278h5v5h-5zM452 278h5v5h-5zM267 283h5v5h-5zM357 283h5v5h-5zM392 283h5v5h-5zM227 288h5v5h-5zM262 288h5v5h-5zM317 288h5v5h-5zM367 288h5v5h-5zM392 288h5v5h-5zM422 288h5v5h-5zM267 293h5v5h-5zM362 293h5v5h-5zM367 293h5v5h-5zM412 293h5v5h-5zM417 293h5v5h-5zM227 298h5v5h-5zM232 298h5v5h-5zM337 298h5v5h-5zM372 298h5v5h-5zM417 298h5v5h-5zM432 298h5v5h-5zM437 298h5v5h-5zM447 298h5v5h-5zM247 303h5v5h-5zM257 303h5v5h-5zM302 303h5v5h-5zM337 303h5v5h-5zM357 303h5v5h-5zM372 303h5v5h-5zM442 303h5v5h-5zM417 308h5v5h-5zM257 313h5v5h-5zM362 318h5v5h-5zM382 318h5v5h-5zM362 323h5v5h-5zM422 323h5v5h-5zM432 323h5v5h-5zM437 323h5v5h-5zM257 328h5v5h-5zM262 328h5v5h-5zM362 328h5v5h-5zM392 328h5v5h-5zM402 328h5v5h-5zM242 333h5v5h-5zM252 333h5v5h-5zM312 333h5v5h-5zM317 333h5v5h-5zM337 333h5v5h-5zM367 333h5v5h-5zM377 333h5v5h-5zM392 333h5v5h-5zM402 333h5v5h-5zM237 338h5v5h-5zM297 338h5v5h-5zM302 338h5v5h-5zM387 338h5v5h-5zM412 338h5v5h-5zM417 338h5v5h-5zM257 343h5v5h-5zM297 343h5v5h-5zM332 343h5v5h-5zM282 348h5v5h-5zM327 348h5v5h-5zM277 353h5v5h-5zM287 353h5v5h-5zM237 358h5v5h-5zM272 358h5v5h-5zM287 358h5v5h-5zM317 358h5v5h-5zM322 358h5v5h-5zM337 358h5v5h-5zM357 358h5v5h-5zM362 358h5v5h-5zM372 358h5v5h-5zM407 358h5v5h-5zM412 358h5v5h-5zM452 358h5v5h-5zM457 358h5v5h-5zM247 363h5v5h-5zM282 363h5v5h-5zM287 363h5v5h-5zM307 363h5v5h-5zM312 363h5v5h-5zM337 363h5v5h-5zM357 363h5v5h-5zM362 363h5v5h-5zM417 363h5v5h-5zM457 363h5v5h-5zM412 368h5v5h-5zM397 373h5v5h-5zM412 373h5v5h-5zM342 378h5v5h-5zM377 378h5v5h-5zM412 378h5v5h-5zM427 378h5v5h-5zM442 378h5v5h-5zM457 378h5v5h-5zM242 383h5v5h-5zM402 383h5v5h-5zM417 383h5v5h-5zM432 383h5v5h-5zM437 383h5v5h-5zM367 393h5v5h-5zM297 398h5v5h-5zM357 398h5v5h-5zM367 398h5v5h-5zM402 398h5v5h-5zM417 398h5v5h-5zM227 403h5v5h-5zM282 403h5v5h-5zM227 408h5v5h-5zM232 408h5v5h-5zM242 408h5v5h-5zM312 408h5v5h-5zM317 408h5v5h-5zM347 408h5v5h-5zM392 408h5v5h-5zM237 413h5v5h-5zM297 413h5v5h-5zM342 413h5v5h-5zM352 413h5v5h-5zM357 413h5v5h-5zM417 413h5v5h-5zM432 413h5v5h-5zM237 418h5v5h-5zM322 418h5v5h-5zM377 418h5v5h-5zM387 418h5v5h-5zM417 418h5v5h-5zM422 418h5v5h-5zM297 423h5v5h-5zM442 423h5v5h-5zM242 428h5v5h-5zM442 428h5v5h-5zM237 433h5v5h-5zM247 433h5v5h-5zM282 433h5v5h-5zM442 433h5v5h-5zM232 438h5v5h-5zM237 438h5v5h-5zM257 438h5v5h-5zM277 438h5v5h-5zM322 438h5v5h-5zM327 438h5v5h-5zM332 438h5v5h-5zM397 438h5v5h-5zM402 438h5v5h-5zM437 438h5v5h-5zM242 443h5v5h-5zM282 443h5v5h-5zM317 443h5v5h-5zM397 443h5v5h-5zM402 443h5v5h-5zM447 443h5v5h-5zM277 448h5v5h-5zM362 448h5v5h-5zM452 448h5v5h-5zM277 453h5v5h-5zM297 453h5v5h-5zM362 453h5v5h-5zM367 453h5v5h-5zM422 453h5v5h-5zM457 453h5v5h-5z"/><path fill="rgb(55,55,55)" d="M252 223h5v5h-5zM262 223h5v5h-5zM297 223h5v5h-5zM342 223h5v5h-5zM397 223h5v5h-5zM417 223h5v5h-5zM242 228h5v5h-5zM257 228h5v5h-5zM287 228h5v5h-5zM412 228h5v5h-5zM417 228h5v5h-5zM452 233h5v5h-5zM457 233h5v5h-5zM232 238h5v5h-5zM247 238h5v5h-5zM322 238h5v5h-5zM337 238h5v5h-5zM362 238h5v5h-5zM392 238h5v5h-5zM427 238h5v5h-5zM432 238h5v5h-5zM447 238h5v5h-5zM457 238h5v5h-5zM282 243h5v5h-5zM307 243h5v5h-5zM312 243h5v5h-5zM387 243h5v5h-5zM282 248h5v5h-5zM372 248h5v5h-5zM392 248h5v5h-5zM257 253h5v5h-5zM282 253h5v5h-5zM342 253h5v5h-5zM372 253h5v5h-5zM387 253h5v5h-5zM402 253h5v5h-5zM417 253h5v5h-5zM282 258h5v5h-5zM312 258h5v5h-5zM317 258h5v5h-5zM342 258h5v5h-5zM392 258h5v5h-5zM397 258h5v5h-5zM417 258h5v5h-5zM242 263h5v5h-5zM247 263h5v5h-5zM262 263h5v5h-5zM392 263h5v5h-5zM397 263h5v5h-5zM292 268h5v5h-5zM372 268h5v5h-5zM287 273h5v5h-5zM312 273h5v5h-5zM367 273h5v5h-5zM232 278h5v5h-5zM257 278h5v5h-5zM267 278h5v5h-5zM327 278h5v5h-5zM332 278h5v5h-5zM382 278h5v5h-5zM272 283h5v5h-5zM322 283h5v5h-5zM382 283h5v5h-5zM457 283h5v5h-5zM282 288h5v5h-5zM377 288h5v5h-5zM432 288h5v5h-5zM227 293h5v5h-5zM342 293h5v5h-5zM372 293h5v5h-5zM392 293h5v5h-5zM407 293h5v5h-5zM452 293h5v5h-5zM457 293h5v5h-5zM272 298h5v5h-5zM277 298h5v5h-5zM282 298h5v5h-5zM287 298h5v5h-5zM327 298h5v5h-5zM357 298h5v5h-5zM377 298h5v5h-5zM392 298h5v5h-5zM397 298h5v5h-5zM422 298h5v5h-5zM442 298h5v5h-5zM252 303h5v5h-5zM342 303h5v5h-5zM377 303h5v5h-5zM417 303h5v5h-5zM297 308h5v5h-5zM357 308h5v5h-5zM442 308h5v5h-5zM292 313h5v5h-5zM357 313h5v5h-5zM367 313h5v5h-5zM377 313h5v5h-5zM252 318h5v5h-5zM277 318h5v5h-5zM327 318h5v5h-5zM357 318h5v5h-5zM397 318h5v5h-5zM442 318h5v5h-5zM447 318h5v5h-5zM267 323h5v5h-5zM277 323h5v5h-5zM382 323h5v5h-5zM392 323h5v5h-5zM427 323h5v5h-5zM277 328h5v5h-5zM342 328h5v5h-5zM412 328h5v5h-5zM417 328h5v5h-5zM237 333h5v5h-5zM247 333h5v5h-5zM277 333h5v5h-5zM362 333h5v5h-5zM232 338h5v5h-5zM307 338h5v5h-5zM317 338h5v5h-5zM357 338h5v5h-5zM362 338h5v5h-5zM372 338h5v5h-5zM377 338h5v5h-5zM227 343h5v5h-5zM237 343h5v5h-5zM392 343h5v5h-5zM417 343h5v5h-5zM437 343h5v5h-5zM322 348h5v5h-5zM302 353h5v5h-5zM437 353h5v5h-5zM252 358h5v5h-5zM262 358h5v5h-5zM382 358h5v5h-5zM392 358h5v5h-5zM272 363h5v5h-5zM352 363h5v5h-5zM377 363h5v5h-5zM382 363h5v5h-5zM252 368h5v5h-5zM337 368h5v5h-5zM392 368h5v5h-5zM417 368h5v5h-5zM232 373h5v5h-5zM282 373h5v5h-5zM287 373h5v5h-5zM342 373h5v5h-5zM367 373h5v5h-5zM372 373h5v5h-5zM447 373h5v5h-5zM452 373h5v5h-5zM277 378h5v5h-5zM282 378h5v5h-5zM292 378h5v5h-5zM397 378h5v5h-5zM417 378h5v5h-5zM342 383h5v5h-5zM362 383h5v5h-5zM282 388h5v5h-5zM402 388h5v5h-5zM412 388h5v5h-5zM287 393h5v5h-5zM382 393h5v5h-5zM237 398h5v5h-5zM242 398h5v5h-5zM257 398h5v5h-5zM302 398h5v5h-5zM317 398h5v5h-5zM362 398h5v5h-5zM277 403h5v5h-5zM297 403h5v5h-5zM312 403h5v5h-5zM317 403h5v5h-5zM362 403h5v5h-5zM367 403h5v5h-5zM297 408h5v5h-5zM397 408h5v5h-5zM227 413h5v5h-5zM232 413h5v5h-5zM277 418h5v5h-5zM282 418h5v5h-5zM292 418h5v5h-5zM437 418h5v5h-5zM442 418h5v5h-5zM242 423h5v5h-5zM302 423h5v5h-5zM327 423h5v5h-5zM417 423h5v5h-5zM437 423h5v5h-5zM447 423h5v5h-5zM447 428h5v5h-5zM252 433h5v5h-5zM447 433h5v5h-5zM227 438h5v5h-5zM287 438h5v5h-5zM317 438h5v5h-5zM362 438h5v5h-5zM367 438h5v5h-5zM372 438h5v5h-5zM447 438h5v5h-5zM452 438h5v5h-5zM227 443h5v5h-5zM362 443h5v5h-5zM367 443h5v5h-5zM392 443h5v5h-5zM432 443h5v5h-5zM452 443h5v5h-5zM457 443h5v5h-5zM242 448h5v5h-5zM297 448h5v5h-5zM367 448h5v5h-5zM417 448h5v5h-5zM457 448h5v5h-5zM282 453h5v5h-5zM302 453h5v5h-5zM372 453h5v5h-5zM432 453h5v5h-5z"/><path fill="rgb(67,67,67)" d="M242 223h5v5h-5zM407 223h5v5h-5zM447 223h5v5h-5zM247 228h5v5h-5zM252 228h5v5h-5zM407 228h5v5h-5zM447 228h5v5h-5zM237 233h5v5h-5zM247 233h5v5h-5zM287 233h5v5h-5zM297 233h5v5h-5zM357 233h5v5h-5zM447 233h5v5h-5zM317 238h5v5h-5zM357 238h5v5h-5zM437 238h5v5h-5zM247 243h5v5h-5zM317 243h5v5h-5zM332 243h5v5h-5zM367 243h5v5h-5zM262 248h5v5h-5zM337 248h5v5h-5zM387 248h5v5h-5zM332 253h5v5h-5zM392 253h5v5h-5zM397 253h5v5h-5zM267 258h5v5h-5zM277 258h5v5h-5zM362 258h5v5h-5zM252 263h5v5h-5zM362 263h5v5h-5zM382 263h5v5h-5zM387 263h5v5h-5zM412 263h5v5h-5zM302 268h5v5h-5zM367 268h5v5h-5zM402 268h5v5h-5zM242 273h5v5h-5zM307 273h5v5h-5zM377 273h5v5h-5zM417 273h5v5h-5zM437 273h5v5h-5zM252 278h5v5h-5zM272 278h5v5h-5zM342 278h5v5h-5zM407 278h5v5h-5zM337 283h5v5h-5zM342 283h5v5h-5zM387 283h5v5h-5zM267 288h5v5h-5zM287 288h5v5h-5zM322 288h5v5h-5zM357 288h5v5h-5zM427 288h5v5h-5zM272 293h5v5h-5zM282 293h5v5h-5zM292 293h5v5h-5zM337 293h5v5h-5zM377 293h5v5h-5zM422 293h5v5h-5zM432 293h5v5h-5zM437 293h5v5h-5zM332 298h5v5h-5zM347 298h5v5h-5zM412 298h5v5h-5zM427 298h5v5h-5zM237 303h5v5h-5zM277 303h5v5h-5zM292 303h5v5h-5zM317 303h5v5h-5zM382 303h5v5h-5zM392 303h5v5h-5zM242 308h5v5h-5zM247 308h5v5h-5zM252 308h5v5h-5zM257 308h5v5h-5zM337 308h5v5h-5zM372 308h5v5h-5zM377 308h5v5h-5zM412 308h5v5h-5zM242 313h5v5h-5zM247 313h5v5h-5zM252 313h5v5h-5zM282 313h5v5h-5zM342 313h5v5h-5zM372 313h5v5h-5zM382 313h5v5h-5zM407 313h5v5h-5zM442 313h5v5h-5zM242 318h5v5h-5zM307 318h5v5h-5zM272 323h5v5h-5zM347 323h5v5h-5zM357 323h5v5h-5zM457 323h5v5h-5zM242 328h5v5h-5zM382 328h5v5h-5zM407 328h5v5h-5zM262 333h5v5h-5zM357 333h5v5h-5zM382 333h5v5h-5zM387 333h5v5h-5zM407 333h5v5h-5zM412 333h5v5h-5zM417 333h5v5h-5zM312 338h5v5h-5zM337 338h5v5h-5zM367 338h5v5h-5zM382 338h5v5h-5zM422 338h5v5h-5zM427 338h5v5h-5zM362 343h5v5h-5zM432 343h5v5h-5zM257 348h5v5h-5zM332 348h5v5h-5zM402 348h5v5h-5zM407 348h5v5h-5zM412 348h5v5h-5zM437 348h5v5h-5zM257 353h5v5h-5zM322 353h5v5h-5zM327 353h5v5h-5zM332 353h5v5h-5zM377 353h5v5h-5zM402 353h5v5h-5zM257 358h5v5h-5zM267 358h5v5h-5zM312 358h5v5h-5zM367 358h5v5h-5zM417 358h5v5h-5zM447 358h5v5h-5zM232 363h5v5h-5zM262 363h5v5h-5zM267 363h5v5h-5zM342 363h5v5h-5zM367 363h5v5h-5zM372 363h5v5h-5zM387 363h5v5h-5zM447 363h5v5h-5zM452 363h5v5h-5zM257 368h5v5h-5zM282 368h5v5h-5zM287 368h5v5h-5zM357 368h5v5h-5zM362 368h5v5h-5zM427 368h5v5h-5zM277 373h5v5h-5zM417 373h5v5h-5zM427 373h5v5h-5zM457 373h5v5h-5zM232 378h5v5h-5zM287 378h5v5h-5zM362 378h5v5h-5zM422 378h5v5h-5zM452 378h5v5h-5zM277 383h5v5h-5zM282 383h5v5h-5zM397 383h5v5h-5zM422 383h5v5h-5zM277 388h5v5h-5zM407 388h5v5h-5zM417 388h5v5h-5zM292 393h5v5h-5zM397 393h5v5h-5zM402 393h5v5h-5zM417 393h5v5h-5zM232 398h5v5h-5zM252 398h5v5h-5zM272 398h5v5h-5zM247 403h5v5h-5zM257 403h5v5h-5zM287 403h5v5h-5zM292 403h5v5h-5zM402 403h5v5h-5zM437 403h5v5h-5zM277 408h5v5h-5zM282 408h5v5h-5zM372 408h5v5h-5zM437 408h5v5h-5zM242 413h5v5h-5zM277 413h5v5h-5zM282 413h5v5h-5zM347 413h5v5h-5zM437 413h5v5h-5zM242 418h5v5h-5zM257 418h5v5h-5zM287 418h5v5h-5zM357 418h5v5h-5zM402 418h5v5h-5zM427 418h5v5h-5zM432 418h5v5h-5zM237 423h5v5h-5zM247 423h5v5h-5zM252 423h5v5h-5zM292 423h5v5h-5zM317 423h5v5h-5zM322 423h5v5h-5zM337 423h5v5h-5zM422 423h5v5h-5zM452 423h5v5h-5zM457 423h5v5h-5zM237 428h5v5h-5zM247 428h5v5h-5zM252 428h5v5h-5zM297 428h5v5h-5zM437 428h5v5h-5zM287 433h5v5h-5zM372 433h5v5h-5zM437 433h5v5h-5zM452 433h5v5h-5zM262 438h5v5h-5zM302 438h5v5h-5zM307 438h5v5h-5zM312 438h5v5h-5zM337 438h5v5h-5zM357 438h5v5h-5zM377 438h5v5h-5zM392 438h5v5h-5zM457 438h5v5h-5zM237 443h5v5h-5zM302 443h5v5h-5zM357 443h5v5h-5zM372 443h5v5h-5zM417 443h5v5h-5zM282 448h5v5h-5zM292 448h5v5h-5zM317 448h5v5h-5zM357 448h5v5h-5zM372 448h5v5h-5zM397 448h5v5h-5zM422 448h5v5h-5zM292 453h5v5h-5zM342 453h5v5h-5zM357 453h5v5h-5zM417 453h5v5h-5z"/><path fill="rgb(78,78,78)" d="M282 223h5v5h-5zM412 223h5v5h-5zM422 223h5v5h-5zM357 228h5v5h-5zM252 233h5v5h-5zM257 233h5v5h-5zM317 233h5v5h-5zM377 233h5v5h-5zM252 238h5v5h-5zM257 238h5v5h-5zM282 238h5v5h-5zM382 238h5v5h-5zM442 238h5v5h-5zM322 243h5v5h-5zM327 243h5v5h-5zM337 243h5v5h-5zM357 243h5v5h-5zM362 243h5v5h-5zM257 248h5v5h-5zM342 248h5v5h-5zM317 253h5v5h-5zM322 253h5v5h-5zM327 253h5v5h-5zM347 253h5v5h-5zM367 253h5v5h-5zM347 258h5v5h-5zM282 263h5v5h-5zM287 263h5v5h-5zM362 268h5v5h-5zM377 268h5v5h-5zM397 268h5v5h-5zM407 268h5v5h-5zM437 268h5v5h-5zM237 273h5v5h-5zM262 273h5v5h-5zM362 273h5v5h-5zM397 273h5v5h-5zM402 273h5v5h-5zM412 273h5v5h-5zM357 278h5v5h-5zM392 278h5v5h-5zM432 278h5v5h-5zM277 288h5v5h-5zM292 288h5v5h-5zM342 288h5v5h-5zM437 288h5v5h-5zM457 288h5v5h-5zM277 293h5v5h-5zM287 293h5v5h-5zM327 293h5v5h-5zM357 293h5v5h-5zM427 293h5v5h-5zM382 298h5v5h-5zM387 298h5v5h-5zM402 298h5v5h-5zM262 303h5v5h-5zM282 303h5v5h-5zM322 303h5v5h-5zM387 303h5v5h-5zM412 303h5v5h-5zM422 303h5v5h-5zM437 303h5v5h-5zM382 308h5v5h-5zM262 313h5v5h-5zM277 313h5v5h-5zM287 313h5v5h-5zM302 313h5v5h-5zM332 313h5v5h-5zM422 313h5v5h-5zM247 318h5v5h-5zM267 318h5v5h-5zM272 318h5v5h-5zM312 318h5v5h-5zM317 318h5v5h-5zM322 318h5v5h-5zM347 318h5v5h-5zM387 318h5v5h-5zM392 318h5v5h-5zM437 318h5v5h-5zM242 323h5v5h-5zM252 323h5v5h-5zM352 323h5v5h-5zM387 323h5v5h-5zM252 328h5v5h-5zM267 328h5v5h-5zM272 328h5v5h-5zM357 328h5v5h-5zM387 328h5v5h-5zM427 328h5v5h-5zM427 333h5v5h-5zM227 338h5v5h-5zM277 338h5v5h-5zM457 338h5v5h-5zM232 343h5v5h-5zM302 343h5v5h-5zM317 343h5v5h-5zM367 343h5v5h-5zM372 343h5v5h-5zM387 343h5v5h-5zM397 348h5v5h-5zM237 353h5v5h-5zM362 353h5v5h-5zM372 353h5v5h-5zM397 353h5v5h-5zM407 353h5v5h-5zM412 353h5v5h-5zM442 353h5v5h-5zM452 353h5v5h-5zM457 353h5v5h-5zM232 358h5v5h-5zM307 358h5v5h-5zM352 358h5v5h-5zM387 358h5v5h-5zM227 363h5v5h-5zM252 363h5v5h-5zM257 363h5v5h-5zM347 363h5v5h-5zM422 363h5v5h-5zM427 363h5v5h-5zM232 368h5v5h-5zM277 368h5v5h-5zM342 368h5v5h-5zM367 368h5v5h-5zM377 368h5v5h-5zM382 368h5v5h-5zM447 368h5v5h-5zM452 368h5v5h-5zM457 368h5v5h-5zM362 373h5v5h-5zM377 373h5v5h-5zM392 373h5v5h-5zM227 378h5v5h-5zM262 378h5v5h-5zM447 378h5v5h-5zM237 383h5v5h-5zM262 383h5v5h-5zM312 383h5v5h-5zM427 383h5v5h-5zM252 388h5v5h-5zM257 388h5v5h-5zM317 388h5v5h-5zM342 388h5v5h-5zM362 388h5v5h-5zM382 388h5v5h-5zM397 388h5v5h-5zM297 393h5v5h-5zM317 393h5v5h-5zM362 393h5v5h-5zM412 393h5v5h-5zM247 398h5v5h-5zM262 398h5v5h-5zM307 398h5v5h-5zM412 398h5v5h-5zM427 398h5v5h-5zM252 403h5v5h-5zM362 408h5v5h-5zM372 413h5v5h-5zM402 413h5v5h-5zM252 418h5v5h-5zM262 418h5v5h-5zM272 418h5v5h-5zM342 418h5v5h-5zM412 418h5v5h-5zM447 418h5v5h-5zM452 418h5v5h-5zM457 418h5v5h-5zM257 423h5v5h-5zM282 423h5v5h-5zM287 423h5v5h-5zM312 423h5v5h-5zM377 423h5v5h-5zM282 428h5v5h-5zM292 428h5v5h-5zM332 428h5v5h-5zM452 428h5v5h-5zM457 428h5v5h-5zM302 433h5v5h-5zM362 433h5v5h-5zM367 433h5v5h-5zM377 433h5v5h-5zM457 433h5v5h-5zM272 438h5v5h-5zM342 438h5v5h-5zM352 438h5v5h-5zM382 438h5v5h-5zM387 438h5v5h-5zM407 438h5v5h-5zM232 443h5v5h-5zM287 443h5v5h-5zM297 443h5v5h-5zM342 443h5v5h-5zM407 443h5v5h-5zM422 443h5v5h-5zM287 448h5v5h-5zM302 448h5v5h-5zM427 448h5v5h-5zM242 453h5v5h-5zM287 453h5v5h-5zM377 453h5v5h-5zM397 453h5v5h-5zM427 453h5v5h-5z"/><path fill="rgb(89,89,89)" d="M282 228h5v5h-5zM297 228h5v5h-5zM317 228h5v5h-5zM377 228h5v5h-5zM442 228h5v5h-5zM422 233h5v5h-5zM437 233h5v5h-5zM442 233h5v5h-5zM227 238h5v5h-5zM342 238h5v5h-5zM352 238h5v5h-5zM252 243h5v5h-5zM257 243h5v5h-5zM262 243h5v5h-5zM277 243h5v5h-5zM342 243h5v5h-5zM347 243h5v5h-5zM352 243h5v5h-5zM317 248h5v5h-5zM332 248h5v5h-5zM347 248h5v5h-5zM367 248h5v5h-5zM247 253h5v5h-5zM277 253h5v5h-5zM362 253h5v5h-5zM272 258h5v5h-5zM357 258h5v5h-5zM237 263h5v5h-5zM277 263h5v5h-5zM342 263h5v5h-5zM417 263h5v5h-5zM242 268h5v5h-5zM257 268h5v5h-5zM262 268h5v5h-5zM282 268h5v5h-5zM287 268h5v5h-5zM412 268h5v5h-5zM257 273h5v5h-5zM277 273h5v5h-5zM342 273h5v5h-5zM407 273h5v5h-5zM387 278h5v5h-5zM347 283h5v5h-5zM352 283h5v5h-5zM452 283h5v5h-5zM272 288h5v5h-5zM337 288h5v5h-5zM332 293h5v5h-5zM352 298h5v5h-5zM407 298h5v5h-5zM227 303h5v5h-5zM307 303h5v5h-5zM312 303h5v5h-5zM332 303h5v5h-5zM397 303h5v5h-5zM277 308h5v5h-5zM302 308h5v5h-5zM387 308h5v5h-5zM352 318h5v5h-5zM427 318h5v5h-5zM442 323h5v5h-5zM237 328h5v5h-5zM247 328h5v5h-5zM347 328h5v5h-5zM422 328h5v5h-5zM342 333h5v5h-5zM352 333h5v5h-5zM422 333h5v5h-5zM442 338h5v5h-5zM337 343h5v5h-5zM357 343h5v5h-5zM377 343h5v5h-5zM457 343h5v5h-5zM237 348h5v5h-5zM302 348h5v5h-5zM362 348h5v5h-5zM337 353h5v5h-5zM357 353h5v5h-5zM342 358h5v5h-5zM432 358h5v5h-5zM262 368h5v5h-5zM347 368h5v5h-5zM352 368h5v5h-5zM372 368h5v5h-5zM387 368h5v5h-5zM422 368h5v5h-5zM262 373h5v5h-5zM422 373h5v5h-5zM297 383h5v5h-5zM382 383h5v5h-5zM242 388h5v5h-5zM247 388h5v5h-5zM242 393h5v5h-5zM257 393h5v5h-5zM272 393h5v5h-5zM347 393h5v5h-5zM407 393h5v5h-5zM227 398h5v5h-5zM267 398h5v5h-5zM312 398h5v5h-5zM407 398h5v5h-5zM262 403h5v5h-5zM272 403h5v5h-5zM457 403h5v5h-5zM272 413h5v5h-5zM287 413h5v5h-5zM292 413h5v5h-5zM362 413h5v5h-5zM227 418h5v5h-5zM232 418h5v5h-5zM247 418h5v5h-5zM352 418h5v5h-5zM362 418h5v5h-5zM372 418h5v5h-5zM407 418h5v5h-5zM277 423h5v5h-5zM307 423h5v5h-5zM412 423h5v5h-5zM287 428h5v5h-5zM302 428h5v5h-5zM377 428h5v5h-5zM417 428h5v5h-5zM232 433h5v5h-5zM257 433h5v5h-5zM277 433h5v5h-5zM292 433h5v5h-5zM297 433h5v5h-5zM307 433h5v5h-5zM312 433h5v5h-5zM317 433h5v5h-5zM332 433h5v5h-5zM267 438h5v5h-5zM297 438h5v5h-5zM347 438h5v5h-5zM432 438h5v5h-5zM307 443h5v5h-5zM352 443h5v5h-5zM377 443h5v5h-5zM387 443h5v5h-5zM412 443h5v5h-5zM427 443h5v5h-5zM342 448h5v5h-5zM392 448h5v5h-5zM402 448h5v5h-5zM402 453h5v5h-5z"/><path fill="rgb(100,100,100)" d="M357 223h5v5h-5zM442 223h5v5h-5zM237 228h5v5h-5zM262 228h5v5h-5zM342 228h5v5h-5zM422 228h5v5h-5zM387 238h5v5h-5zM247 248h5v5h-5zM277 248h5v5h-5zM322 248h5v5h-5zM352 248h5v5h-5zM357 248h5v5h-5zM362 248h5v5h-5zM252 253h5v5h-5zM267 253h5v5h-5zM352 253h5v5h-5zM357 253h5v5h-5zM352 258h5v5h-5zM267 263h5v5h-5zM307 263h5v5h-5zM312 263h5v5h-5zM357 263h5v5h-5zM392 268h5v5h-5zM247 273h5v5h-5zM227 278h5v5h-5zM347 278h5v5h-5zM427 278h5v5h-5zM327 283h5v5h-5zM332 283h5v5h-5zM442 283h5v5h-5zM382 288h5v5h-5zM387 288h5v5h-5zM452 288h5v5h-5zM347 293h5v5h-5zM442 293h5v5h-5zM447 293h5v5h-5zM287 303h5v5h-5zM327 303h5v5h-5zM347 303h5v5h-5zM352 303h5v5h-5zM282 308h5v5h-5zM292 308h5v5h-5zM342 308h5v5h-5zM392 308h5v5h-5zM387 313h5v5h-5zM402 313h5v5h-5zM237 318h5v5h-5zM432 318h5v5h-5zM237 323h5v5h-5zM247 323h5v5h-5zM452 323h5v5h-5zM352 328h5v5h-5zM232 333h5v5h-5zM267 333h5v5h-5zM272 333h5v5h-5zM262 338h5v5h-5zM452 338h5v5h-5zM277 343h5v5h-5zM382 343h5v5h-5zM422 343h5v5h-5zM442 343h5v5h-5zM277 348h5v5h-5zM372 348h5v5h-5zM377 348h5v5h-5zM457 348h5v5h-5zM317 353h5v5h-5zM367 353h5v5h-5zM382 353h5v5h-5zM227 358h5v5h-5zM227 368h5v5h-5zM272 368h5v5h-5zM227 373h5v5h-5zM347 373h5v5h-5zM357 373h5v5h-5zM382 373h5v5h-5zM387 373h5v5h-5zM272 378h5v5h-5zM382 378h5v5h-5zM392 378h5v5h-5zM287 383h5v5h-5zM292 383h5v5h-5zM457 383h5v5h-5zM287 388h5v5h-5zM247 393h5v5h-5zM252 393h5v5h-5zM262 393h5v5h-5zM357 393h5v5h-5zM392 393h5v5h-5zM432 398h5v5h-5zM437 398h5v5h-5zM452 398h5v5h-5zM457 398h5v5h-5zM412 403h5v5h-5zM247 408h5v5h-5zM272 408h5v5h-5zM287 408h5v5h-5zM292 408h5v5h-5zM367 408h5v5h-5zM402 408h5v5h-5zM262 413h5v5h-5zM412 413h5v5h-5zM442 413h5v5h-5zM452 413h5v5h-5zM267 418h5v5h-5zM372 423h5v5h-5zM382 423h5v5h-5zM397 423h5v5h-5zM427 423h5v5h-5zM432 423h5v5h-5zM317 428h5v5h-5zM327 428h5v5h-5zM337 428h5v5h-5zM372 428h5v5h-5zM337 433h5v5h-5zM357 433h5v5h-5zM397 433h5v5h-5zM292 438h5v5h-5zM412 438h5v5h-5zM417 438h5v5h-5zM292 443h5v5h-5zM312 443h5v5h-5zM347 443h5v5h-5zM382 443h5v5h-5zM227 448h5v5h-5zM237 448h5v5h-5zM352 448h5v5h-5zM377 448h5v5h-5zM347 453h5v5h-5zM352 453h5v5h-5z"/><path fill="rgb(111,111,111)" d="M382 223h5v5h-5zM392 228h5v5h-5zM437 228h5v5h-5zM282 233h5v5h-5zM342 233h5v5h-5zM392 233h5v5h-5zM262 238h5v5h-5zM302 238h5v5h-5zM312 238h5v5h-5zM347 238h5v5h-5zM267 243h5v5h-5zM252 248h5v5h-5zM267 248h5v5h-5zM327 248h5v5h-5zM247 268h5v5h-5zM277 268h5v5h-5zM307 268h5v5h-5zM312 268h5v5h-5zM342 268h5v5h-5zM417 268h5v5h-5zM252 273h5v5h-5zM382 273h5v5h-5zM392 273h5v5h-5zM352 278h5v5h-5zM327 288h5v5h-5zM347 288h5v5h-5zM352 288h5v5h-5zM352 293h5v5h-5zM382 293h5v5h-5zM387 293h5v5h-5zM232 303h5v5h-5zM267 303h5v5h-5zM272 303h5v5h-5zM427 303h5v5h-5zM432 303h5v5h-5zM237 308h5v5h-5zM262 308h5v5h-5zM332 308h5v5h-5zM422 308h5v5h-5zM237 313h5v5h-5zM392 313h5v5h-5zM397 313h5v5h-5zM442 328h5v5h-5zM457 328h5v5h-5zM347 333h5v5h-5zM442 333h5v5h-5zM457 333h5v5h-5zM352 338h5v5h-5zM427 343h5v5h-5zM452 343h5v5h-5zM227 348h5v5h-5zM317 348h5v5h-5zM337 348h5v5h-5zM357 348h5v5h-5zM367 348h5v5h-5zM392 348h5v5h-5zM417 348h5v5h-5zM442 348h5v5h-5zM392 353h5v5h-5zM417 353h5v5h-5zM447 353h5v5h-5zM347 358h5v5h-5zM267 368h5v5h-5zM272 373h5v5h-5zM352 373h5v5h-5zM347 378h5v5h-5zM357 378h5v5h-5zM272 383h5v5h-5zM302 383h5v5h-5zM442 383h5v5h-5zM262 388h5v5h-5zM272 388h5v5h-5zM292 388h5v5h-5zM297 388h5v5h-5zM437 388h5v5h-5zM237 393h5v5h-5zM352 393h5v5h-5zM387 393h5v5h-5zM422 393h5v5h-5zM267 403h5v5h-5zM452 403h5v5h-5zM257 408h5v5h-5zM457 408h5v5h-5zM247 413h5v5h-5zM257 413h5v5h-5zM267 413h5v5h-5zM367 413h5v5h-5zM407 413h5v5h-5zM457 413h5v5h-5zM347 418h5v5h-5zM367 418h5v5h-5zM362 423h5v5h-5zM402 423h5v5h-5zM257 428h5v5h-5zM277 428h5v5h-5zM312 428h5v5h-5zM322 428h5v5h-5zM362 428h5v5h-5zM367 428h5v5h-5zM422 428h5v5h-5zM322 433h5v5h-5zM327 433h5v5h-5zM382 433h5v5h-5zM402 433h5v5h-5zM417 433h5v5h-5zM422 438h5v5h-5zM347 448h5v5h-5zM412 448h5v5h-5z"/><path fill="rgb(122,122,122)" d="M317 223h5v5h-5zM232 233h5v5h-5zM262 233h5v5h-5zM432 233h5v5h-5zM277 238h5v5h-5zM272 253h5v5h-5zM227 263h5v5h-5zM272 263h5v5h-5zM422 263h5v5h-5zM432 263h5v5h-5zM237 268h5v5h-5zM252 268h5v5h-5zM382 268h5v5h-5zM357 273h5v5h-5zM447 283h5v5h-5zM332 288h5v5h-5zM287 308h5v5h-5zM397 308h5v5h-5zM447 323h5v5h-5zM452 333h5v5h-5zM342 338h5v5h-5zM447 338h5v5h-5zM382 348h5v5h-5zM432 348h5v5h-5zM452 348h5v5h-5zM232 353h5v5h-5zM262 353h5v5h-5zM272 353h5v5h-5zM422 358h5v5h-5zM267 378h5v5h-5zM387 378h5v5h-5zM227 383h5v5h-5zM267 383h5v5h-5zM307 383h5v5h-5zM357 383h5v5h-5zM392 383h5v5h-5zM422 388h5v5h-5zM267 393h5v5h-5zM302 393h5v5h-5zM442 398h5v5h-5zM407 403h5v5h-5zM442 403h5v5h-5zM252 408h5v5h-5zM262 408h5v5h-5zM267 408h5v5h-5zM412 408h5v5h-5zM447 413h5v5h-5zM357 423h5v5h-5zM367 423h5v5h-5zM407 423h5v5h-5zM307 428h5v5h-5zM432 428h5v5h-5zM432 433h5v5h-5zM427 438h5v5h-5zM232 448h5v5h-5zM237 453h5v5h-5zM307 453h5v5h-5zM317 453h5v5h-5zM392 453h5v5h-5z"/><path fill="rgb(133,133,133)" d="M237 223h5v5h-5zM267 223h5v5h-5zM302 223h5v5h-5zM392 223h5v5h-5zM427 223h5v5h-5zM437 223h5v5h-5zM352 233h5v5h-5zM427 233h5v5h-5zM272 243h5v5h-5zM347 263h5v5h-5zM357 268h5v5h-5zM387 268h5v5h-5zM267 273h5v5h-5zM422 273h5v5h-5zM402 303h5v5h-5zM407 303h5v5h-5zM407 308h5v5h-5zM317 313h5v5h-5zM327 313h5v5h-5zM352 313h5v5h-5zM437 313h5v5h-5zM232 318h5v5h-5zM227 323h5v5h-5zM452 328h5v5h-5zM307 343h5v5h-5zM312 343h5v5h-5zM232 348h5v5h-5zM387 348h5v5h-5zM387 353h5v5h-5zM267 373h5v5h-5zM352 378h5v5h-5zM237 388h5v5h-5zM357 388h5v5h-5zM437 393h5v5h-5zM447 398h5v5h-5zM442 408h5v5h-5zM452 408h5v5h-5zM252 413h5v5h-5zM232 423h5v5h-5zM392 423h5v5h-5zM357 428h5v5h-5zM412 428h5v5h-5zM227 433h5v5h-5zM392 433h5v5h-5zM412 433h5v5h-5zM422 433h5v5h-5zM407 448h5v5h-5zM227 453h5v5h-5zM232 453h5v5h-5zM407 453h5v5h-5zM412 453h5v5h-5z"/><path fill="rgb(144,144,144)" d="M267 238h5v5h-5zM307 238h5v5h-5zM272 248h5v5h-5zM352 263h5v5h-5zM232 273h5v5h-5zM272 273h5v5h-5zM387 273h5v5h-5zM442 288h5v5h-5zM317 308h5v5h-5zM322 308h5v5h-5zM327 308h5v5h-5zM352 308h5v5h-5zM437 308h5v5h-5zM272 313h5v5h-5zM307 313h5v5h-5zM322 313h5v5h-5zM347 313h5v5h-5zM227 318h5v5h-5zM232 323h5v5h-5zM347 338h5v5h-5zM262 343h5v5h-5zM447 343h5v5h-5zM227 353h5v5h-5zM307 353h5v5h-5zM312 353h5v5h-5zM342 353h5v5h-5zM432 353h5v5h-5zM427 358h5v5h-5zM232 383h5v5h-5zM347 383h5v5h-5zM387 383h5v5h-5zM452 383h5v5h-5zM267 388h5v5h-5zM312 388h5v5h-5zM392 388h5v5h-5zM432 388h5v5h-5zM232 393h5v5h-5zM312 393h5v5h-5zM447 403h5v5h-5zM407 408h5v5h-5zM227 423h5v5h-5zM262 423h5v5h-5zM272 423h5v5h-5zM342 423h5v5h-5zM232 428h5v5h-5zM382 428h5v5h-5zM397 428h5v5h-5zM427 428h5v5h-5zM342 433h5v5h-5zM352 433h5v5h-5zM387 433h5v5h-5zM407 433h5v5h-5zM307 448h5v5h-5zM312 448h5v5h-5zM387 448h5v5h-5zM382 453h5v5h-5z"/><path fill="rgb(155,155,155)" d="M347 223h5v5h-5zM387 223h5v5h-5zM432 223h5v5h-5zM352 228h5v5h-5zM427 228h5v5h-5zM432 228h5v5h-5zM382 233h5v5h-5zM232 263h5v5h-5zM427 263h5v5h-5zM267 268h5v5h-5zM347 273h5v5h-5zM402 308h5v5h-5zM267 313h5v5h-5zM312 313h5v5h-5zM232 328h5v5h-5zM227 333h5v5h-5zM447 333h5v5h-5zM272 338h5v5h-5zM447 348h5v5h-5zM447 383h5v5h-5zM302 388h5v5h-5zM347 388h5v5h-5zM387 388h5v5h-5zM442 393h5v5h-5zM452 393h5v5h-5zM447 408h5v5h-5zM387 423h5v5h-5zM402 428h5v5h-5zM347 433h5v5h-5zM382 448h5v5h-5z"/><path fill="rgb(166,166,166)" d="M277 223h5v5h-5zM232 228h5v5h-5zM277 228h5v5h-5zM382 228h5v5h-5zM347 233h5v5h-5zM272 238h5v5h-5zM447 288h5v5h-5zM227 308h5v5h-5zM232 308h5v5h-5zM272 308h5v5h-5zM307 308h5v5h-5zM347 308h5v5h-5zM232 313h5v5h-5zM267 338h5v5h-5zM262 348h5v5h-5zM267 353h5v5h-5zM352 353h5v5h-5zM427 388h5v5h-5zM442 388h5v5h-5zM307 393h5v5h-5zM457 393h5v5h-5zM407 428h5v5h-5zM262 433h5v5h-5zM272 433h5v5h-5zM427 433h5v5h-5zM387 453h5v5h-5z"/><path fill="rgb(177,177,177)" d="M227 223h5v5h-5zM232 223h5v5h-5zM352 223h5v5h-5zM227 228h5v5h-5zM387 228h5v5h-5zM227 233h5v5h-5zM277 233h5v5h-5zM387 233h5v5h-5zM272 268h5v5h-5zM352 273h5v5h-5zM312 308h5v5h-5zM427 313h5v5h-5zM227 328h5v5h-5zM447 328h5v5h-5zM342 343h5v5h-5zM352 343h5v5h-5zM307 348h5v5h-5zM352 383h5v5h-5zM457 388h5v5h-5zM227 393h5v5h-5zM427 393h5v5h-5zM432 393h5v5h-5zM352 423h5v5h-5zM312 453h5v5h-5z"/><path fill="rgb(188,188,188)" d="M347 228h5v5h-5zM302 233h5v5h-5zM312 233h5v5h-5zM347 268h5v5h-5zM422 268h5v5h-5zM432 273h5v5h-5zM227 313h5v5h-5zM312 348h5v5h-5zM422 348h5v5h-5zM232 388h5v5h-5zM307 388h5v5h-5zM352 388h5v5h-5zM447 393h5v5h-5zM267 423h5v5h-5zM227 428h5v5h-5zM342 428h5v5h-5zM392 428h5v5h-5z"/><path fill="rgb(200,200,200)" d="M267 228h5v5h-5zM302 228h5v5h-5zM267 233h5v5h-5zM352 268h5v5h-5zM267 308h5v5h-5zM427 308h5v5h-5zM432 313h5v5h-5zM342 348h5v5h-5zM347 353h5v5h-5zM422 353h5v5h-5zM227 388h5v5h-5zM452 388h5v5h-5zM347 423h5v5h-5z"/><path fill="rgb(211,211,211)" d="M272 223h5v5h-5zM312 228h5v5h-5zM232 268h5v5h-5zM432 308h5v5h-5zM427 348h5v5h-5zM262 428h5v5h-5zM272 428h5v5h-5zM352 428h5v5h-5zM387 428h5v5h-5zM267 433h5v5h-5z"/><path fill="rgb(222,222,222)" d="M432 268h5v5h-5zM227 273h5v5h-5zM427 273h5v5h-5zM272 343h5v5h-5zM272 348h5v5h-5zM352 348h5v5h-5zM447 388h5v5h-5z"/><path fill="rgb(233,233,233)" d="M312 223h5v5h-5zM272 228h5v5h-5zM347 343h5v5h-5zM427 353h5v5h-5z"/><path fill="rgb(244,244,244)" d="M307 223h5v5h-5zM272 233h5v5h-5zM307 233h5v5h-5zM227 268h5v5h-5zM267 343h5v5h-5zM347 428h5v5h-5z"/><path fill="rgb(255,255,255)" d="M307 228h5v5h-5zM427 268h5v5h-5zM267 348h5v5h-5zM347 348h5v5h-5zM267 428h5v5h-5z"/></g><rect x="232" y="228" width="224" height="224" fill="url(#grid)"/></g><g clip-path="url(#c12)"><g filter="url(#fTa)"><rect x="450" y="218" width="244" height="244" fill="#000"/><path fill="rgb(11,11,11)" d="M590 223h5v5h-5zM650 228h5v5h-5zM650 233h5v5h-5zM475 238h5v5h-5zM605 238h5v5h-5zM470 243h5v5h-5zM475 243h5v5h-5zM570 243h5v5h-5zM640 243h5v5h-5zM480 253h5v5h-5zM485 253h5v5h-5zM635 253h5v5h-5zM475 258h5v5h-5zM635 258h5v5h-5zM665 258h5v5h-5zM670 258h5v5h-5zM515 268h5v5h-5zM545 268h5v5h-5zM545 273h5v5h-5zM520 278h5v5h-5zM525 278h5v5h-5zM565 278h5v5h-5zM635 283h5v5h-5zM640 283h5v5h-5zM510 293h5v5h-5zM515 293h5v5h-5zM510 308h5v5h-5zM585 318h5v5h-5zM640 318h5v5h-5zM455 323h5v5h-5zM590 323h5v5h-5zM585 333h5v5h-5zM520 338h5v5h-5zM525 338h5v5h-5zM550 338h5v5h-5zM595 338h5v5h-5zM590 343h5v5h-5zM525 358h5v5h-5zM570 358h5v5h-5zM645 358h5v5h-5zM645 363h5v5h-5zM650 363h5v5h-5zM545 373h5v5h-5zM550 373h5v5h-5zM590 373h5v5h-5zM600 373h5v5h-5zM655 373h5v5h-5zM510 378h5v5h-5zM595 378h5v5h-5zM600 378h5v5h-5zM660 378h5v5h-5zM510 383h5v5h-5zM525 383h5v5h-5zM655 383h5v5h-5zM685 388h5v5h-5zM525 393h5v5h-5zM640 393h5v5h-5zM685 393h5v5h-5zM640 398h5v5h-5zM650 398h5v5h-5zM490 403h5v5h-5zM510 423h5v5h-5zM520 428h5v5h-5zM525 428h5v5h-5zM520 433h5v5h-5zM525 433h5v5h-5zM630 438h5v5h-5zM630 443h5v5h-5zM530 448h5v5h-5zM630 453h5v5h-5z"/><path fill="rgb(22,22,22)" d="M655 223h5v5h-5zM590 228h5v5h-5zM570 233h5v5h-5zM645 238h5v5h-5zM465 243h5v5h-5zM490 243h5v5h-5zM605 243h5v5h-5zM635 243h5v5h-5zM645 243h5v5h-5zM635 248h5v5h-5zM640 248h5v5h-5zM630 253h5v5h-5zM455 258h5v5h-5zM490 258h5v5h-5zM630 258h5v5h-5zM475 263h5v5h-5zM480 263h5v5h-5zM520 263h5v5h-5zM545 263h5v5h-5zM550 263h5v5h-5zM550 273h5v5h-5zM565 273h5v5h-5zM515 278h5v5h-5zM570 278h5v5h-5zM530 283h5v5h-5zM665 283h5v5h-5zM635 288h5v5h-5zM550 303h5v5h-5zM505 308h5v5h-5zM460 318h5v5h-5zM465 318h5v5h-5zM505 318h5v5h-5zM510 318h5v5h-5zM590 318h5v5h-5zM460 323h5v5h-5zM470 323h5v5h-5zM505 323h5v5h-5zM575 323h5v5h-5zM635 323h5v5h-5zM645 323h5v5h-5zM465 328h5v5h-5zM470 328h5v5h-5zM645 328h5v5h-5zM465 333h5v5h-5zM525 333h5v5h-5zM630 333h5v5h-5zM465 338h5v5h-5zM585 338h5v5h-5zM600 338h5v5h-5zM650 338h5v5h-5zM545 343h5v5h-5zM550 343h5v5h-5zM595 343h5v5h-5zM560 353h5v5h-5zM520 358h5v5h-5zM605 358h5v5h-5zM610 358h5v5h-5zM640 358h5v5h-5zM505 363h5v5h-5zM510 363h5v5h-5zM560 363h5v5h-5zM685 363h5v5h-5zM510 368h5v5h-5zM595 368h5v5h-5zM650 368h5v5h-5zM655 368h5v5h-5zM510 373h5v5h-5zM585 373h5v5h-5zM605 373h5v5h-5zM660 373h5v5h-5zM605 378h5v5h-5zM545 383h5v5h-5zM585 383h5v5h-5zM590 383h5v5h-5zM650 383h5v5h-5zM660 383h5v5h-5zM530 388h5v5h-5zM680 388h5v5h-5zM650 393h5v5h-5zM510 398h5v5h-5zM590 398h5v5h-5zM685 398h5v5h-5zM645 403h5v5h-5zM650 403h5v5h-5zM530 413h5v5h-5zM570 413h5v5h-5zM625 413h5v5h-5zM535 418h5v5h-5zM565 418h5v5h-5zM575 418h5v5h-5zM625 418h5v5h-5zM630 418h5v5h-5zM525 423h5v5h-5zM565 423h5v5h-5zM570 423h5v5h-5zM510 428h5v5h-5zM515 433h5v5h-5zM525 438h5v5h-5zM530 438h5v5h-5zM590 438h5v5h-5zM595 438h5v5h-5zM535 443h5v5h-5zM625 443h5v5h-5zM670 443h5v5h-5zM675 443h5v5h-5zM625 448h5v5h-5zM630 448h5v5h-5zM530 453h5v5h-5z"/><path fill="rgb(33,33,33)" d="M625 223h5v5h-5zM670 223h5v5h-5zM565 228h5v5h-5zM585 228h5v5h-5zM645 228h5v5h-5zM590 233h5v5h-5zM645 233h5v5h-5zM465 238h5v5h-5zM485 238h5v5h-5zM490 238h5v5h-5zM505 238h5v5h-5zM550 238h5v5h-5zM560 238h5v5h-5zM600 238h5v5h-5zM640 238h5v5h-5zM650 238h5v5h-5zM460 243h5v5h-5zM480 243h5v5h-5zM485 243h5v5h-5zM505 243h5v5h-5zM565 243h5v5h-5zM455 248h5v5h-5zM460 248h5v5h-5zM485 248h5v5h-5zM630 248h5v5h-5zM455 253h5v5h-5zM460 253h5v5h-5zM475 253h5v5h-5zM640 253h5v5h-5zM655 253h5v5h-5zM640 258h5v5h-5zM660 258h5v5h-5zM485 263h5v5h-5zM525 263h5v5h-5zM565 263h5v5h-5zM525 268h5v5h-5zM555 268h5v5h-5zM565 268h5v5h-5zM525 273h5v5h-5zM530 278h5v5h-5zM580 278h5v5h-5zM585 278h5v5h-5zM665 278h5v5h-5zM520 283h5v5h-5zM570 283h5v5h-5zM660 283h5v5h-5zM520 288h5v5h-5zM525 288h5v5h-5zM520 293h5v5h-5zM640 293h5v5h-5zM490 298h5v5h-5zM455 303h5v5h-5zM485 303h5v5h-5zM515 303h5v5h-5zM685 303h5v5h-5zM480 308h5v5h-5zM470 313h5v5h-5zM510 313h5v5h-5zM645 313h5v5h-5zM455 318h5v5h-5zM470 318h5v5h-5zM580 318h5v5h-5zM520 323h5v5h-5zM630 328h5v5h-5zM470 333h5v5h-5zM515 338h5v5h-5zM545 338h5v5h-5zM520 343h5v5h-5zM525 343h5v5h-5zM635 343h5v5h-5zM650 343h5v5h-5zM640 348h5v5h-5zM645 348h5v5h-5zM520 353h5v5h-5zM525 353h5v5h-5zM555 358h5v5h-5zM575 358h5v5h-5zM680 358h5v5h-5zM455 363h5v5h-5zM460 363h5v5h-5zM465 363h5v5h-5zM525 363h5v5h-5zM565 363h5v5h-5zM595 363h5v5h-5zM600 363h5v5h-5zM605 363h5v5h-5zM505 368h5v5h-5zM590 368h5v5h-5zM600 368h5v5h-5zM660 368h5v5h-5zM505 373h5v5h-5zM650 373h5v5h-5zM505 378h5v5h-5zM515 378h5v5h-5zM650 378h5v5h-5zM680 383h5v5h-5zM685 383h5v5h-5zM480 388h5v5h-5zM640 388h5v5h-5zM650 388h5v5h-5zM480 393h5v5h-5zM505 393h5v5h-5zM530 393h5v5h-5zM590 393h5v5h-5zM680 393h5v5h-5zM480 398h5v5h-5zM485 398h5v5h-5zM505 398h5v5h-5zM525 398h5v5h-5zM585 398h5v5h-5zM630 398h5v5h-5zM685 403h5v5h-5zM570 408h5v5h-5zM625 408h5v5h-5zM645 408h5v5h-5zM535 413h5v5h-5zM565 413h5v5h-5zM525 418h5v5h-5zM515 423h5v5h-5zM520 423h5v5h-5zM530 423h5v5h-5zM470 438h5v5h-5zM670 438h5v5h-5zM680 443h5v5h-5zM685 448h5v5h-5zM535 453h5v5h-5z"/><path fill="rgb(44,44,44)" d="M565 223h5v5h-5zM570 223h5v5h-5zM585 223h5v5h-5zM595 223h5v5h-5zM605 223h5v5h-5zM610 223h5v5h-5zM630 223h5v5h-5zM605 228h5v5h-5zM625 228h5v5h-5zM470 233h5v5h-5zM560 233h5v5h-5zM605 233h5v5h-5zM655 233h5v5h-5zM480 238h5v5h-5zM510 238h5v5h-5zM590 238h5v5h-5zM595 238h5v5h-5zM655 238h5v5h-5zM665 238h5v5h-5zM670 238h5v5h-5zM455 243h5v5h-5zM575 243h5v5h-5zM600 243h5v5h-5zM650 243h5v5h-5zM655 243h5v5h-5zM665 243h5v5h-5zM475 248h5v5h-5zM480 248h5v5h-5zM570 248h5v5h-5zM575 248h5v5h-5zM645 248h5v5h-5zM650 248h5v5h-5zM465 253h5v5h-5zM490 253h5v5h-5zM570 253h5v5h-5zM575 253h5v5h-5zM625 253h5v5h-5zM650 253h5v5h-5zM665 253h5v5h-5zM670 253h5v5h-5zM460 258h5v5h-5zM470 258h5v5h-5zM525 258h5v5h-5zM565 258h5v5h-5zM570 258h5v5h-5zM625 258h5v5h-5zM675 258h5v5h-5zM470 263h5v5h-5zM490 263h5v5h-5zM555 263h5v5h-5zM560 263h5v5h-5zM590 263h5v5h-5zM665 263h5v5h-5zM670 263h5v5h-5zM560 268h5v5h-5zM590 268h5v5h-5zM510 273h5v5h-5zM555 273h5v5h-5zM560 273h5v5h-5zM465 278h5v5h-5zM510 278h5v5h-5zM535 278h5v5h-5zM540 278h5v5h-5zM545 278h5v5h-5zM575 278h5v5h-5zM565 283h5v5h-5zM575 283h5v5h-5zM580 283h5v5h-5zM585 283h5v5h-5zM630 283h5v5h-5zM645 283h5v5h-5zM645 288h5v5h-5zM505 293h5v5h-5zM485 298h5v5h-5zM500 298h5v5h-5zM520 298h5v5h-5zM550 298h5v5h-5zM590 298h5v5h-5zM620 298h5v5h-5zM685 298h5v5h-5zM460 303h5v5h-5zM480 303h5v5h-5zM545 303h5v5h-5zM640 303h5v5h-5zM475 308h5v5h-5zM545 308h5v5h-5zM550 308h5v5h-5zM640 308h5v5h-5zM475 313h5v5h-5zM505 313h5v5h-5zM640 313h5v5h-5zM665 313h5v5h-5zM605 318h5v5h-5zM610 318h5v5h-5zM635 318h5v5h-5zM650 318h5v5h-5zM660 318h5v5h-5zM665 318h5v5h-5zM570 323h5v5h-5zM610 323h5v5h-5zM455 328h5v5h-5zM525 328h5v5h-5zM575 328h5v5h-5zM590 328h5v5h-5zM510 333h5v5h-5zM580 333h5v5h-5zM590 333h5v5h-5zM470 338h5v5h-5zM555 338h5v5h-5zM630 338h5v5h-5zM530 343h5v5h-5zM540 343h5v5h-5zM585 343h5v5h-5zM600 343h5v5h-5zM665 343h5v5h-5zM525 348h5v5h-5zM565 348h5v5h-5zM570 348h5v5h-5zM515 353h5v5h-5zM640 353h5v5h-5zM645 353h5v5h-5zM510 358h5v5h-5zM515 358h5v5h-5zM530 358h5v5h-5zM615 358h5v5h-5zM620 358h5v5h-5zM635 358h5v5h-5zM685 358h5v5h-5zM515 363h5v5h-5zM520 363h5v5h-5zM555 363h5v5h-5zM570 363h5v5h-5zM610 363h5v5h-5zM640 363h5v5h-5zM655 363h5v5h-5zM680 363h5v5h-5zM455 368h5v5h-5zM465 368h5v5h-5zM550 368h5v5h-5zM555 373h5v5h-5zM580 373h5v5h-5zM630 378h5v5h-5zM635 378h5v5h-5zM480 383h5v5h-5zM505 383h5v5h-5zM530 383h5v5h-5zM540 383h5v5h-5zM630 383h5v5h-5zM635 383h5v5h-5zM645 383h5v5h-5zM505 388h5v5h-5zM630 393h5v5h-5zM635 393h5v5h-5zM515 398h5v5h-5zM520 398h5v5h-5zM530 398h5v5h-5zM625 398h5v5h-5zM635 398h5v5h-5zM680 398h5v5h-5zM485 403h5v5h-5zM565 403h5v5h-5zM570 403h5v5h-5zM625 403h5v5h-5zM490 408h5v5h-5zM530 408h5v5h-5zM565 408h5v5h-5zM615 408h5v5h-5zM620 408h5v5h-5zM650 408h5v5h-5zM630 413h5v5h-5zM470 418h5v5h-5zM550 418h5v5h-5zM555 418h5v5h-5zM560 418h5v5h-5zM505 423h5v5h-5zM560 423h5v5h-5zM575 423h5v5h-5zM625 423h5v5h-5zM630 423h5v5h-5zM470 433h5v5h-5zM530 433h5v5h-5zM625 438h5v5h-5zM635 438h5v5h-5zM525 443h5v5h-5zM590 443h5v5h-5zM605 443h5v5h-5zM535 448h5v5h-5zM670 448h5v5h-5zM625 453h5v5h-5z"/><path fill="rgb(55,55,55)" d="M620 223h5v5h-5zM665 223h5v5h-5zM570 228h5v5h-5zM655 228h5v5h-5zM665 228h5v5h-5zM670 228h5v5h-5zM510 233h5v5h-5zM550 233h5v5h-5zM585 233h5v5h-5zM545 238h5v5h-5zM555 238h5v5h-5zM575 238h5v5h-5zM635 238h5v5h-5zM495 243h5v5h-5zM500 243h5v5h-5zM510 243h5v5h-5zM590 243h5v5h-5zM595 243h5v5h-5zM660 243h5v5h-5zM465 248h5v5h-5zM470 248h5v5h-5zM490 248h5v5h-5zM505 248h5v5h-5zM580 248h5v5h-5zM585 248h5v5h-5zM655 248h5v5h-5zM580 253h5v5h-5zM585 253h5v5h-5zM645 253h5v5h-5zM660 253h5v5h-5zM465 258h5v5h-5zM495 258h5v5h-5zM575 258h5v5h-5zM610 258h5v5h-5zM655 258h5v5h-5zM570 263h5v5h-5zM585 263h5v5h-5zM630 263h5v5h-5zM635 263h5v5h-5zM675 263h5v5h-5zM680 263h5v5h-5zM685 263h5v5h-5zM585 268h5v5h-5zM540 273h5v5h-5zM570 273h5v5h-5zM585 273h5v5h-5zM460 278h5v5h-5zM560 278h5v5h-5zM660 278h5v5h-5zM670 278h5v5h-5zM455 283h5v5h-5zM590 283h5v5h-5zM600 283h5v5h-5zM605 283h5v5h-5zM670 283h5v5h-5zM685 283h5v5h-5zM515 288h5v5h-5zM685 288h5v5h-5zM490 293h5v5h-5zM635 293h5v5h-5zM645 293h5v5h-5zM460 298h5v5h-5zM595 298h5v5h-5zM615 298h5v5h-5zM640 298h5v5h-5zM680 298h5v5h-5zM465 303h5v5h-5zM555 303h5v5h-5zM590 303h5v5h-5zM620 303h5v5h-5zM635 303h5v5h-5zM645 303h5v5h-5zM470 308h5v5h-5zM645 308h5v5h-5zM465 313h5v5h-5zM480 313h5v5h-5zM590 313h5v5h-5zM515 318h5v5h-5zM595 318h5v5h-5zM655 318h5v5h-5zM605 323h5v5h-5zM460 328h5v5h-5zM460 333h5v5h-5zM550 333h5v5h-5zM460 338h5v5h-5zM530 338h5v5h-5zM605 338h5v5h-5zM470 343h5v5h-5zM515 343h5v5h-5zM535 343h5v5h-5zM555 343h5v5h-5zM655 343h5v5h-5zM660 343h5v5h-5zM670 343h5v5h-5zM520 348h5v5h-5zM550 348h5v5h-5zM665 348h5v5h-5zM555 353h5v5h-5zM575 353h5v5h-5zM505 358h5v5h-5zM600 358h5v5h-5zM625 358h5v5h-5zM665 358h5v5h-5zM670 358h5v5h-5zM675 358h5v5h-5zM470 363h5v5h-5zM485 363h5v5h-5zM575 363h5v5h-5zM590 363h5v5h-5zM660 363h5v5h-5zM665 363h5v5h-5zM675 363h5v5h-5zM460 368h5v5h-5zM515 368h5v5h-5zM555 368h5v5h-5zM585 368h5v5h-5zM605 368h5v5h-5zM645 368h5v5h-5zM485 373h5v5h-5zM515 373h5v5h-5zM665 373h5v5h-5zM485 378h5v5h-5zM520 378h5v5h-5zM540 378h5v5h-5zM555 378h5v5h-5zM580 378h5v5h-5zM665 378h5v5h-5zM455 383h5v5h-5zM460 383h5v5h-5zM465 383h5v5h-5zM535 383h5v5h-5zM550 383h5v5h-5zM640 383h5v5h-5zM475 388h5v5h-5zM535 388h5v5h-5zM545 388h5v5h-5zM590 388h5v5h-5zM625 388h5v5h-5zM630 388h5v5h-5zM475 393h5v5h-5zM485 393h5v5h-5zM585 393h5v5h-5zM625 393h5v5h-5zM490 398h5v5h-5zM535 398h5v5h-5zM565 398h5v5h-5zM610 398h5v5h-5zM655 398h5v5h-5zM660 398h5v5h-5zM530 403h5v5h-5zM610 403h5v5h-5zM630 403h5v5h-5zM640 403h5v5h-5zM655 403h5v5h-5zM610 408h5v5h-5zM550 413h5v5h-5zM620 413h5v5h-5zM645 413h5v5h-5zM510 418h5v5h-5zM580 418h5v5h-5zM470 423h5v5h-5zM555 423h5v5h-5zM530 428h5v5h-5zM565 428h5v5h-5zM510 433h5v5h-5zM565 433h5v5h-5zM630 433h5v5h-5zM670 433h5v5h-5zM465 438h5v5h-5zM520 438h5v5h-5zM535 438h5v5h-5zM600 438h5v5h-5zM640 438h5v5h-5zM675 438h5v5h-5zM465 443h5v5h-5zM595 443h5v5h-5zM600 443h5v5h-5zM610 443h5v5h-5zM635 443h5v5h-5zM685 443h5v5h-5zM680 448h5v5h-5zM635 453h5v5h-5zM670 453h5v5h-5z"/><path fill="rgb(67,67,67)" d="M510 223h5v5h-5zM535 223h5v5h-5zM615 223h5v5h-5zM645 223h5v5h-5zM660 223h5v5h-5zM510 228h5v5h-5zM560 228h5v5h-5zM595 228h5v5h-5zM505 233h5v5h-5zM555 233h5v5h-5zM595 233h5v5h-5zM600 233h5v5h-5zM670 233h5v5h-5zM495 238h5v5h-5zM500 238h5v5h-5zM585 238h5v5h-5zM610 238h5v5h-5zM660 238h5v5h-5zM545 243h5v5h-5zM550 243h5v5h-5zM580 243h5v5h-5zM585 243h5v5h-5zM610 243h5v5h-5zM630 243h5v5h-5zM670 243h5v5h-5zM510 248h5v5h-5zM590 248h5v5h-5zM605 248h5v5h-5zM665 248h5v5h-5zM470 253h5v5h-5zM530 258h5v5h-5zM545 258h5v5h-5zM580 258h5v5h-5zM585 258h5v5h-5zM645 258h5v5h-5zM650 258h5v5h-5zM680 258h5v5h-5zM515 263h5v5h-5zM595 263h5v5h-5zM625 263h5v5h-5zM640 263h5v5h-5zM470 268h5v5h-5zM570 268h5v5h-5zM685 268h5v5h-5zM465 273h5v5h-5zM665 273h5v5h-5zM670 273h5v5h-5zM455 278h5v5h-5zM470 278h5v5h-5zM490 278h5v5h-5zM550 278h5v5h-5zM590 278h5v5h-5zM605 278h5v5h-5zM630 278h5v5h-5zM635 278h5v5h-5zM680 278h5v5h-5zM685 278h5v5h-5zM485 283h5v5h-5zM515 283h5v5h-5zM535 283h5v5h-5zM595 283h5v5h-5zM625 283h5v5h-5zM655 283h5v5h-5zM680 283h5v5h-5zM510 288h5v5h-5zM570 288h5v5h-5zM630 288h5v5h-5zM525 293h5v5h-5zM590 293h5v5h-5zM465 298h5v5h-5zM495 298h5v5h-5zM545 298h5v5h-5zM585 298h5v5h-5zM635 298h5v5h-5zM645 298h5v5h-5zM500 303h5v5h-5zM565 303h5v5h-5zM455 308h5v5h-5zM465 308h5v5h-5zM485 308h5v5h-5zM635 308h5v5h-5zM460 313h5v5h-5zM545 313h5v5h-5zM585 313h5v5h-5zM475 318h5v5h-5zM500 318h5v5h-5zM600 318h5v5h-5zM475 323h5v5h-5zM490 323h5v5h-5zM565 323h5v5h-5zM595 323h5v5h-5zM630 323h5v5h-5zM650 323h5v5h-5zM505 328h5v5h-5zM455 338h5v5h-5zM510 338h5v5h-5zM670 338h5v5h-5zM465 343h5v5h-5zM510 343h5v5h-5zM630 343h5v5h-5zM510 348h5v5h-5zM515 348h5v5h-5zM530 348h5v5h-5zM545 348h5v5h-5zM590 348h5v5h-5zM635 348h5v5h-5zM510 353h5v5h-5zM530 353h5v5h-5zM635 353h5v5h-5zM665 353h5v5h-5zM470 358h5v5h-5zM475 358h5v5h-5zM480 358h5v5h-5zM485 358h5v5h-5zM580 358h5v5h-5zM595 358h5v5h-5zM630 358h5v5h-5zM650 358h5v5h-5zM480 363h5v5h-5zM580 363h5v5h-5zM585 363h5v5h-5zM635 363h5v5h-5zM670 363h5v5h-5zM470 368h5v5h-5zM485 368h5v5h-5zM545 368h5v5h-5zM560 368h5v5h-5zM565 368h5v5h-5zM570 368h5v5h-5zM575 368h5v5h-5zM580 368h5v5h-5zM665 368h5v5h-5zM685 368h5v5h-5zM560 373h5v5h-5zM565 373h5v5h-5zM460 378h5v5h-5zM480 378h5v5h-5zM525 378h5v5h-5zM680 378h5v5h-5zM475 383h5v5h-5zM485 383h5v5h-5zM595 383h5v5h-5zM605 383h5v5h-5zM625 383h5v5h-5zM665 383h5v5h-5zM470 388h5v5h-5zM485 388h5v5h-5zM540 388h5v5h-5zM585 388h5v5h-5zM635 388h5v5h-5zM660 388h5v5h-5zM665 388h5v5h-5zM675 388h5v5h-5zM535 393h5v5h-5zM540 393h5v5h-5zM545 393h5v5h-5zM665 393h5v5h-5zM675 393h5v5h-5zM475 398h5v5h-5zM540 398h5v5h-5zM545 398h5v5h-5zM595 398h5v5h-5zM605 398h5v5h-5zM665 398h5v5h-5zM495 403h5v5h-5zM510 403h5v5h-5zM525 403h5v5h-5zM560 403h5v5h-5zM585 403h5v5h-5zM590 403h5v5h-5zM605 403h5v5h-5zM615 403h5v5h-5zM620 403h5v5h-5zM680 403h5v5h-5zM630 408h5v5h-5zM640 408h5v5h-5zM685 408h5v5h-5zM470 413h5v5h-5zM525 413h5v5h-5zM540 413h5v5h-5zM545 413h5v5h-5zM555 413h5v5h-5zM560 413h5v5h-5zM575 413h5v5h-5zM610 413h5v5h-5zM615 413h5v5h-5zM640 413h5v5h-5zM650 413h5v5h-5zM475 418h5v5h-5zM540 418h5v5h-5zM545 418h5v5h-5zM605 418h5v5h-5zM635 418h5v5h-5zM685 418h5v5h-5zM475 423h5v5h-5zM580 423h5v5h-5zM685 423h5v5h-5zM470 428h5v5h-5zM560 428h5v5h-5zM670 428h5v5h-5zM475 433h5v5h-5zM560 433h5v5h-5zM475 438h5v5h-5zM565 438h5v5h-5zM605 438h5v5h-5zM610 438h5v5h-5zM470 443h5v5h-5zM665 443h5v5h-5zM465 448h5v5h-5zM525 448h5v5h-5zM605 448h5v5h-5zM665 448h5v5h-5zM675 448h5v5h-5zM470 453h5v5h-5zM610 453h5v5h-5zM685 453h5v5h-5z"/><path fill="rgb(78,78,78)" d="M530 223h5v5h-5zM540 223h5v5h-5zM545 223h5v5h-5zM560 223h5v5h-5zM600 223h5v5h-5zM675 223h5v5h-5zM530 228h5v5h-5zM600 228h5v5h-5zM610 228h5v5h-5zM620 228h5v5h-5zM630 228h5v5h-5zM660 228h5v5h-5zM665 233h5v5h-5zM460 238h5v5h-5zM515 238h5v5h-5zM625 248h5v5h-5zM660 248h5v5h-5zM505 253h5v5h-5zM510 253h5v5h-5zM530 253h5v5h-5zM590 253h5v5h-5zM605 253h5v5h-5zM520 258h5v5h-5zM550 258h5v5h-5zM590 258h5v5h-5zM605 258h5v5h-5zM615 258h5v5h-5zM620 258h5v5h-5zM455 263h5v5h-5zM605 263h5v5h-5zM660 263h5v5h-5zM680 268h5v5h-5zM470 273h5v5h-5zM580 273h5v5h-5zM590 273h5v5h-5zM685 273h5v5h-5zM485 278h5v5h-5zM555 278h5v5h-5zM600 278h5v5h-5zM625 278h5v5h-5zM640 278h5v5h-5zM675 278h5v5h-5zM460 283h5v5h-5zM465 283h5v5h-5zM510 283h5v5h-5zM650 283h5v5h-5zM485 288h5v5h-5zM530 288h5v5h-5zM665 288h5v5h-5zM670 288h5v5h-5zM485 293h5v5h-5zM680 293h5v5h-5zM685 293h5v5h-5zM455 298h5v5h-5zM625 298h5v5h-5zM670 298h5v5h-5zM470 303h5v5h-5zM490 303h5v5h-5zM560 303h5v5h-5zM615 303h5v5h-5zM625 303h5v5h-5zM670 303h5v5h-5zM680 303h5v5h-5zM460 308h5v5h-5zM515 308h5v5h-5zM625 308h5v5h-5zM665 308h5v5h-5zM455 313h5v5h-5zM550 313h5v5h-5zM625 313h5v5h-5zM630 313h5v5h-5zM635 313h5v5h-5zM650 313h5v5h-5zM660 313h5v5h-5zM480 318h5v5h-5zM570 318h5v5h-5zM575 318h5v5h-5zM615 318h5v5h-5zM630 318h5v5h-5zM485 323h5v5h-5zM500 323h5v5h-5zM525 323h5v5h-5zM600 323h5v5h-5zM615 323h5v5h-5zM660 323h5v5h-5zM475 328h5v5h-5zM455 333h5v5h-5zM555 333h5v5h-5zM600 333h5v5h-5zM605 333h5v5h-5zM650 333h5v5h-5zM540 338h5v5h-5zM560 338h5v5h-5zM580 338h5v5h-5zM655 338h5v5h-5zM665 338h5v5h-5zM675 338h5v5h-5zM455 343h5v5h-5zM560 343h5v5h-5zM565 343h5v5h-5zM605 343h5v5h-5zM675 343h5v5h-5zM685 343h5v5h-5zM470 348h5v5h-5zM670 348h5v5h-5zM470 353h5v5h-5zM550 353h5v5h-5zM625 353h5v5h-5zM630 353h5v5h-5zM670 353h5v5h-5zM465 358h5v5h-5zM585 358h5v5h-5zM590 358h5v5h-5zM475 363h5v5h-5zM530 363h5v5h-5zM550 363h5v5h-5zM615 363h5v5h-5zM620 363h5v5h-5zM625 363h5v5h-5zM630 363h5v5h-5zM520 368h5v5h-5zM525 368h5v5h-5zM465 373h5v5h-5zM490 373h5v5h-5zM570 373h5v5h-5zM575 373h5v5h-5zM455 378h5v5h-5zM465 378h5v5h-5zM490 378h5v5h-5zM560 378h5v5h-5zM565 378h5v5h-5zM610 378h5v5h-5zM640 378h5v5h-5zM645 378h5v5h-5zM685 378h5v5h-5zM470 383h5v5h-5zM600 383h5v5h-5zM675 383h5v5h-5zM455 388h5v5h-5zM465 388h5v5h-5zM655 388h5v5h-5zM670 393h5v5h-5zM570 398h5v5h-5zM470 403h5v5h-5zM505 403h5v5h-5zM535 403h5v5h-5zM575 403h5v5h-5zM660 403h5v5h-5zM535 408h5v5h-5zM560 408h5v5h-5zM655 408h5v5h-5zM490 413h5v5h-5zM605 413h5v5h-5zM635 413h5v5h-5zM685 413h5v5h-5zM465 418h5v5h-5zM485 418h5v5h-5zM490 418h5v5h-5zM505 418h5v5h-5zM515 418h5v5h-5zM520 418h5v5h-5zM585 418h5v5h-5zM610 418h5v5h-5zM620 418h5v5h-5zM640 418h5v5h-5zM645 418h5v5h-5zM680 418h5v5h-5zM550 423h5v5h-5zM585 423h5v5h-5zM635 423h5v5h-5zM670 423h5v5h-5zM630 428h5v5h-5zM590 433h5v5h-5zM625 433h5v5h-5zM485 438h5v5h-5zM515 438h5v5h-5zM645 438h5v5h-5zM665 438h5v5h-5zM460 443h5v5h-5zM540 443h5v5h-5zM585 443h5v5h-5zM620 443h5v5h-5zM610 448h5v5h-5zM620 448h5v5h-5zM635 448h5v5h-5zM465 453h5v5h-5zM675 453h5v5h-5z"/><path fill="rgb(89,89,89)" d="M490 223h5v5h-5zM495 223h5v5h-5zM550 223h5v5h-5zM555 223h5v5h-5zM575 223h5v5h-5zM505 228h5v5h-5zM535 228h5v5h-5zM550 228h5v5h-5zM555 228h5v5h-5zM580 228h5v5h-5zM465 233h5v5h-5zM475 233h5v5h-5zM490 233h5v5h-5zM545 233h5v5h-5zM575 233h5v5h-5zM640 233h5v5h-5zM660 233h5v5h-5zM580 238h5v5h-5zM630 238h5v5h-5zM670 248h5v5h-5zM525 253h5v5h-5zM565 253h5v5h-5zM500 258h5v5h-5zM685 258h5v5h-5zM495 263h5v5h-5zM575 263h5v5h-5zM580 263h5v5h-5zM610 263h5v5h-5zM475 268h5v5h-5zM485 268h5v5h-5zM490 268h5v5h-5zM510 268h5v5h-5zM540 268h5v5h-5zM595 268h5v5h-5zM630 268h5v5h-5zM665 268h5v5h-5zM670 268h5v5h-5zM675 268h5v5h-5zM485 273h5v5h-5zM490 273h5v5h-5zM530 273h5v5h-5zM535 273h5v5h-5zM630 273h5v5h-5zM675 273h5v5h-5zM680 273h5v5h-5zM595 278h5v5h-5zM490 283h5v5h-5zM675 283h5v5h-5zM490 288h5v5h-5zM575 288h5v5h-5zM580 288h5v5h-5zM585 288h5v5h-5zM590 288h5v5h-5zM600 288h5v5h-5zM605 288h5v5h-5zM680 288h5v5h-5zM570 293h5v5h-5zM585 293h5v5h-5zM595 293h5v5h-5zM525 298h5v5h-5zM555 298h5v5h-5zM565 298h5v5h-5zM570 298h5v5h-5zM675 298h5v5h-5zM475 303h5v5h-5zM520 303h5v5h-5zM595 303h5v5h-5zM630 303h5v5h-5zM665 303h5v5h-5zM675 303h5v5h-5zM590 308h5v5h-5zM620 308h5v5h-5zM630 308h5v5h-5zM670 308h5v5h-5zM685 308h5v5h-5zM515 313h5v5h-5zM595 313h5v5h-5zM670 313h5v5h-5zM485 318h5v5h-5zM565 318h5v5h-5zM480 323h5v5h-5zM495 323h5v5h-5zM655 323h5v5h-5zM485 328h5v5h-5zM570 328h5v5h-5zM605 328h5v5h-5zM505 333h5v5h-5zM530 333h5v5h-5zM545 333h5v5h-5zM595 333h5v5h-5zM625 333h5v5h-5zM475 338h5v5h-5zM485 338h5v5h-5zM490 338h5v5h-5zM505 338h5v5h-5zM535 338h5v5h-5zM610 338h5v5h-5zM625 338h5v5h-5zM660 338h5v5h-5zM680 338h5v5h-5zM685 338h5v5h-5zM460 343h5v5h-5zM475 343h5v5h-5zM490 343h5v5h-5zM505 343h5v5h-5zM570 343h5v5h-5zM620 343h5v5h-5zM625 343h5v5h-5zM680 343h5v5h-5zM555 348h5v5h-5zM560 348h5v5h-5zM585 348h5v5h-5zM595 348h5v5h-5zM625 348h5v5h-5zM630 348h5v5h-5zM660 348h5v5h-5zM475 353h5v5h-5zM585 353h5v5h-5zM590 353h5v5h-5zM605 353h5v5h-5zM610 353h5v5h-5zM620 353h5v5h-5zM680 353h5v5h-5zM460 358h5v5h-5zM490 358h5v5h-5zM500 358h5v5h-5zM550 358h5v5h-5zM500 363h5v5h-5zM455 373h5v5h-5zM460 373h5v5h-5zM470 373h5v5h-5zM520 373h5v5h-5zM540 373h5v5h-5zM630 373h5v5h-5zM645 373h5v5h-5zM500 378h5v5h-5zM460 388h5v5h-5zM670 388h5v5h-5zM470 393h5v5h-5zM655 393h5v5h-5zM660 393h5v5h-5zM470 398h5v5h-5zM500 398h5v5h-5zM550 398h5v5h-5zM560 398h5v5h-5zM600 398h5v5h-5zM615 398h5v5h-5zM620 398h5v5h-5zM675 398h5v5h-5zM540 403h5v5h-5zM545 403h5v5h-5zM550 403h5v5h-5zM555 403h5v5h-5zM635 403h5v5h-5zM665 403h5v5h-5zM470 408h5v5h-5zM485 408h5v5h-5zM525 408h5v5h-5zM545 408h5v5h-5zM550 408h5v5h-5zM555 408h5v5h-5zM575 408h5v5h-5zM605 408h5v5h-5zM465 413h5v5h-5zM480 418h5v5h-5zM600 418h5v5h-5zM665 418h5v5h-5zM480 423h5v5h-5zM485 423h5v5h-5zM605 423h5v5h-5zM640 423h5v5h-5zM665 423h5v5h-5zM475 428h5v5h-5zM505 428h5v5h-5zM555 428h5v5h-5zM625 428h5v5h-5zM480 433h5v5h-5zM635 433h5v5h-5zM640 433h5v5h-5zM480 438h5v5h-5zM510 438h5v5h-5zM560 438h5v5h-5zM680 438h5v5h-5zM455 443h5v5h-5zM545 443h5v5h-5zM565 443h5v5h-5zM615 443h5v5h-5zM640 443h5v5h-5zM470 448h5v5h-5zM540 448h5v5h-5zM585 448h5v5h-5zM490 453h5v5h-5zM540 453h5v5h-5zM605 453h5v5h-5zM680 453h5v5h-5z"/><path fill="rgb(100,100,100)" d="M515 223h5v5h-5zM580 223h5v5h-5zM685 223h5v5h-5zM470 228h5v5h-5zM490 228h5v5h-5zM525 228h5v5h-5zM540 228h5v5h-5zM545 228h5v5h-5zM575 228h5v5h-5zM615 228h5v5h-5zM685 228h5v5h-5zM485 233h5v5h-5zM515 233h5v5h-5zM525 233h5v5h-5zM530 233h5v5h-5zM580 233h5v5h-5zM610 233h5v5h-5zM625 233h5v5h-5zM630 233h5v5h-5zM520 238h5v5h-5zM525 238h5v5h-5zM530 238h5v5h-5zM540 238h5v5h-5zM675 238h5v5h-5zM495 248h5v5h-5zM500 248h5v5h-5zM565 248h5v5h-5zM595 248h5v5h-5zM600 248h5v5h-5zM610 248h5v5h-5zM495 253h5v5h-5zM610 253h5v5h-5zM675 253h5v5h-5zM505 258h5v5h-5zM560 258h5v5h-5zM465 263h5v5h-5zM530 263h5v5h-5zM540 263h5v5h-5zM600 263h5v5h-5zM480 268h5v5h-5zM580 268h5v5h-5zM460 273h5v5h-5zM575 273h5v5h-5zM505 278h5v5h-5zM470 283h5v5h-5zM540 283h5v5h-5zM560 283h5v5h-5zM565 288h5v5h-5zM595 288h5v5h-5zM650 288h5v5h-5zM550 293h5v5h-5zM600 293h5v5h-5zM630 293h5v5h-5zM670 293h5v5h-5zM560 298h5v5h-5zM630 298h5v5h-5zM650 298h5v5h-5zM665 298h5v5h-5zM525 303h5v5h-5zM585 303h5v5h-5zM525 308h5v5h-5zM555 308h5v5h-5zM565 308h5v5h-5zM485 313h5v5h-5zM605 313h5v5h-5zM610 313h5v5h-5zM620 313h5v5h-5zM490 318h5v5h-5zM495 318h5v5h-5zM520 318h5v5h-5zM545 318h5v5h-5zM620 318h5v5h-5zM625 318h5v5h-5zM670 318h5v5h-5zM625 323h5v5h-5zM665 323h5v5h-5zM490 328h5v5h-5zM565 328h5v5h-5zM610 328h5v5h-5zM625 328h5v5h-5zM475 333h5v5h-5zM485 333h5v5h-5zM575 333h5v5h-5zM565 338h5v5h-5zM485 343h5v5h-5zM610 343h5v5h-5zM615 343h5v5h-5zM475 348h5v5h-5zM490 348h5v5h-5zM505 348h5v5h-5zM600 348h5v5h-5zM620 348h5v5h-5zM650 348h5v5h-5zM490 353h5v5h-5zM505 353h5v5h-5zM580 353h5v5h-5zM595 353h5v5h-5zM615 353h5v5h-5zM685 353h5v5h-5zM495 358h5v5h-5zM490 363h5v5h-5zM480 368h5v5h-5zM640 368h5v5h-5zM670 368h5v5h-5zM680 368h5v5h-5zM480 373h5v5h-5zM500 373h5v5h-5zM525 373h5v5h-5zM610 373h5v5h-5zM635 373h5v5h-5zM470 378h5v5h-5zM475 378h5v5h-5zM530 378h5v5h-5zM535 378h5v5h-5zM570 378h5v5h-5zM670 383h5v5h-5zM455 393h5v5h-5zM465 393h5v5h-5zM595 393h5v5h-5zM455 398h5v5h-5zM465 398h5v5h-5zM495 398h5v5h-5zM555 398h5v5h-5zM580 398h5v5h-5zM670 398h5v5h-5zM465 403h5v5h-5zM475 403h5v5h-5zM480 403h5v5h-5zM500 403h5v5h-5zM580 403h5v5h-5zM595 403h5v5h-5zM600 403h5v5h-5zM465 408h5v5h-5zM510 408h5v5h-5zM540 408h5v5h-5zM635 408h5v5h-5zM660 408h5v5h-5zM485 413h5v5h-5zM510 413h5v5h-5zM655 413h5v5h-5zM660 413h5v5h-5zM590 418h5v5h-5zM595 418h5v5h-5zM650 418h5v5h-5zM660 418h5v5h-5zM490 423h5v5h-5zM500 423h5v5h-5zM535 423h5v5h-5zM610 423h5v5h-5zM675 423h5v5h-5zM680 423h5v5h-5zM570 428h5v5h-5zM485 433h5v5h-5zM555 433h5v5h-5zM595 433h5v5h-5zM605 433h5v5h-5zM645 433h5v5h-5zM460 438h5v5h-5zM505 438h5v5h-5zM540 438h5v5h-5zM550 438h5v5h-5zM485 443h5v5h-5zM490 443h5v5h-5zM505 443h5v5h-5zM510 443h5v5h-5zM455 448h5v5h-5zM460 448h5v5h-5zM565 448h5v5h-5zM590 448h5v5h-5zM615 448h5v5h-5zM455 453h5v5h-5zM460 453h5v5h-5zM510 453h5v5h-5zM570 453h5v5h-5zM585 453h5v5h-5zM590 453h5v5h-5zM615 453h5v5h-5zM620 453h5v5h-5zM640 453h5v5h-5zM665 453h5v5h-5z"/><path fill="rgb(111,111,111)" d="M470 223h5v5h-5zM505 223h5v5h-5zM525 223h5v5h-5zM635 223h5v5h-5zM680 223h5v5h-5zM515 228h5v5h-5zM675 228h5v5h-5zM535 233h5v5h-5zM540 233h5v5h-5zM635 233h5v5h-5zM675 233h5v5h-5zM535 238h5v5h-5zM515 243h5v5h-5zM560 243h5v5h-5zM545 248h5v5h-5zM500 253h5v5h-5zM545 253h5v5h-5zM620 253h5v5h-5zM510 258h5v5h-5zM515 258h5v5h-5zM555 258h5v5h-5zM595 258h5v5h-5zM600 258h5v5h-5zM465 268h5v5h-5zM600 268h5v5h-5zM625 268h5v5h-5zM595 273h5v5h-5zM625 273h5v5h-5zM475 278h5v5h-5zM480 278h5v5h-5zM480 283h5v5h-5zM545 283h5v5h-5zM610 283h5v5h-5zM620 283h5v5h-5zM625 288h5v5h-5zM660 288h5v5h-5zM675 288h5v5h-5zM465 293h5v5h-5zM495 293h5v5h-5zM500 293h5v5h-5zM565 293h5v5h-5zM605 293h5v5h-5zM620 293h5v5h-5zM625 293h5v5h-5zM650 293h5v5h-5zM665 293h5v5h-5zM675 293h5v5h-5zM470 298h5v5h-5zM480 298h5v5h-5zM600 298h5v5h-5zM495 303h5v5h-5zM540 303h5v5h-5zM570 303h5v5h-5zM650 303h5v5h-5zM500 313h5v5h-5zM525 313h5v5h-5zM530 313h5v5h-5zM525 318h5v5h-5zM530 318h5v5h-5zM540 318h5v5h-5zM550 318h5v5h-5zM560 323h5v5h-5zM620 323h5v5h-5zM480 328h5v5h-5zM530 328h5v5h-5zM550 328h5v5h-5zM595 328h5v5h-5zM600 328h5v5h-5zM650 328h5v5h-5zM490 333h5v5h-5zM665 333h5v5h-5zM480 338h5v5h-5zM570 338h5v5h-5zM575 338h5v5h-5zM495 343h5v5h-5zM575 348h5v5h-5zM605 348h5v5h-5zM480 353h5v5h-5zM485 353h5v5h-5zM495 353h5v5h-5zM600 353h5v5h-5zM675 353h5v5h-5zM660 358h5v5h-5zM475 368h5v5h-5zM490 368h5v5h-5zM610 368h5v5h-5zM630 368h5v5h-5zM635 368h5v5h-5zM675 368h5v5h-5zM475 373h5v5h-5zM670 373h5v5h-5zM680 373h5v5h-5zM685 373h5v5h-5zM495 378h5v5h-5zM575 378h5v5h-5zM625 378h5v5h-5zM670 378h5v5h-5zM675 378h5v5h-5zM580 383h5v5h-5zM610 383h5v5h-5zM550 388h5v5h-5zM605 388h5v5h-5zM460 393h5v5h-5zM550 393h5v5h-5zM605 393h5v5h-5zM610 393h5v5h-5zM620 393h5v5h-5zM460 398h5v5h-5zM515 403h5v5h-5zM495 408h5v5h-5zM665 408h5v5h-5zM680 408h5v5h-5zM580 413h5v5h-5zM585 413h5v5h-5zM590 413h5v5h-5zM600 413h5v5h-5zM665 413h5v5h-5zM680 413h5v5h-5zM495 418h5v5h-5zM500 418h5v5h-5zM615 418h5v5h-5zM655 418h5v5h-5zM670 418h5v5h-5zM675 418h5v5h-5zM465 423h5v5h-5zM620 423h5v5h-5zM645 423h5v5h-5zM480 428h5v5h-5zM485 428h5v5h-5zM605 428h5v5h-5zM635 428h5v5h-5zM640 428h5v5h-5zM665 428h5v5h-5zM465 433h5v5h-5zM535 433h5v5h-5zM610 433h5v5h-5zM665 433h5v5h-5zM675 433h5v5h-5zM490 438h5v5h-5zM545 438h5v5h-5zM555 438h5v5h-5zM585 438h5v5h-5zM615 438h5v5h-5zM620 438h5v5h-5zM570 443h5v5h-5zM645 443h5v5h-5zM485 448h5v5h-5zM490 448h5v5h-5zM505 448h5v5h-5zM510 448h5v5h-5zM545 448h5v5h-5zM570 448h5v5h-5zM600 448h5v5h-5zM640 448h5v5h-5zM475 453h5v5h-5zM525 453h5v5h-5zM545 453h5v5h-5zM645 453h5v5h-5zM650 453h5v5h-5z"/><path fill="rgb(122,122,122)" d="M495 228h5v5h-5zM640 228h5v5h-5zM680 228h5v5h-5zM480 233h5v5h-5zM500 233h5v5h-5zM520 233h5v5h-5zM455 238h5v5h-5zM525 243h5v5h-5zM530 243h5v5h-5zM625 243h5v5h-5zM530 248h5v5h-5zM595 253h5v5h-5zM600 253h5v5h-5zM535 258h5v5h-5zM540 258h5v5h-5zM460 263h5v5h-5zM510 263h5v5h-5zM620 263h5v5h-5zM645 263h5v5h-5zM530 268h5v5h-5zM575 268h5v5h-5zM605 268h5v5h-5zM455 273h5v5h-5zM475 273h5v5h-5zM600 273h5v5h-5zM605 273h5v5h-5zM610 278h5v5h-5zM645 278h5v5h-5zM505 283h5v5h-5zM550 283h5v5h-5zM455 288h5v5h-5zM465 288h5v5h-5zM505 288h5v5h-5zM460 293h5v5h-5zM545 293h5v5h-5zM575 293h5v5h-5zM580 293h5v5h-5zM615 293h5v5h-5zM580 298h5v5h-5zM610 298h5v5h-5zM530 303h5v5h-5zM500 308h5v5h-5zM520 308h5v5h-5zM530 308h5v5h-5zM560 308h5v5h-5zM585 308h5v5h-5zM595 308h5v5h-5zM650 308h5v5h-5zM520 313h5v5h-5zM540 313h5v5h-5zM565 313h5v5h-5zM600 313h5v5h-5zM615 313h5v5h-5zM655 313h5v5h-5zM535 318h5v5h-5zM530 323h5v5h-5zM545 323h5v5h-5zM545 328h5v5h-5zM555 328h5v5h-5zM560 328h5v5h-5zM665 328h5v5h-5zM560 333h5v5h-5zM610 333h5v5h-5zM670 333h5v5h-5zM495 338h5v5h-5zM500 338h5v5h-5zM615 338h5v5h-5zM620 338h5v5h-5zM480 343h5v5h-5zM580 343h5v5h-5zM465 348h5v5h-5zM535 348h5v5h-5zM540 348h5v5h-5zM615 348h5v5h-5zM675 348h5v5h-5zM680 348h5v5h-5zM685 348h5v5h-5zM545 353h5v5h-5zM650 353h5v5h-5zM455 358h5v5h-5zM545 363h5v5h-5zM500 368h5v5h-5zM530 368h5v5h-5zM495 373h5v5h-5zM640 373h5v5h-5zM565 383h5v5h-5zM620 383h5v5h-5zM595 388h5v5h-5zM620 388h5v5h-5zM575 398h5v5h-5zM520 403h5v5h-5zM505 408h5v5h-5zM585 408h5v5h-5zM590 408h5v5h-5zM475 413h5v5h-5zM595 413h5v5h-5zM460 418h5v5h-5zM495 423h5v5h-5zM610 428h5v5h-5zM675 428h5v5h-5zM685 428h5v5h-5zM505 433h5v5h-5zM600 433h5v5h-5zM455 438h5v5h-5zM570 438h5v5h-5zM685 438h5v5h-5zM520 443h5v5h-5zM580 448h5v5h-5zM645 448h5v5h-5zM485 453h5v5h-5zM505 453h5v5h-5z"/><path fill="rgb(133,133,133)" d="M475 223h5v5h-5zM500 223h5v5h-5zM520 223h5v5h-5zM465 228h5v5h-5zM485 228h5v5h-5zM500 228h5v5h-5zM520 228h5v5h-5zM635 228h5v5h-5zM495 233h5v5h-5zM615 238h5v5h-5zM625 238h5v5h-5zM540 243h5v5h-5zM555 243h5v5h-5zM615 243h5v5h-5zM675 243h5v5h-5zM525 248h5v5h-5zM550 248h5v5h-5zM620 248h5v5h-5zM515 253h5v5h-5zM550 253h5v5h-5zM615 253h5v5h-5zM680 253h5v5h-5zM615 263h5v5h-5zM635 268h5v5h-5zM480 273h5v5h-5zM505 273h5v5h-5zM495 278h5v5h-5zM620 278h5v5h-5zM475 283h5v5h-5zM555 283h5v5h-5zM460 288h5v5h-5zM550 288h5v5h-5zM655 288h5v5h-5zM530 293h5v5h-5zM610 293h5v5h-5zM530 298h5v5h-5zM540 298h5v5h-5zM575 298h5v5h-5zM610 303h5v5h-5zM540 308h5v5h-5zM615 308h5v5h-5zM680 308h5v5h-5zM570 313h5v5h-5zM685 313h5v5h-5zM675 318h5v5h-5zM535 323h5v5h-5zM540 323h5v5h-5zM550 323h5v5h-5zM555 323h5v5h-5zM670 323h5v5h-5zM615 328h5v5h-5zM660 328h5v5h-5zM480 333h5v5h-5zM565 333h5v5h-5zM570 333h5v5h-5zM500 343h5v5h-5zM575 343h5v5h-5zM480 348h5v5h-5zM485 348h5v5h-5zM495 348h5v5h-5zM610 348h5v5h-5zM655 348h5v5h-5zM465 353h5v5h-5zM500 353h5v5h-5zM535 358h5v5h-5zM655 358h5v5h-5zM535 363h5v5h-5zM540 368h5v5h-5zM625 368h5v5h-5zM530 373h5v5h-5zM675 373h5v5h-5zM500 383h5v5h-5zM555 383h5v5h-5zM600 388h5v5h-5zM565 393h5v5h-5zM600 393h5v5h-5zM615 393h5v5h-5zM455 403h5v5h-5zM670 403h5v5h-5zM675 403h5v5h-5zM580 408h5v5h-5zM600 408h5v5h-5zM495 413h5v5h-5zM505 413h5v5h-5zM515 413h5v5h-5zM520 413h5v5h-5zM590 423h5v5h-5zM550 428h5v5h-5zM585 428h5v5h-5zM590 428h5v5h-5zM645 428h5v5h-5zM550 433h5v5h-5zM650 438h5v5h-5zM475 443h5v5h-5zM500 443h5v5h-5zM515 443h5v5h-5zM550 443h5v5h-5zM650 443h5v5h-5zM595 448h5v5h-5zM650 448h5v5h-5zM515 453h5v5h-5zM550 453h5v5h-5zM565 453h5v5h-5zM575 453h5v5h-5zM580 453h5v5h-5z"/><path fill="rgb(144,144,144)" d="M485 223h5v5h-5zM640 223h5v5h-5zM620 233h5v5h-5zM680 233h5v5h-5zM685 233h5v5h-5zM520 243h5v5h-5zM620 243h5v5h-5zM515 248h5v5h-5zM520 253h5v5h-5zM685 253h5v5h-5zM500 263h5v5h-5zM655 263h5v5h-5zM455 268h5v5h-5zM660 268h5v5h-5zM635 273h5v5h-5zM660 273h5v5h-5zM655 278h5v5h-5zM615 283h5v5h-5zM535 288h5v5h-5zM545 288h5v5h-5zM610 288h5v5h-5zM620 288h5v5h-5zM455 293h5v5h-5zM555 293h5v5h-5zM475 298h5v5h-5zM605 298h5v5h-5zM655 298h5v5h-5zM490 308h5v5h-5zM610 308h5v5h-5zM660 308h5v5h-5zM675 308h5v5h-5zM535 313h5v5h-5zM580 313h5v5h-5zM560 318h5v5h-5zM680 318h5v5h-5zM685 318h5v5h-5zM500 328h5v5h-5zM620 328h5v5h-5zM660 333h5v5h-5zM680 333h5v5h-5zM455 348h5v5h-5zM580 348h5v5h-5zM660 353h5v5h-5zM545 358h5v5h-5zM495 363h5v5h-5zM535 373h5v5h-5zM625 373h5v5h-5zM615 378h5v5h-5zM490 383h5v5h-5zM615 383h5v5h-5zM610 388h5v5h-5zM490 393h5v5h-5zM500 393h5v5h-5zM460 403h5v5h-5zM475 408h5v5h-5zM595 408h5v5h-5zM670 413h5v5h-5zM455 418h5v5h-5zM455 423h5v5h-5zM545 423h5v5h-5zM600 423h5v5h-5zM615 423h5v5h-5zM650 423h5v5h-5zM465 428h5v5h-5zM490 428h5v5h-5zM680 428h5v5h-5zM490 433h5v5h-5zM570 433h5v5h-5zM585 433h5v5h-5zM680 433h5v5h-5zM500 438h5v5h-5zM480 443h5v5h-5zM495 443h5v5h-5zM660 443h5v5h-5zM575 448h5v5h-5zM495 453h5v5h-5zM595 453h5v5h-5zM600 453h5v5h-5z"/><path fill="rgb(155,155,155)" d="M475 228h5v5h-5zM460 233h5v5h-5zM615 233h5v5h-5zM620 238h5v5h-5zM680 238h5v5h-5zM685 238h5v5h-5zM535 243h5v5h-5zM615 248h5v5h-5zM675 248h5v5h-5zM535 253h5v5h-5zM505 263h5v5h-5zM535 263h5v5h-5zM460 268h5v5h-5zM535 268h5v5h-5zM500 278h5v5h-5zM495 283h5v5h-5zM470 288h5v5h-5zM480 288h5v5h-5zM470 293h5v5h-5zM660 298h5v5h-5zM535 303h5v5h-5zM600 303h5v5h-5zM660 303h5v5h-5zM570 308h5v5h-5zM490 313h5v5h-5zM555 313h5v5h-5zM675 313h5v5h-5zM680 313h5v5h-5zM555 318h5v5h-5zM685 323h5v5h-5zM495 328h5v5h-5zM670 328h5v5h-5zM500 333h5v5h-5zM535 333h5v5h-5zM540 333h5v5h-5zM620 333h5v5h-5zM655 333h5v5h-5zM675 333h5v5h-5zM685 333h5v5h-5zM500 348h5v5h-5zM535 353h5v5h-5zM540 363h5v5h-5zM620 378h5v5h-5zM560 383h5v5h-5zM570 383h5v5h-5zM515 408h5v5h-5zM670 408h5v5h-5zM460 413h5v5h-5zM480 413h5v5h-5zM540 423h5v5h-5zM660 423h5v5h-5zM535 428h5v5h-5zM685 433h5v5h-5zM495 438h5v5h-5zM560 443h5v5h-5zM580 443h5v5h-5zM655 443h5v5h-5zM475 448h5v5h-5zM500 448h5v5h-5zM515 448h5v5h-5zM520 448h5v5h-5zM660 448h5v5h-5z"/><path fill="rgb(166,166,166)" d="M465 223h5v5h-5zM650 263h5v5h-5zM495 268h5v5h-5zM640 268h5v5h-5zM495 273h5v5h-5zM540 288h5v5h-5zM555 288h5v5h-5zM560 288h5v5h-5zM615 288h5v5h-5zM480 293h5v5h-5zM560 293h5v5h-5zM655 293h5v5h-5zM660 293h5v5h-5zM535 298h5v5h-5zM580 303h5v5h-5zM655 303h5v5h-5zM535 308h5v5h-5zM605 308h5v5h-5zM675 323h5v5h-5zM680 323h5v5h-5zM540 328h5v5h-5zM655 328h5v5h-5zM495 333h5v5h-5zM615 333h5v5h-5zM460 348h5v5h-5zM495 368h5v5h-5zM535 368h5v5h-5zM620 368h5v5h-5zM565 388h5v5h-5zM615 388h5v5h-5zM570 393h5v5h-5zM500 408h5v5h-5zM520 408h5v5h-5zM500 413h5v5h-5zM675 413h5v5h-5zM595 423h5v5h-5zM460 433h5v5h-5zM660 438h5v5h-5zM575 443h5v5h-5zM480 448h5v5h-5zM495 448h5v5h-5zM550 448h5v5h-5zM480 453h5v5h-5zM500 453h5v5h-5zM655 453h5v5h-5z"/><path fill="rgb(177,177,177)" d="M480 223h5v5h-5zM480 228h5v5h-5zM680 243h5v5h-5zM685 243h5v5h-5zM520 248h5v5h-5zM680 248h5v5h-5zM685 248h5v5h-5zM505 268h5v5h-5zM610 268h5v5h-5zM640 273h5v5h-5zM615 278h5v5h-5zM650 278h5v5h-5zM495 288h5v5h-5zM540 293h5v5h-5zM575 303h5v5h-5zM605 303h5v5h-5zM600 308h5v5h-5zM495 313h5v5h-5zM560 313h5v5h-5zM535 328h5v5h-5zM685 328h5v5h-5zM460 353h5v5h-5zM615 368h5v5h-5zM490 388h5v5h-5zM500 388h5v5h-5zM580 393h5v5h-5zM460 408h5v5h-5zM480 408h5v5h-5zM675 408h5v5h-5zM460 423h5v5h-5zM500 428h5v5h-5zM575 428h5v5h-5zM600 428h5v5h-5zM620 428h5v5h-5zM540 433h5v5h-5zM545 433h5v5h-5zM620 433h5v5h-5zM655 448h5v5h-5zM520 453h5v5h-5zM660 453h5v5h-5z"/><path fill="rgb(188,188,188)" d="M540 253h5v5h-5zM560 253h5v5h-5zM500 283h5v5h-5zM495 308h5v5h-5zM655 308h5v5h-5zM575 313h5v5h-5zM680 328h5v5h-5zM455 353h5v5h-5zM540 358h5v5h-5zM615 373h5v5h-5zM495 383h5v5h-5zM575 383h5v5h-5zM580 388h5v5h-5zM555 393h5v5h-5zM455 408h5v5h-5zM455 413h5v5h-5zM655 423h5v5h-5zM495 428h5v5h-5zM580 428h5v5h-5zM595 428h5v5h-5zM615 428h5v5h-5zM455 433h5v5h-5zM615 433h5v5h-5zM655 438h5v5h-5zM555 443h5v5h-5zM560 448h5v5h-5z"/><path fill="rgb(200,200,200)" d="M460 228h5v5h-5zM455 233h5v5h-5zM535 248h5v5h-5zM540 248h5v5h-5zM610 273h5v5h-5zM475 288h5v5h-5zM500 288h5v5h-5zM535 293h5v5h-5zM580 308h5v5h-5zM675 328h5v5h-5zM540 353h5v5h-5zM655 353h5v5h-5zM620 373h5v5h-5zM570 388h5v5h-5zM560 393h5v5h-5zM545 428h5v5h-5zM500 433h5v5h-5zM650 433h5v5h-5z"/><path fill="rgb(211,211,211)" d="M455 223h5v5h-5zM460 223h5v5h-5zM455 228h5v5h-5zM560 248h5v5h-5zM555 253h5v5h-5zM645 268h5v5h-5zM500 273h5v5h-5zM475 293h5v5h-5zM495 393h5v5h-5zM455 428h5v5h-5zM495 433h5v5h-5z"/><path fill="rgb(222,222,222)" d="M500 268h5v5h-5zM620 268h5v5h-5zM620 273h5v5h-5zM645 273h5v5h-5zM460 428h5v5h-5zM650 428h5v5h-5zM575 438h5v5h-5zM580 438h5v5h-5zM555 453h5v5h-5z"/><path fill="rgb(233,233,233)" d="M555 248h5v5h-5zM575 308h5v5h-5zM555 388h5v5h-5zM575 393h5v5h-5zM540 428h5v5h-5zM660 433h5v5h-5zM560 453h5v5h-5z"/><path fill="rgb(244,244,244)" d="M615 268h5v5h-5zM655 268h5v5h-5zM655 273h5v5h-5zM560 388h5v5h-5zM660 428h5v5h-5zM555 448h5v5h-5z"/><path fill="rgb(255,255,255)" d="M650 268h5v5h-5zM615 273h5v5h-5zM650 273h5v5h-5zM495 388h5v5h-5zM575 388h5v5h-5zM655 428h5v5h-5zM575 433h5v5h-5zM580 433h5v5h-5zM655 433h5v5h-5z"/></g><rect x="460" y="228" width="224" height="224" fill="url(#grid)"/></g><text transform="translate(4.85,24.62) scale(1.04,1)" style="font-family:'Liberation Serif',serif;font-weight:bold;font-size:24px" fill="#fff" >(a)</text><text transform="translate(239,26.22) scale(1.04,1)" style="font-family:'Liberation Serif',serif;font-weight:bold;font-size:24px" fill="#fff" >(b)</text><text transform="translate(464.75,26.02) scale(1.04,1)" style="font-family:'Liberation Serif',serif;font-weight:bold;font-size:24px" fill="#fff" >(c)</text><text transform="translate(10.3,258.52) scale(1.04,1)" style="font-family:'Liberation Serif',serif;font-weight:bold;font-size:24px" fill="#fff" >(d)</text><text transform="translate(237.5,253.42) scale(1.04,1)" style="font-family:'Liberation Serif',serif;font-weight:bold;font-size:24px" fill="#fff" >(e)</text><text transform="translate(465.43,258.64) scale(1.04,1)" style="font-family:'Liberation Serif',serif;font-weight:bold;font-size:24px" fill="#fff" >(f)</text><circle cx="199.3" cy="45.7" r="9.8" fill="none" stroke="#fff" stroke-width="2"/><circle cx="428.9" cy="42.3" r="9.8" fill="none" stroke="#fff" stroke-width="2"/><circle cx="653.4" cy="42.1" r="9.8" fill="none" stroke="#fff" stroke-width="2"/><circle cx="202.6" cy="269.7" r="9.8" fill="none" stroke="#fff" stroke-width="2"/><circle cx="428.9" cy="271.2" r="9.8" fill="none" stroke="#fff" stroke-width="2"/><circle cx="657.9" cy="272" r="9.8" fill="none" stroke="#fff" stroke-width="2"/><rect x="7.2" y="178.2" width="72.8" height="21.6" fill="#ffffff"/><text transform="translate(13.52,195.84)" style="font-family:'Liberation Sans',sans-serif;font-weight:normal;font-size:18px" fill="#000" >HAADF</text><rect x="235.1" y="178.3" width="35" height="21.5" fill="#12f2f2"/><text transform="translate(240.97,196.15)" style="font-family:'Liberation Sans',sans-serif;font-weight:normal;font-size:18px" fill="#0a2c2c" >Co</text><rect x="463.1" y="178.1" width="30.2" height="21.7" fill="#f212f2"/><text transform="translate(470.08,196.47)" style="font-family:'Liberation Sans',sans-serif;font-weight:normal;font-size:18px" fill="#3c003c" >Al</text><rect x="6.6" y="405.8" width="30.6" height="21.4" fill="#1414f0"/><text transform="translate(13.4,423.34)" style="font-family:'Liberation Sans',sans-serif;font-weight:normal;font-size:18px" fill="#fff" >W</text><rect x="235.1" y="405.8" width="28" height="21.4" fill="#f21414"/><text transform="translate(241.31,423.67)" style="font-family:'Liberation Sans',sans-serif;font-weight:normal;font-size:18px" fill="#2c0000" >Ti</text><rect x="463.1" y="405.3" width="33" height="21.9" fill="#14f214"/><text transform="translate(468.14,423.35)" style="font-family:'Liberation Sans',sans-serif;font-weight:normal;font-size:18px" fill="#002c00" >Ta</text><text transform="translate(93.24,27.78)" style="font-family:'Liberation Serif',serif;font-weight:bold;font-size:16.3px" fill="#fff" >A</text><text transform="translate(105.54,27.8)" style="font-family:'Liberation Serif',serif;font-weight:bold;font-size:9.5px" fill="#fff" >b</text><text transform="translate(116.96,29.21)" style="font-family:'Liberation Serif',serif;font-weight:bold;font-size:19.5px" fill="#fff" >B</text><text transform="translate(66.64,69.78)" style="font-family:'Liberation Serif',serif;font-weight:bold;font-size:16.3px" fill="#fff" >A</text><text transform="translate(79.49,69.66)" style="font-family:'Liberation Serif',serif;font-weight:bold;font-size:10.5px" fill="#fff" >a</text><line x1="103.2" y1="31" x2="103.2" y2="36.4" stroke="#fff" stroke-width="1"/><polygon points="103.2,39.8 101.3,36.4 105.1,36.4" fill="#fff"/><line x1="122.5" y1="31.6" x2="122.5" y2="36.4" stroke="#fff" stroke-width="1"/><polygon points="122.5,39.8 120.6,36.4 124.4,36.4" fill="#fff"/><line x1="87.4" y1="67.5" x2="92.2" y2="67.5" stroke="#fff" stroke-width="1"/><polygon points="95.6,67.5 92.2,69.4 92.2,65.6" fill="#fff"/><line x1="83.6" y1="112.3" x2="83.6" y2="137.6" stroke="#fff" stroke-width="0.9" stroke-dasharray="1.6 1.1"/><line x1="102.5" y1="112.3" x2="102.5" y2="137.6" stroke="#fff" stroke-width="0.9" stroke-dasharray="1.6 1.1"/><text transform="translate(77.28,160.77)" style="font-family:'Liberation Serif',serif;font-weight:bold;font-size:18.5px" fill="#fff" >1.8A</text><text transform="translate(104.05,146.51)" style="font-family:'Liberation Serif',serif;font-weight:bold;font-size:10px" fill="#fff" >o</text><rect x="152.1" y="203.3" width="55.8" height="4.7" fill="#fff"/><text transform="translate(167.07,197.96)" style="font-family:'Liberation Serif',serif;font-weight:bold;font-size:18px" fill="#fff" >5</text><text transform="translate(180.52,198.15)" style="font-family:'Liberation Serif',serif;font-weight:bold;font-size:16.5px" fill="#fff" >A</text><text transform="translate(184.5,183.81)" style="font-family:'Liberation Serif',serif;font-weight:bold;font-size:10px" fill="#fff" >o</text><rect x="59.65" y="513.63" width="9.9" height="37.57" fill="url(#pAa)" stroke="#222" stroke-width="0.6"/><rect x="59.65" y="555" width="9.9" height="126.6" fill="url(#pAa)" stroke="#222" stroke-width="0.6"/><rect x="69.55" y="520.37" width="9.9" height="30.83" fill="url(#pAb)" stroke="#222" stroke-width="0.6"/><rect x="69.55" y="555" width="9.9" height="126.6" fill="url(#pAb)" stroke="#222" stroke-width="0.6"/><rect x="79.45" y="547.05" width="9.9" height="4.15" fill="url(#pB)" stroke="#222" stroke-width="0.6"/><rect x="79.45" y="555" width="9.9" height="126.6" fill="url(#pB)" stroke="#222" stroke-width="0.6"/><rect x="117.55" y="657.27" width="9.9" height="24.33" fill="url(#pAa)" stroke="#222" stroke-width="0.6"/><rect x="127.45" y="648.77" width="9.9" height="32.83" fill="url(#pAb)" stroke="#222" stroke-width="0.6"/><rect x="137.35" y="619.88" width="9.9" height="61.73" fill="url(#pB)" stroke="#222" stroke-width="0.6"/><rect x="175.45" y="659.4" width="9.9" height="22.2" fill="url(#pAa)" stroke="#222" stroke-width="0.6"/><rect x="185.35" y="653.88" width="9.9" height="27.73" fill="url(#pAb)" stroke="#222" stroke-width="0.6"/><rect x="195.25" y="632.2" width="9.9" height="49.4" fill="url(#pB)" stroke="#222" stroke-width="0.6"/><rect x="233.35" y="669.17" width="9.9" height="12.43" fill="url(#pAa)" stroke="#222" stroke-width="0.6"/><rect x="243.25" y="663.65" width="9.9" height="17.95" fill="url(#pAb)" stroke="#222" stroke-width="0.6"/><rect x="253.15" y="633.9" width="9.9" height="47.7" fill="url(#pB)" stroke="#222" stroke-width="0.6"/><rect x="291.25" y="679.8" width="9.9" height="1.8" fill="url(#pAa)" stroke="#222" stroke-width="0.6"/><rect x="301.15" y="678.1" width="9.9" height="3.5" fill="url(#pAb)" stroke="#222" stroke-width="0.6"/><rect x="311.05" y="674.27" width="9.9" height="7.33" fill="url(#pB)" stroke="#222" stroke-width="0.6"/><line x1="64.6" y1="496.8" x2="64.6" y2="530.3" stroke="#111" stroke-width="1.1"/><line x1="62.4" y1="496.8" x2="66.8" y2="496.8" stroke="#111" stroke-width="1.1"/><line x1="62.4" y1="530.3" x2="66.8" y2="530.3" stroke="#111" stroke-width="1.1"/><line x1="74.5" y1="506.3" x2="74.5" y2="535.3" stroke="#111" stroke-width="1.1"/><line x1="72.3" y1="506.3" x2="76.7" y2="506.3" stroke="#111" stroke-width="1.1"/><line x1="72.3" y1="535.3" x2="76.7" y2="535.3" stroke="#111" stroke-width="1.1"/><line x1="84.4" y1="532.5" x2="84.4" y2="547.05" stroke="#111" stroke-width="1.1"/><line x1="82.2" y1="532.5" x2="86.6" y2="532.5" stroke="#111" stroke-width="1.1"/><line x1="122.5" y1="613.7" x2="122.5" y2="657.27" stroke="#111" stroke-width="1.1"/><line x1="120.3" y1="613.7" x2="124.7" y2="613.7" stroke="#111" stroke-width="1.1"/><line x1="132.4" y1="608.5" x2="132.4" y2="648.77" stroke="#111" stroke-width="1.1"/><line x1="130.2" y1="608.5" x2="134.6" y2="608.5" stroke="#111" stroke-width="1.1"/><line x1="142.3" y1="569.5" x2="142.3" y2="619.88" stroke="#111" stroke-width="1.1"/><line x1="140.1" y1="569.5" x2="144.5" y2="569.5" stroke="#111" stroke-width="1.1"/><line x1="180.4" y1="649.9" x2="180.4" y2="670" stroke="#111" stroke-width="1.1"/><line x1="178.2" y1="649.9" x2="182.6" y2="649.9" stroke="#111" stroke-width="1.1"/><line x1="178.2" y1="670" x2="182.6" y2="670" stroke="#111" stroke-width="1.1"/><line x1="190.3" y1="627.9" x2="190.3" y2="653.88" stroke="#111" stroke-width="1.1"/><line x1="188.1" y1="627.9" x2="192.5" y2="627.9" stroke="#111" stroke-width="1.1"/><line x1="200.2" y1="613.2" x2="200.2" y2="632.2" stroke="#111" stroke-width="1.1"/><line x1="198" y1="613.2" x2="202.4" y2="613.2" stroke="#111" stroke-width="1.1"/><line x1="238.3" y1="650.3" x2="238.3" y2="669.17" stroke="#111" stroke-width="1.1"/><line x1="236.1" y1="650.3" x2="240.5" y2="650.3" stroke="#111" stroke-width="1.1"/><line x1="248.2" y1="629.8" x2="248.2" y2="663.65" stroke="#111" stroke-width="1.1"/><line x1="246" y1="629.8" x2="250.4" y2="629.8" stroke="#111" stroke-width="1.1"/><line x1="258.1" y1="587.3" x2="258.1" y2="633.9" stroke="#111" stroke-width="1.1"/><line x1="255.9" y1="587.3" x2="260.3" y2="587.3" stroke="#111" stroke-width="1.1"/><line x1="296.2" y1="675.2" x2="296.2" y2="679.8" stroke="#111" stroke-width="1.1"/><line x1="294" y1="675.2" x2="298.4" y2="675.2" stroke="#111" stroke-width="1.1"/><line x1="306.1" y1="662.4" x2="306.1" y2="678.1" stroke="#111" stroke-width="1.1"/><line x1="303.9" y1="662.4" x2="308.3" y2="662.4" stroke="#111" stroke-width="1.1"/><line x1="316" y1="657.4" x2="316" y2="674.27" stroke="#111" stroke-width="1.1"/><line x1="313.8" y1="657.4" x2="318.2" y2="657.4" stroke="#111" stroke-width="1.1"/><rect x="40" y="551.2" width="300" height="3.8" fill="#fff"/><path d="M45.2,467.4 H334.9 V551 M334.9,555 V681.6 H45.2 V555 M45.2,551 V467.4" fill="none" stroke="#111" stroke-width="1.7"/><path d="M40.3,553.4 L50.1,549.3 M40.3,557 L50.1,553" stroke="#111" stroke-width="1.4" stroke-linecap="round"/><path d="M330,553.4 L339.8,549.3 M330,557 L339.8,553" stroke="#111" stroke-width="1.4" stroke-linecap="round"/><line x1="40.2" y1="467.55" x2="45.2" y2="467.55" stroke="#111" stroke-width="1.5"/><text transform="translate(16.1,470.92) scale(1.04,1)" style="font-family:'Liberation Sans',sans-serif;font-weight:bold;font-size:12.7px" fill="#111" >120</text><line x1="40.2" y1="494.5" x2="45.2" y2="494.5" stroke="#111" stroke-width="1.5"/><text transform="translate(16.1,497.87) scale(1.04,1)" style="font-family:'Liberation Sans',sans-serif;font-weight:bold;font-size:12.7px" fill="#111" >100</text><line x1="40.2" y1="521.45" x2="45.2" y2="521.45" stroke="#111" stroke-width="1.5"/><text transform="translate(23.48,524.82) scale(1.04,1)" style="font-family:'Liberation Sans',sans-serif;font-weight:bold;font-size:12.7px" fill="#111" >80</text><line x1="40.2" y1="548.4" x2="45.2" y2="548.4" stroke="#111" stroke-width="1.5"/><text transform="translate(23.48,551.77) scale(1.04,1)" style="font-family:'Liberation Sans',sans-serif;font-weight:bold;font-size:12.7px" fill="#111" >60</text><line x1="42.2" y1="481.02" x2="45.2" y2="481.02" stroke="#111" stroke-width="1.5"/><line x1="42.2" y1="507.97" x2="45.2" y2="507.97" stroke="#111" stroke-width="1.5"/><line x1="42.2" y1="534.92" x2="45.2" y2="534.92" stroke="#111" stroke-width="1.5"/><line x1="40.2" y1="596.5" x2="45.2" y2="596.5" stroke="#111" stroke-width="1.5"/><text transform="translate(23.48,599.87) scale(1.04,1)" style="font-family:'Liberation Sans',sans-serif;font-weight:bold;font-size:12.7px" fill="#111" >20</text><line x1="40.2" y1="639" x2="45.2" y2="639" stroke="#111" stroke-width="1.5"/><text transform="translate(23.48,642.37) scale(1.04,1)" style="font-family:'Liberation Sans',sans-serif;font-weight:bold;font-size:12.7px" fill="#111" >10</text><line x1="40.2" y1="681.5" x2="45.2" y2="681.5" stroke="#111" stroke-width="1.5"/><text transform="translate(30.86,684.87) scale(1.04,1)" style="font-family:'Liberation Sans',sans-serif;font-weight:bold;font-size:12.7px" fill="#111" >0</text><line x1="42.2" y1="575.25" x2="45.2" y2="575.25" stroke="#111" stroke-width="1.5"/><line x1="42.2" y1="617.75" x2="45.2" y2="617.75" stroke="#111" stroke-width="1.5"/><line x1="42.2" y1="660.25" x2="45.2" y2="660.25" stroke="#111" stroke-width="1.5"/><text transform="translate(64.4,704.05) scale(1.07,1)" style="font-family:'Liberation Sans',sans-serif;font-weight:bold;font-size:15.4px" fill="#111" >Co</text><text transform="translate(123.99,704.33) scale(1.07,1)" style="font-family:'Liberation Sans',sans-serif;font-weight:bold;font-size:15.4px" fill="#111" >Al</text><text transform="translate(182.02,704.05) scale(1.07,1)" style="font-family:'Liberation Sans',sans-serif;font-weight:bold;font-size:15.4px" fill="#111" >W</text><text transform="translate(240.47,704.23) scale(1.07,1)" style="font-family:'Liberation Sans',sans-serif;font-weight:bold;font-size:15.4px" fill="#111" >Ti</text><text transform="translate(298.29,703.97) scale(1.07,1)" style="font-family:'Liberation Sans',sans-serif;font-weight:bold;font-size:15.4px" fill="#111" >Ta</text><text transform="translate(52.51,485.51) scale(1.13,1)" style="font-family:'Liberation Sans',sans-serif;font-weight:bold;font-size:14.4px" fill="#111" >85.8</text><text transform="translate(67.66,506.36) scale(1.13,1)" style="font-family:'Liberation Sans',sans-serif;font-weight:bold;font-size:14.4px" fill="#111" >80.8</text><text transform="translate(82.6,532.71) scale(1.13,1)" style="font-family:'Liberation Sans',sans-serif;font-weight:bold;font-size:14.4px" fill="#111" >61.0</text><text transform="translate(129.58,569.98) scale(1.13,1)" style="font-family:'Liberation Sans',sans-serif;font-weight:bold;font-size:14.4px" fill="#111" >14.5</text><text transform="translate(122.95,594.8) scale(1.13,1)" style="font-family:'Liberation Sans',sans-serif;font-weight:bold;font-size:14.4px" fill="#111" >7.7</text><text transform="translate(112.45,613.98) scale(1.13,1)" style="font-family:'Liberation Sans',sans-serif;font-weight:bold;font-size:14.4px" fill="#111" >5.7</text><text transform="translate(186.9,611.91) scale(1.13,1)" style="font-family:'Liberation Sans',sans-serif;font-weight:bold;font-size:14.4px" fill="#111" >11.6</text><text transform="translate(171.87,627.66) scale(1.13,1)" style="font-family:'Liberation Sans',sans-serif;font-weight:bold;font-size:14.4px" fill="#111" >6.5</text><text transform="translate(170.27,647.71) scale(1.13,1)" style="font-family:'Liberation Sans',sans-serif;font-weight:bold;font-size:14.4px" fill="#111" >5.2</text><text transform="translate(246.88,586.98) scale(1.13,1)" style="font-family:'Liberation Sans',sans-serif;font-weight:bold;font-size:14.4px" fill="#111" >11.2</text><text transform="translate(235.79,622.78) scale(1.13,1)" style="font-family:'Liberation Sans',sans-serif;font-weight:bold;font-size:14.4px" fill="#111" >4.2</text><text transform="translate(228.56,648.31) scale(1.13,1)" style="font-family:'Liberation Sans',sans-serif;font-weight:bold;font-size:14.4px" fill="#111" >2.9</text><text transform="translate(306.83,634.4) scale(1.13,1)" style="font-family:'Liberation Sans',sans-serif;font-weight:bold;font-size:14.4px" fill="#111" >1.7</text><text transform="translate(298.42,652.86) scale(1.13,1)" style="font-family:'Liberation Sans',sans-serif;font-weight:bold;font-size:14.4px" fill="#111" >0.8</text><text transform="translate(286.51,668.16) scale(1.13,1)" style="font-family:'Liberation Sans',sans-serif;font-weight:bold;font-size:14.4px" fill="#111" >0.4</text><text transform="translate(12.96,650.26) rotate(-90) scale(1.04,1)" style="font-family:'Liberation Sans',sans-serif;font-weight:bold;font-size:16.2px" fill="#111">Content (at.%)</text><rect x="155.8" y="472" width="32.2" height="15.2" fill="url(#pAa)" stroke="#444" stroke-width="0.8"/><rect x="155.8" y="489.75" width="32.2" height="15.2" fill="url(#pAb)" stroke="#444" stroke-width="0.8"/><rect x="155.8" y="507.5" width="32.2" height="15.2" fill="url(#pB)" stroke="#444" stroke-width="0.8"/><text transform="translate(191.71,484.35)" style="font-family:'Liberation Sans',sans-serif;font-weight:bold;font-size:11.8px" fill="#111" >Aa</text><text transform="translate(191.71,501.32)" style="font-family:'Liberation Sans',sans-serif;font-weight:bold;font-size:11.8px" fill="#111" >Ab</text><text transform="translate(191.21,518.96)" style="font-family:'Liberation Sans',sans-serif;font-weight:bold;font-size:11.8px" fill="#111" >B</text><text transform="translate(300.3,489.18) scale(1.04,1)" style="font-family:'Liberation Serif',serif;font-weight:bold;font-size:24px" fill="#111" >(g)</text><rect x="412.9" y="652.63" width="8.4" height="27.07" fill="url(#pHa)" stroke="#222" stroke-width="0.8"/><rect x="421.3" y="650.73" width="8.4" height="28.98" fill="url(#pHb)" stroke="#16167a" stroke-width="0.8"/><rect x="467.9" y="583.24" width="8.4" height="96.46" fill="url(#pHa)" stroke="#222" stroke-width="0.8"/><rect x="476.3" y="608.03" width="8.4" height="71.67" fill="url(#pHb)" stroke="#16167a" stroke-width="0.8"/><rect x="522.7" y="593.92" width="8.4" height="85.78" fill="url(#pHa)" stroke="#222" stroke-width="0.8"/><rect x="531.1" y="612.22" width="8.4" height="67.48" fill="url(#pHb)" stroke="#16167a" stroke-width="0.8"/><rect x="577.6" y="533.68" width="8.4" height="146.02" fill="url(#pHa)" stroke="#222" stroke-width="0.8"/><rect x="586" y="578.67" width="8.4" height="101.03" fill="url(#pHb)" stroke="#16167a" stroke-width="0.8"/><rect x="632.2" y="517.29" width="8.4" height="162.41" fill="url(#pHa)" stroke="#222" stroke-width="0.8"/><rect x="640.6" y="594.68" width="8.4" height="85.02" fill="url(#pHb)" stroke="#16167a" stroke-width="0.8"/><path d="M393.9,469.2 V679.7 H678.8 V469.2 Z" fill="none" stroke="#111" stroke-width="1.7"/><line x1="389.1" y1="679.7" x2="393.9" y2="679.7" stroke="#111" stroke-width="1.5"/><text transform="translate(368.5,683.02) scale(1.04,1)" style="font-family:'Liberation Sans',sans-serif;font-weight:bold;font-size:12.7px" fill="#111" >0.0</text><line x1="391.1" y1="664.45" x2="393.9" y2="664.45" stroke="#111" stroke-width="1.5"/><line x1="389.1" y1="649.2" x2="393.9" y2="649.2" stroke="#111" stroke-width="1.5"/><text transform="translate(368.36,652.52) scale(1.04,1)" style="font-family:'Liberation Sans',sans-serif;font-weight:bold;font-size:12.7px" fill="#111" >0.8</text><line x1="391.1" y1="633.95" x2="393.9" y2="633.95" stroke="#111" stroke-width="1.5"/><line x1="389.1" y1="618.7" x2="393.9" y2="618.7" stroke="#111" stroke-width="1.5"/><text transform="translate(368.43,622.02) scale(1.04,1)" style="font-family:'Liberation Sans',sans-serif;font-weight:bold;font-size:12.7px" fill="#111" >1.6</text><line x1="391.1" y1="603.45" x2="393.9" y2="603.45" stroke="#111" stroke-width="1.5"/><line x1="389.1" y1="588.2" x2="393.9" y2="588.2" stroke="#111" stroke-width="1.5"/><text transform="translate(368.02,591.58) scale(1.04,1)" style="font-family:'Liberation Sans',sans-serif;font-weight:bold;font-size:12.7px" fill="#111" >2.4</text><line x1="391.1" y1="572.95" x2="393.9" y2="572.95" stroke="#111" stroke-width="1.5"/><line x1="389.1" y1="557.7" x2="393.9" y2="557.7" stroke="#111" stroke-width="1.5"/><text transform="translate(368.48,561.01) scale(1.04,1)" style="font-family:'Liberation Sans',sans-serif;font-weight:bold;font-size:12.7px" fill="#111" >3.2</text><line x1="391.1" y1="542.45" x2="393.9" y2="542.45" stroke="#111" stroke-width="1.5"/><line x1="389.1" y1="527.2" x2="393.9" y2="527.2" stroke="#111" stroke-width="1.5"/><text transform="translate(368.5,530.52) scale(1.04,1)" style="font-family:'Liberation Sans',sans-serif;font-weight:bold;font-size:12.7px" fill="#111" >4.0</text><line x1="391.1" y1="511.95" x2="393.9" y2="511.95" stroke="#111" stroke-width="1.5"/><line x1="389.1" y1="496.7" x2="393.9" y2="496.7" stroke="#111" stroke-width="1.5"/><text transform="translate(368.36,500.02) scale(1.04,1)" style="font-family:'Liberation Sans',sans-serif;font-weight:bold;font-size:12.7px" fill="#111" >4.8</text><line x1="391.1" y1="481.45" x2="393.9" y2="481.45" stroke="#111" stroke-width="1.5"/><text transform="translate(412.5,702.6) scale(1.07,1)" style="font-family:'Liberation Sans',sans-serif;font-weight:bold;font-size:15.4px" fill="#111" >Co</text><text transform="translate(470.99,701.68) scale(1.07,1)" style="font-family:'Liberation Sans',sans-serif;font-weight:bold;font-size:15.4px" fill="#111" >Al</text><text transform="translate(528.77,701.6) scale(1.07,1)" style="font-family:'Liberation Sans',sans-serif;font-weight:bold;font-size:15.4px" fill="#111" >W</text><text transform="translate(585.32,700.93) scale(1.07,1)" style="font-family:'Liberation Sans',sans-serif;font-weight:bold;font-size:15.4px" fill="#111" >Ti</text><text transform="translate(642.94,699.92) scale(1.07,1)" style="font-family:'Liberation Sans',sans-serif;font-weight:bold;font-size:15.4px" fill="#111" >Ta</text><text transform="translate(400.08,647.66) scale(1.09,1)" style="font-family:'Liberation Sans',sans-serif;font-weight:bold;font-size:14.4px" fill="#111" >0.71</text><text transform="translate(418.1,630.11) scale(1.09,1)" style="font-family:'Liberation Sans',sans-serif;font-weight:bold;font-size:14.4px" fill="#111" >0.76</text><text transform="translate(460.64,579.55) scale(1.09,1)" style="font-family:'Liberation Sans',sans-serif;font-weight:bold;font-size:14.4px" fill="#111" >2.53</text><text transform="translate(478.02,603.86) scale(1.09,1)" style="font-family:'Liberation Sans',sans-serif;font-weight:bold;font-size:14.4px" fill="#111" >1.88</text><text transform="translate(516.17,587.31) scale(1.09,1)" style="font-family:'Liberation Sans',sans-serif;font-weight:bold;font-size:14.4px" fill="#111" >2.25</text><text transform="translate(540.53,610.2) scale(1.09,1)" style="font-family:'Liberation Sans',sans-serif;font-weight:bold;font-size:14.4px" fill="#111" >1.77</text><text transform="translate(564.48,527.3) scale(1.09,1)" style="font-family:'Liberation Sans',sans-serif;font-weight:bold;font-size:14.4px" fill="#111" >3.83</text><text transform="translate(596.02,573.91) scale(1.09,1)" style="font-family:'Liberation Sans',sans-serif;font-weight:bold;font-size:14.4px" fill="#111" >2.65</text><text transform="translate(620.59,512.01) scale(1.09,1)" style="font-family:'Liberation Sans',sans-serif;font-weight:bold;font-size:14.4px" fill="#111" >4.26</text><text transform="translate(640.99,590.65) scale(1.09,1)" style="font-family:'Liberation Sans',sans-serif;font-weight:bold;font-size:14.4px" fill="#111" >2.23</text><text transform="translate(356.32,611.39) rotate(-90)" style="font-family:'Liberation Sans',sans-serif;font-weight:bold;font-size:14.6px" fill="#111">K</text><text transform="translate(363.78,599.25) rotate(-90)" style="font-family:'Liberation Sans',sans-serif;font-weight:bold;font-size:9.3px" fill="#111">B/A</text><rect x="492.4" y="476.3" width="31.4" height="15.4" fill="url(#pHa)" stroke="#333" stroke-width="0.9"/><rect x="492.4" y="498.2" width="31.4" height="15.5" fill="url(#pHb)" stroke="#1c1c6c" stroke-width="0.9"/><text transform="translate(527.53,488.17)" style="font-family:'Liberation Sans',sans-serif;font-weight:bold;font-size:13px" fill="#111" >K</text><text transform="translate(536.99,493.62)" style="font-family:'Liberation Sans',sans-serif;font-weight:bold;font-size:8.3px" fill="#111" >B/Aa</text><text transform="translate(527.53,510.62)" style="font-family:'Liberation Sans',sans-serif;font-weight:bold;font-size:13px" fill="#111" >K</text><text transform="translate(536.96,516.37)" style="font-family:'Liberation Sans',sans-serif;font-weight:bold;font-size:8.3px" fill="#111" >B/Ab</text><text transform="translate(398.8,491.17) scale(1.04,1)" style="font-family:'Liberation Serif',serif;font-weight:bold;font-size:24px" fill="#111" >(h)</text></svg></body></html>
